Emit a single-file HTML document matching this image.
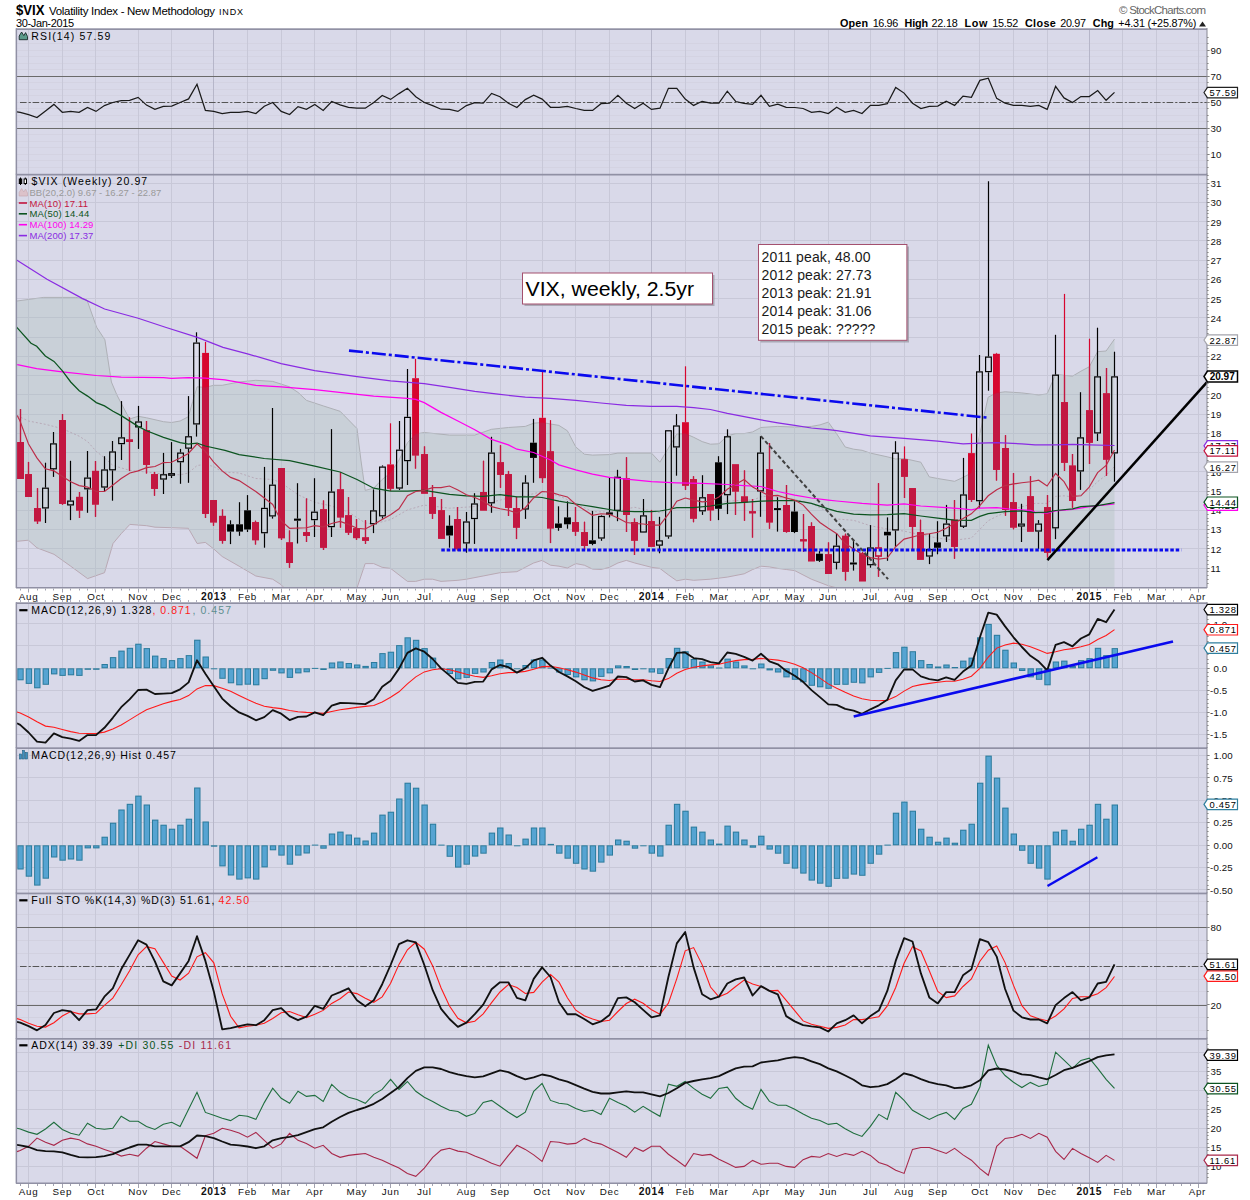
<!DOCTYPE html>
<html><head><meta charset="utf-8"><title>$VIX</title>
<style>html,body{margin:0;padding:0;background:#fff}svg{display:block;will-change:opacity;opacity:.9999}text{font-family:"Liberation Sans",sans-serif}</style>
</head><body>
<svg width="1250" height="1200" viewBox="0 0 1250 1200">
<rect x="0" y="0" width="1250" height="1200" fill="#fff"/>
<rect x="16" y="29" width="1191" height="145.5" fill="#d9d9e9"/>
<rect x="16" y="174.5" width="1191" height="413.5" fill="#d9d9e9"/>
<rect x="16" y="603" width="1191" height="580.5" fill="#d9d9e9"/>
<line x1="16" x2="1207" y1="167.5" y2="167.5" stroke="#d4d3e2" stroke-width="1"/>
<line x1="16" x2="1207" y1="160.5" y2="160.5" stroke="#d4d3e2" stroke-width="1"/>
<line x1="16" x2="1207" y1="154.5" y2="154.5" stroke="#d4d3e2" stroke-width="1"/>
<line x1="16" x2="1207" y1="147.5" y2="147.5" stroke="#d4d3e2" stroke-width="1"/>
<line x1="16" x2="1207" y1="141.5" y2="141.5" stroke="#d4d3e2" stroke-width="1"/>
<line x1="16" x2="1207" y1="134.5" y2="134.5" stroke="#d4d3e2" stroke-width="1"/>
<line x1="16" x2="1207" y1="128.5" y2="128.5" stroke="#d4d3e2" stroke-width="1"/>
<line x1="16" x2="1207" y1="121.5" y2="121.5" stroke="#d4d3e2" stroke-width="1"/>
<line x1="16" x2="1207" y1="115.5" y2="115.5" stroke="#d4d3e2" stroke-width="1"/>
<line x1="16" x2="1207" y1="108.5" y2="108.5" stroke="#d4d3e2" stroke-width="1"/>
<line x1="16" x2="1207" y1="102.5" y2="102.5" stroke="#d4d3e2" stroke-width="1"/>
<line x1="16" x2="1207" y1="95.5" y2="95.5" stroke="#d4d3e2" stroke-width="1"/>
<line x1="16" x2="1207" y1="89.5" y2="89.5" stroke="#d4d3e2" stroke-width="1"/>
<line x1="16" x2="1207" y1="82.5" y2="82.5" stroke="#d4d3e2" stroke-width="1"/>
<line x1="16" x2="1207" y1="76.5" y2="76.5" stroke="#d4d3e2" stroke-width="1"/>
<line x1="16" x2="1207" y1="69.5" y2="69.5" stroke="#d4d3e2" stroke-width="1"/>
<line x1="16" x2="1207" y1="63.5" y2="63.5" stroke="#d4d3e2" stroke-width="1"/>
<line x1="16" x2="1207" y1="56.5" y2="56.5" stroke="#d4d3e2" stroke-width="1"/>
<line x1="16" x2="1207" y1="50.5" y2="50.5" stroke="#d4d3e2" stroke-width="1"/>
<line x1="16" x2="1207" y1="43.5" y2="43.5" stroke="#d4d3e2" stroke-width="1"/>
<line x1="16" x2="1207" y1="568.5" y2="568.5" stroke="#c8c8d8" stroke-width="1"/>
<line x1="16" x2="1207" y1="548.5" y2="548.5" stroke="#c8c8d8" stroke-width="1"/>
<line x1="16" x2="1207" y1="529.5" y2="529.5" stroke="#c8c8d8" stroke-width="1"/>
<line x1="16" x2="1207" y1="510.5" y2="510.5" stroke="#c8c8d8" stroke-width="1"/>
<line x1="16" x2="1207" y1="491.5" y2="491.5" stroke="#c8c8d8" stroke-width="1"/>
<line x1="16" x2="1207" y1="471.5" y2="471.5" stroke="#c8c8d8" stroke-width="1"/>
<line x1="16" x2="1207" y1="452.5" y2="452.5" stroke="#c8c8d8" stroke-width="1"/>
<line x1="16" x2="1207" y1="433.5" y2="433.5" stroke="#c8c8d8" stroke-width="1"/>
<line x1="16" x2="1207" y1="414.5" y2="414.5" stroke="#c8c8d8" stroke-width="1"/>
<line x1="16" x2="1207" y1="394.5" y2="394.5" stroke="#c8c8d8" stroke-width="1"/>
<line x1="16" x2="1207" y1="375.5" y2="375.5" stroke="#c8c8d8" stroke-width="1"/>
<line x1="16" x2="1207" y1="356.5" y2="356.5" stroke="#c8c8d8" stroke-width="1"/>
<line x1="16" x2="1207" y1="337.5" y2="337.5" stroke="#c8c8d8" stroke-width="1"/>
<line x1="16" x2="1207" y1="317.5" y2="317.5" stroke="#c8c8d8" stroke-width="1"/>
<line x1="16" x2="1207" y1="298.5" y2="298.5" stroke="#c8c8d8" stroke-width="1"/>
<line x1="16" x2="1207" y1="279.5" y2="279.5" stroke="#c8c8d8" stroke-width="1"/>
<line x1="16" x2="1207" y1="260.5" y2="260.5" stroke="#c8c8d8" stroke-width="1"/>
<line x1="16" x2="1207" y1="240.5" y2="240.5" stroke="#c8c8d8" stroke-width="1"/>
<line x1="16" x2="1207" y1="221.5" y2="221.5" stroke="#c8c8d8" stroke-width="1"/>
<line x1="16" x2="1207" y1="202.5" y2="202.5" stroke="#c8c8d8" stroke-width="1"/>
<line x1="16" x2="1207" y1="183.5" y2="183.5" stroke="#c8c8d8" stroke-width="1"/>
<line x1="16" x2="1207" y1="734.5" y2="734.5" stroke="#c8c8d8" stroke-width="1"/>
<line x1="16" x2="1207" y1="712.5" y2="712.5" stroke="#c8c8d8" stroke-width="1"/>
<line x1="16" x2="1207" y1="690.5" y2="690.5" stroke="#c8c8d8" stroke-width="1"/>
<line x1="16" x2="1207" y1="668.5" y2="668.5" stroke="#c8c8d8" stroke-width="1"/>
<line x1="16" x2="1207" y1="645.5" y2="645.5" stroke="#c8c8d8" stroke-width="1"/>
<line x1="16" x2="1207" y1="623.5" y2="623.5" stroke="#c8c8d8" stroke-width="1"/>
<line x1="16" x2="1207" y1="889.5" y2="889.5" stroke="#c8c8d8" stroke-width="1"/>
<line x1="16" x2="1207" y1="867.5" y2="867.5" stroke="#c8c8d8" stroke-width="1"/>
<line x1="16" x2="1207" y1="845.5" y2="845.5" stroke="#c8c8d8" stroke-width="1"/>
<line x1="16" x2="1207" y1="822.5" y2="822.5" stroke="#c8c8d8" stroke-width="1"/>
<line x1="16" x2="1207" y1="800.5" y2="800.5" stroke="#c8c8d8" stroke-width="1"/>
<line x1="16" x2="1207" y1="777.5" y2="777.5" stroke="#c8c8d8" stroke-width="1"/>
<line x1="16" x2="1207" y1="755.5" y2="755.5" stroke="#c8c8d8" stroke-width="1"/>
<line x1="16" x2="1207" y1="1030.5" y2="1030.5" stroke="#d2d1e0" stroke-width="1"/>
<line x1="16" x2="1207" y1="1017.5" y2="1017.5" stroke="#d2d1e0" stroke-width="1"/>
<line x1="16" x2="1207" y1="1004.5" y2="1004.5" stroke="#d2d1e0" stroke-width="1"/>
<line x1="16" x2="1207" y1="991.5" y2="991.5" stroke="#d2d1e0" stroke-width="1"/>
<line x1="16" x2="1207" y1="979.5" y2="979.5" stroke="#d2d1e0" stroke-width="1"/>
<line x1="16" x2="1207" y1="966.5" y2="966.5" stroke="#d2d1e0" stroke-width="1"/>
<line x1="16" x2="1207" y1="953.5" y2="953.5" stroke="#d2d1e0" stroke-width="1"/>
<line x1="16" x2="1207" y1="940.5" y2="940.5" stroke="#d2d1e0" stroke-width="1"/>
<line x1="16" x2="1207" y1="927.5" y2="927.5" stroke="#d2d1e0" stroke-width="1"/>
<line x1="16" x2="1207" y1="914.5" y2="914.5" stroke="#d2d1e0" stroke-width="1"/>
<line x1="16" x2="1207" y1="901.5" y2="901.5" stroke="#d2d1e0" stroke-width="1"/>
<line x1="16" x2="1207" y1="1166.5" y2="1166.5" stroke="#c8c8d8" stroke-width="1"/>
<line x1="16" x2="1207" y1="1147.5" y2="1147.5" stroke="#c8c8d8" stroke-width="1"/>
<line x1="16" x2="1207" y1="1128.5" y2="1128.5" stroke="#c8c8d8" stroke-width="1"/>
<line x1="16" x2="1207" y1="1109.5" y2="1109.5" stroke="#c8c8d8" stroke-width="1"/>
<line x1="16" x2="1207" y1="1090.5" y2="1090.5" stroke="#c8c8d8" stroke-width="1"/>
<line x1="16" x2="1207" y1="1071.5" y2="1071.5" stroke="#c8c8d8" stroke-width="1"/>
<line x1="16" x2="1207" y1="1052.5" y2="1052.5" stroke="#c8c8d8" stroke-width="1"/>
<line x1="28.5" x2="28.5" y1="29" y2="174.5" stroke="#c8c8d8" stroke-width="1"/>
<line x1="62.5" x2="62.5" y1="29" y2="174.5" stroke="#c8c8d8" stroke-width="1"/>
<line x1="95.5" x2="95.5" y1="29" y2="174.5" stroke="#c8c8d8" stroke-width="1"/>
<line x1="138.5" x2="138.5" y1="29" y2="174.5" stroke="#c8c8d8" stroke-width="1"/>
<line x1="171.5" x2="171.5" y1="29" y2="174.5" stroke="#c8c8d8" stroke-width="1"/>
<line x1="213.5" x2="213.5" y1="29" y2="174.5" stroke="#b6b6c9" stroke-width="1"/>
<line x1="247.5" x2="247.5" y1="29" y2="174.5" stroke="#c8c8d8" stroke-width="1"/>
<line x1="281.5" x2="281.5" y1="29" y2="174.5" stroke="#c8c8d8" stroke-width="1"/>
<line x1="314.5" x2="314.5" y1="29" y2="174.5" stroke="#c8c8d8" stroke-width="1"/>
<line x1="356.5" x2="356.5" y1="29" y2="174.5" stroke="#c8c8d8" stroke-width="1"/>
<line x1="390.5" x2="390.5" y1="29" y2="174.5" stroke="#c8c8d8" stroke-width="1"/>
<line x1="424.5" x2="424.5" y1="29" y2="174.5" stroke="#c8c8d8" stroke-width="1"/>
<line x1="466.5" x2="466.5" y1="29" y2="174.5" stroke="#c8c8d8" stroke-width="1"/>
<line x1="500.5" x2="500.5" y1="29" y2="174.5" stroke="#c8c8d8" stroke-width="1"/>
<line x1="542.5" x2="542.5" y1="29" y2="174.5" stroke="#c8c8d8" stroke-width="1"/>
<line x1="575.5" x2="575.5" y1="29" y2="174.5" stroke="#c8c8d8" stroke-width="1"/>
<line x1="609.5" x2="609.5" y1="29" y2="174.5" stroke="#c8c8d8" stroke-width="1"/>
<line x1="651.5" x2="651.5" y1="29" y2="174.5" stroke="#b6b6c9" stroke-width="1"/>
<line x1="685.5" x2="685.5" y1="29" y2="174.5" stroke="#c8c8d8" stroke-width="1"/>
<line x1="718.5" x2="718.5" y1="29" y2="174.5" stroke="#c8c8d8" stroke-width="1"/>
<line x1="760.5" x2="760.5" y1="29" y2="174.5" stroke="#c8c8d8" stroke-width="1"/>
<line x1="794.5" x2="794.5" y1="29" y2="174.5" stroke="#c8c8d8" stroke-width="1"/>
<line x1="828.5" x2="828.5" y1="29" y2="174.5" stroke="#c8c8d8" stroke-width="1"/>
<line x1="870.5" x2="870.5" y1="29" y2="174.5" stroke="#c8c8d8" stroke-width="1"/>
<line x1="904.5" x2="904.5" y1="29" y2="174.5" stroke="#c8c8d8" stroke-width="1"/>
<line x1="937.5" x2="937.5" y1="29" y2="174.5" stroke="#c8c8d8" stroke-width="1"/>
<line x1="979.5" x2="979.5" y1="29" y2="174.5" stroke="#c8c8d8" stroke-width="1"/>
<line x1="1013.5" x2="1013.5" y1="29" y2="174.5" stroke="#c8c8d8" stroke-width="1"/>
<line x1="1047.5" x2="1047.5" y1="29" y2="174.5" stroke="#c8c8d8" stroke-width="1"/>
<line x1="1089.5" x2="1089.5" y1="29" y2="174.5" stroke="#b6b6c9" stroke-width="1"/>
<line x1="1122.5" x2="1122.5" y1="29" y2="174.5" stroke="#c8c8d8" stroke-width="1"/>
<line x1="1156.5" x2="1156.5" y1="29" y2="174.5" stroke="#c8c8d8" stroke-width="1"/>
<line x1="1198.5" x2="1198.5" y1="29" y2="174.5" stroke="#c8c8d8" stroke-width="1"/>
<line x1="28.5" x2="28.5" y1="174.5" y2="588" stroke="#c8c8d8" stroke-width="1"/>
<line x1="62.5" x2="62.5" y1="174.5" y2="588" stroke="#c8c8d8" stroke-width="1"/>
<line x1="95.5" x2="95.5" y1="174.5" y2="588" stroke="#c8c8d8" stroke-width="1"/>
<line x1="138.5" x2="138.5" y1="174.5" y2="588" stroke="#c8c8d8" stroke-width="1"/>
<line x1="171.5" x2="171.5" y1="174.5" y2="588" stroke="#c8c8d8" stroke-width="1"/>
<line x1="213.5" x2="213.5" y1="174.5" y2="588" stroke="#b6b6c9" stroke-width="1"/>
<line x1="247.5" x2="247.5" y1="174.5" y2="588" stroke="#c8c8d8" stroke-width="1"/>
<line x1="281.5" x2="281.5" y1="174.5" y2="588" stroke="#c8c8d8" stroke-width="1"/>
<line x1="314.5" x2="314.5" y1="174.5" y2="588" stroke="#c8c8d8" stroke-width="1"/>
<line x1="356.5" x2="356.5" y1="174.5" y2="588" stroke="#c8c8d8" stroke-width="1"/>
<line x1="390.5" x2="390.5" y1="174.5" y2="588" stroke="#c8c8d8" stroke-width="1"/>
<line x1="424.5" x2="424.5" y1="174.5" y2="588" stroke="#c8c8d8" stroke-width="1"/>
<line x1="466.5" x2="466.5" y1="174.5" y2="588" stroke="#c8c8d8" stroke-width="1"/>
<line x1="500.5" x2="500.5" y1="174.5" y2="588" stroke="#c8c8d8" stroke-width="1"/>
<line x1="542.5" x2="542.5" y1="174.5" y2="588" stroke="#c8c8d8" stroke-width="1"/>
<line x1="575.5" x2="575.5" y1="174.5" y2="588" stroke="#c8c8d8" stroke-width="1"/>
<line x1="609.5" x2="609.5" y1="174.5" y2="588" stroke="#c8c8d8" stroke-width="1"/>
<line x1="651.5" x2="651.5" y1="174.5" y2="588" stroke="#b6b6c9" stroke-width="1"/>
<line x1="685.5" x2="685.5" y1="174.5" y2="588" stroke="#c8c8d8" stroke-width="1"/>
<line x1="718.5" x2="718.5" y1="174.5" y2="588" stroke="#c8c8d8" stroke-width="1"/>
<line x1="760.5" x2="760.5" y1="174.5" y2="588" stroke="#c8c8d8" stroke-width="1"/>
<line x1="794.5" x2="794.5" y1="174.5" y2="588" stroke="#c8c8d8" stroke-width="1"/>
<line x1="828.5" x2="828.5" y1="174.5" y2="588" stroke="#c8c8d8" stroke-width="1"/>
<line x1="870.5" x2="870.5" y1="174.5" y2="588" stroke="#c8c8d8" stroke-width="1"/>
<line x1="904.5" x2="904.5" y1="174.5" y2="588" stroke="#c8c8d8" stroke-width="1"/>
<line x1="937.5" x2="937.5" y1="174.5" y2="588" stroke="#c8c8d8" stroke-width="1"/>
<line x1="979.5" x2="979.5" y1="174.5" y2="588" stroke="#c8c8d8" stroke-width="1"/>
<line x1="1013.5" x2="1013.5" y1="174.5" y2="588" stroke="#c8c8d8" stroke-width="1"/>
<line x1="1047.5" x2="1047.5" y1="174.5" y2="588" stroke="#c8c8d8" stroke-width="1"/>
<line x1="1089.5" x2="1089.5" y1="174.5" y2="588" stroke="#b6b6c9" stroke-width="1"/>
<line x1="1122.5" x2="1122.5" y1="174.5" y2="588" stroke="#c8c8d8" stroke-width="1"/>
<line x1="1156.5" x2="1156.5" y1="174.5" y2="588" stroke="#c8c8d8" stroke-width="1"/>
<line x1="1198.5" x2="1198.5" y1="174.5" y2="588" stroke="#c8c8d8" stroke-width="1"/>
<line x1="28.5" x2="28.5" y1="603" y2="748" stroke="#c8c8d8" stroke-width="1"/>
<line x1="62.5" x2="62.5" y1="603" y2="748" stroke="#c8c8d8" stroke-width="1"/>
<line x1="95.5" x2="95.5" y1="603" y2="748" stroke="#c8c8d8" stroke-width="1"/>
<line x1="138.5" x2="138.5" y1="603" y2="748" stroke="#c8c8d8" stroke-width="1"/>
<line x1="171.5" x2="171.5" y1="603" y2="748" stroke="#c8c8d8" stroke-width="1"/>
<line x1="213.5" x2="213.5" y1="603" y2="748" stroke="#b6b6c9" stroke-width="1"/>
<line x1="247.5" x2="247.5" y1="603" y2="748" stroke="#c8c8d8" stroke-width="1"/>
<line x1="281.5" x2="281.5" y1="603" y2="748" stroke="#c8c8d8" stroke-width="1"/>
<line x1="314.5" x2="314.5" y1="603" y2="748" stroke="#c8c8d8" stroke-width="1"/>
<line x1="356.5" x2="356.5" y1="603" y2="748" stroke="#c8c8d8" stroke-width="1"/>
<line x1="390.5" x2="390.5" y1="603" y2="748" stroke="#c8c8d8" stroke-width="1"/>
<line x1="424.5" x2="424.5" y1="603" y2="748" stroke="#c8c8d8" stroke-width="1"/>
<line x1="466.5" x2="466.5" y1="603" y2="748" stroke="#c8c8d8" stroke-width="1"/>
<line x1="500.5" x2="500.5" y1="603" y2="748" stroke="#c8c8d8" stroke-width="1"/>
<line x1="542.5" x2="542.5" y1="603" y2="748" stroke="#c8c8d8" stroke-width="1"/>
<line x1="575.5" x2="575.5" y1="603" y2="748" stroke="#c8c8d8" stroke-width="1"/>
<line x1="609.5" x2="609.5" y1="603" y2="748" stroke="#c8c8d8" stroke-width="1"/>
<line x1="651.5" x2="651.5" y1="603" y2="748" stroke="#b6b6c9" stroke-width="1"/>
<line x1="685.5" x2="685.5" y1="603" y2="748" stroke="#c8c8d8" stroke-width="1"/>
<line x1="718.5" x2="718.5" y1="603" y2="748" stroke="#c8c8d8" stroke-width="1"/>
<line x1="760.5" x2="760.5" y1="603" y2="748" stroke="#c8c8d8" stroke-width="1"/>
<line x1="794.5" x2="794.5" y1="603" y2="748" stroke="#c8c8d8" stroke-width="1"/>
<line x1="828.5" x2="828.5" y1="603" y2="748" stroke="#c8c8d8" stroke-width="1"/>
<line x1="870.5" x2="870.5" y1="603" y2="748" stroke="#c8c8d8" stroke-width="1"/>
<line x1="904.5" x2="904.5" y1="603" y2="748" stroke="#c8c8d8" stroke-width="1"/>
<line x1="937.5" x2="937.5" y1="603" y2="748" stroke="#c8c8d8" stroke-width="1"/>
<line x1="979.5" x2="979.5" y1="603" y2="748" stroke="#c8c8d8" stroke-width="1"/>
<line x1="1013.5" x2="1013.5" y1="603" y2="748" stroke="#c8c8d8" stroke-width="1"/>
<line x1="1047.5" x2="1047.5" y1="603" y2="748" stroke="#c8c8d8" stroke-width="1"/>
<line x1="1089.5" x2="1089.5" y1="603" y2="748" stroke="#b6b6c9" stroke-width="1"/>
<line x1="1122.5" x2="1122.5" y1="603" y2="748" stroke="#c8c8d8" stroke-width="1"/>
<line x1="1156.5" x2="1156.5" y1="603" y2="748" stroke="#c8c8d8" stroke-width="1"/>
<line x1="1198.5" x2="1198.5" y1="603" y2="748" stroke="#c8c8d8" stroke-width="1"/>
<line x1="28.5" x2="28.5" y1="748" y2="893.3" stroke="#c8c8d8" stroke-width="1"/>
<line x1="62.5" x2="62.5" y1="748" y2="893.3" stroke="#c8c8d8" stroke-width="1"/>
<line x1="95.5" x2="95.5" y1="748" y2="893.3" stroke="#c8c8d8" stroke-width="1"/>
<line x1="138.5" x2="138.5" y1="748" y2="893.3" stroke="#c8c8d8" stroke-width="1"/>
<line x1="171.5" x2="171.5" y1="748" y2="893.3" stroke="#c8c8d8" stroke-width="1"/>
<line x1="213.5" x2="213.5" y1="748" y2="893.3" stroke="#b6b6c9" stroke-width="1"/>
<line x1="247.5" x2="247.5" y1="748" y2="893.3" stroke="#c8c8d8" stroke-width="1"/>
<line x1="281.5" x2="281.5" y1="748" y2="893.3" stroke="#c8c8d8" stroke-width="1"/>
<line x1="314.5" x2="314.5" y1="748" y2="893.3" stroke="#c8c8d8" stroke-width="1"/>
<line x1="356.5" x2="356.5" y1="748" y2="893.3" stroke="#c8c8d8" stroke-width="1"/>
<line x1="390.5" x2="390.5" y1="748" y2="893.3" stroke="#c8c8d8" stroke-width="1"/>
<line x1="424.5" x2="424.5" y1="748" y2="893.3" stroke="#c8c8d8" stroke-width="1"/>
<line x1="466.5" x2="466.5" y1="748" y2="893.3" stroke="#c8c8d8" stroke-width="1"/>
<line x1="500.5" x2="500.5" y1="748" y2="893.3" stroke="#c8c8d8" stroke-width="1"/>
<line x1="542.5" x2="542.5" y1="748" y2="893.3" stroke="#c8c8d8" stroke-width="1"/>
<line x1="575.5" x2="575.5" y1="748" y2="893.3" stroke="#c8c8d8" stroke-width="1"/>
<line x1="609.5" x2="609.5" y1="748" y2="893.3" stroke="#c8c8d8" stroke-width="1"/>
<line x1="651.5" x2="651.5" y1="748" y2="893.3" stroke="#b6b6c9" stroke-width="1"/>
<line x1="685.5" x2="685.5" y1="748" y2="893.3" stroke="#c8c8d8" stroke-width="1"/>
<line x1="718.5" x2="718.5" y1="748" y2="893.3" stroke="#c8c8d8" stroke-width="1"/>
<line x1="760.5" x2="760.5" y1="748" y2="893.3" stroke="#c8c8d8" stroke-width="1"/>
<line x1="794.5" x2="794.5" y1="748" y2="893.3" stroke="#c8c8d8" stroke-width="1"/>
<line x1="828.5" x2="828.5" y1="748" y2="893.3" stroke="#c8c8d8" stroke-width="1"/>
<line x1="870.5" x2="870.5" y1="748" y2="893.3" stroke="#c8c8d8" stroke-width="1"/>
<line x1="904.5" x2="904.5" y1="748" y2="893.3" stroke="#c8c8d8" stroke-width="1"/>
<line x1="937.5" x2="937.5" y1="748" y2="893.3" stroke="#c8c8d8" stroke-width="1"/>
<line x1="979.5" x2="979.5" y1="748" y2="893.3" stroke="#c8c8d8" stroke-width="1"/>
<line x1="1013.5" x2="1013.5" y1="748" y2="893.3" stroke="#c8c8d8" stroke-width="1"/>
<line x1="1047.5" x2="1047.5" y1="748" y2="893.3" stroke="#c8c8d8" stroke-width="1"/>
<line x1="1089.5" x2="1089.5" y1="748" y2="893.3" stroke="#b6b6c9" stroke-width="1"/>
<line x1="1122.5" x2="1122.5" y1="748" y2="893.3" stroke="#c8c8d8" stroke-width="1"/>
<line x1="1156.5" x2="1156.5" y1="748" y2="893.3" stroke="#c8c8d8" stroke-width="1"/>
<line x1="1198.5" x2="1198.5" y1="748" y2="893.3" stroke="#c8c8d8" stroke-width="1"/>
<line x1="28.5" x2="28.5" y1="893.3" y2="1038.7" stroke="#c8c8d8" stroke-width="1"/>
<line x1="62.5" x2="62.5" y1="893.3" y2="1038.7" stroke="#c8c8d8" stroke-width="1"/>
<line x1="95.5" x2="95.5" y1="893.3" y2="1038.7" stroke="#c8c8d8" stroke-width="1"/>
<line x1="138.5" x2="138.5" y1="893.3" y2="1038.7" stroke="#c8c8d8" stroke-width="1"/>
<line x1="171.5" x2="171.5" y1="893.3" y2="1038.7" stroke="#c8c8d8" stroke-width="1"/>
<line x1="213.5" x2="213.5" y1="893.3" y2="1038.7" stroke="#b6b6c9" stroke-width="1"/>
<line x1="247.5" x2="247.5" y1="893.3" y2="1038.7" stroke="#c8c8d8" stroke-width="1"/>
<line x1="281.5" x2="281.5" y1="893.3" y2="1038.7" stroke="#c8c8d8" stroke-width="1"/>
<line x1="314.5" x2="314.5" y1="893.3" y2="1038.7" stroke="#c8c8d8" stroke-width="1"/>
<line x1="356.5" x2="356.5" y1="893.3" y2="1038.7" stroke="#c8c8d8" stroke-width="1"/>
<line x1="390.5" x2="390.5" y1="893.3" y2="1038.7" stroke="#c8c8d8" stroke-width="1"/>
<line x1="424.5" x2="424.5" y1="893.3" y2="1038.7" stroke="#c8c8d8" stroke-width="1"/>
<line x1="466.5" x2="466.5" y1="893.3" y2="1038.7" stroke="#c8c8d8" stroke-width="1"/>
<line x1="500.5" x2="500.5" y1="893.3" y2="1038.7" stroke="#c8c8d8" stroke-width="1"/>
<line x1="542.5" x2="542.5" y1="893.3" y2="1038.7" stroke="#c8c8d8" stroke-width="1"/>
<line x1="575.5" x2="575.5" y1="893.3" y2="1038.7" stroke="#c8c8d8" stroke-width="1"/>
<line x1="609.5" x2="609.5" y1="893.3" y2="1038.7" stroke="#c8c8d8" stroke-width="1"/>
<line x1="651.5" x2="651.5" y1="893.3" y2="1038.7" stroke="#b6b6c9" stroke-width="1"/>
<line x1="685.5" x2="685.5" y1="893.3" y2="1038.7" stroke="#c8c8d8" stroke-width="1"/>
<line x1="718.5" x2="718.5" y1="893.3" y2="1038.7" stroke="#c8c8d8" stroke-width="1"/>
<line x1="760.5" x2="760.5" y1="893.3" y2="1038.7" stroke="#c8c8d8" stroke-width="1"/>
<line x1="794.5" x2="794.5" y1="893.3" y2="1038.7" stroke="#c8c8d8" stroke-width="1"/>
<line x1="828.5" x2="828.5" y1="893.3" y2="1038.7" stroke="#c8c8d8" stroke-width="1"/>
<line x1="870.5" x2="870.5" y1="893.3" y2="1038.7" stroke="#c8c8d8" stroke-width="1"/>
<line x1="904.5" x2="904.5" y1="893.3" y2="1038.7" stroke="#c8c8d8" stroke-width="1"/>
<line x1="937.5" x2="937.5" y1="893.3" y2="1038.7" stroke="#c8c8d8" stroke-width="1"/>
<line x1="979.5" x2="979.5" y1="893.3" y2="1038.7" stroke="#c8c8d8" stroke-width="1"/>
<line x1="1013.5" x2="1013.5" y1="893.3" y2="1038.7" stroke="#c8c8d8" stroke-width="1"/>
<line x1="1047.5" x2="1047.5" y1="893.3" y2="1038.7" stroke="#c8c8d8" stroke-width="1"/>
<line x1="1089.5" x2="1089.5" y1="893.3" y2="1038.7" stroke="#b6b6c9" stroke-width="1"/>
<line x1="1122.5" x2="1122.5" y1="893.3" y2="1038.7" stroke="#c8c8d8" stroke-width="1"/>
<line x1="1156.5" x2="1156.5" y1="893.3" y2="1038.7" stroke="#c8c8d8" stroke-width="1"/>
<line x1="1198.5" x2="1198.5" y1="893.3" y2="1038.7" stroke="#c8c8d8" stroke-width="1"/>
<line x1="28.5" x2="28.5" y1="1038.7" y2="1183.5" stroke="#c8c8d8" stroke-width="1"/>
<line x1="62.5" x2="62.5" y1="1038.7" y2="1183.5" stroke="#c8c8d8" stroke-width="1"/>
<line x1="95.5" x2="95.5" y1="1038.7" y2="1183.5" stroke="#c8c8d8" stroke-width="1"/>
<line x1="138.5" x2="138.5" y1="1038.7" y2="1183.5" stroke="#c8c8d8" stroke-width="1"/>
<line x1="171.5" x2="171.5" y1="1038.7" y2="1183.5" stroke="#c8c8d8" stroke-width="1"/>
<line x1="213.5" x2="213.5" y1="1038.7" y2="1183.5" stroke="#b6b6c9" stroke-width="1"/>
<line x1="247.5" x2="247.5" y1="1038.7" y2="1183.5" stroke="#c8c8d8" stroke-width="1"/>
<line x1="281.5" x2="281.5" y1="1038.7" y2="1183.5" stroke="#c8c8d8" stroke-width="1"/>
<line x1="314.5" x2="314.5" y1="1038.7" y2="1183.5" stroke="#c8c8d8" stroke-width="1"/>
<line x1="356.5" x2="356.5" y1="1038.7" y2="1183.5" stroke="#c8c8d8" stroke-width="1"/>
<line x1="390.5" x2="390.5" y1="1038.7" y2="1183.5" stroke="#c8c8d8" stroke-width="1"/>
<line x1="424.5" x2="424.5" y1="1038.7" y2="1183.5" stroke="#c8c8d8" stroke-width="1"/>
<line x1="466.5" x2="466.5" y1="1038.7" y2="1183.5" stroke="#c8c8d8" stroke-width="1"/>
<line x1="500.5" x2="500.5" y1="1038.7" y2="1183.5" stroke="#c8c8d8" stroke-width="1"/>
<line x1="542.5" x2="542.5" y1="1038.7" y2="1183.5" stroke="#c8c8d8" stroke-width="1"/>
<line x1="575.5" x2="575.5" y1="1038.7" y2="1183.5" stroke="#c8c8d8" stroke-width="1"/>
<line x1="609.5" x2="609.5" y1="1038.7" y2="1183.5" stroke="#c8c8d8" stroke-width="1"/>
<line x1="651.5" x2="651.5" y1="1038.7" y2="1183.5" stroke="#b6b6c9" stroke-width="1"/>
<line x1="685.5" x2="685.5" y1="1038.7" y2="1183.5" stroke="#c8c8d8" stroke-width="1"/>
<line x1="718.5" x2="718.5" y1="1038.7" y2="1183.5" stroke="#c8c8d8" stroke-width="1"/>
<line x1="760.5" x2="760.5" y1="1038.7" y2="1183.5" stroke="#c8c8d8" stroke-width="1"/>
<line x1="794.5" x2="794.5" y1="1038.7" y2="1183.5" stroke="#c8c8d8" stroke-width="1"/>
<line x1="828.5" x2="828.5" y1="1038.7" y2="1183.5" stroke="#c8c8d8" stroke-width="1"/>
<line x1="870.5" x2="870.5" y1="1038.7" y2="1183.5" stroke="#c8c8d8" stroke-width="1"/>
<line x1="904.5" x2="904.5" y1="1038.7" y2="1183.5" stroke="#c8c8d8" stroke-width="1"/>
<line x1="937.5" x2="937.5" y1="1038.7" y2="1183.5" stroke="#c8c8d8" stroke-width="1"/>
<line x1="979.5" x2="979.5" y1="1038.7" y2="1183.5" stroke="#c8c8d8" stroke-width="1"/>
<line x1="1013.5" x2="1013.5" y1="1038.7" y2="1183.5" stroke="#c8c8d8" stroke-width="1"/>
<line x1="1047.5" x2="1047.5" y1="1038.7" y2="1183.5" stroke="#c8c8d8" stroke-width="1"/>
<line x1="1089.5" x2="1089.5" y1="1038.7" y2="1183.5" stroke="#b6b6c9" stroke-width="1"/>
<line x1="1122.5" x2="1122.5" y1="1038.7" y2="1183.5" stroke="#c8c8d8" stroke-width="1"/>
<line x1="1156.5" x2="1156.5" y1="1038.7" y2="1183.5" stroke="#c8c8d8" stroke-width="1"/>
<line x1="1198.5" x2="1198.5" y1="1038.7" y2="1183.5" stroke="#c8c8d8" stroke-width="1"/>
<line x1="16" x2="1207" y1="76.5" y2="76.5" stroke="#6a6a6a" stroke-width="1.2"/>
<line x1="16" x2="1207" y1="128.5" y2="128.5" stroke="#6a6a6a" stroke-width="1.2"/>
<line x1="20" x2="1207" y1="102.5" y2="102.5" stroke="#555" stroke-width="1" stroke-dasharray="6.6,2,2.2,1.8"/>
<polyline fill="none" stroke="#1a1a1a" stroke-width="1.25" points="17,111.8 20.2,112.3 28.6,114.7 37,117.6 45.5,110.9 53.9,104.4 62.3,112.3 70.7,111.4 79.1,112.3 87.5,107.5 96,111.4 104.4,105.6 112.8,102.5 121.2,100.6 129.6,100.3 138.1,97.4 146.5,105.1 154.9,109.4 163.3,106.3 171.7,106.1 180.1,102.5 188.6,98.9 197,84.2 205.4,110.4 213.8,111.4 222.2,113.5 230.6,112.3 239.1,112.3 247.5,111.4 255.9,113.5 264.3,106.3 272.7,102.5 281.2,111.4 289.6,114.5 298,106.6 306.4,109.4 314.8,104.4 323.2,110.4 331.7,101.5 340.1,104.9 348.5,107.3 356.9,108.2 365.3,108.2 373.8,102.5 382.2,95.5 390.6,99.4 399,93.6 407.4,88.3 415.8,96.7 424.3,102.5 432.7,105.6 441.1,109.2 449.5,109.4 457.9,111.4 466.4,105.6 474.8,102.7 483.2,103.2 491.6,93.4 500,96.7 508.4,103.2 516.9,107.5 525.3,99.6 533.7,95.3 542.1,99.1 550.5,107.3 559,107.3 567.4,106.3 575.8,108.5 584.2,110.4 592.6,110.4 601,103.7 609.5,103.2 617.9,95.3 626.3,103.2 634.7,108.5 643.1,103.2 651.5,109.4 660,108.2 668.4,88.3 676.8,88.3 685.2,99.1 693.6,105.4 702.1,101.3 710.5,103.2 718.9,103.2 727.3,91.2 735.7,101.5 744.1,103.4 752.6,104.4 761,95.3 769.4,106.3 777.8,104.2 786.2,107.3 794.7,107.5 803.1,108.5 811.5,112.3 819.9,111.4 828.3,113.5 836.7,107.3 845.2,112.3 853.6,110.4 862,113.5 870.4,105.4 878.8,105.4 887.3,103.7 895.7,87.4 904.1,93.1 912.5,103.2 920.9,108.5 929.3,106.3 937.8,106.1 946.2,101.3 954.6,105.4 963,96.2 971.4,97.4 979.9,80.4 988.3,78.2 996.7,98.4 1005.1,103.2 1013.5,105.4 1021.9,105.4 1030.4,106.3 1038.8,105.4 1047.2,109.4 1055.6,86.4 1064,97.9 1072.5,102.5 1080.9,96.5 1089.3,96.5 1097.7,90.5 1106.1,100.3 1114.5,92.4"/>
<clipPath id="cm"><rect x="16" y="174.5" width="1191" height="413.5"/></clipPath><g clip-path="url(#cm)">
<polygon fill="#c9d0d8" stroke="none" points="17,301 43.8,297.4 75.8,297.4 87,300 96.6,327.2 104.9,339.8 111.4,382 116.9,395 127.7,415.6 129.9,418.9 138.1,416.3 146.6,417.8 163.5,421.7 171.5,422.5 180.1,421 188.4,416.7 192.7,401.5 197.1,386.8 205.3,387.4 213.7,385.3 222.2,385.3 239.1,382 255.8,380.3 272.7,381.4 289.6,386.8 298,392.4 306.5,400.4 323.2,405.9 340.1,411.3 357,428.6 360.9,460 365.2,490.4 373.7,488.2 382.1,479.5 390.6,473 399,460 407.5,442.7 415.7,434 424.2,432.5 449.5,435.1 474.8,435.1 491.5,429.3 508.4,427.5 525.3,426.4 533.6,423.2 542,422.5 558.9,425.4 567.4,430.8 575.8,447 584.3,454.2 592.5,455.1 609.4,454.6 617.9,453.1 634.8,453.1 651.5,453.1 659.9,462.2 668.4,448.1 676.8,434 685.3,433.6 693.7,437.3 702.2,441.6 710.4,444.2 718.9,443.8 727.3,435.8 735.8,433.6 744.2,433.6 752.7,431.9 760.9,427.5 777.8,426.4 794.7,427.1 811.4,426.4 819.9,424.9 828.3,422.1 836.8,434 845.2,447 853.6,449.2 862.1,450.3 870.3,453.1 887.2,456.8 895.7,459 904.1,458.5 920.8,462.2 929.3,476.9 937.7,478.5 954.6,481.3 963.1,477.4 971.3,473 979.8,434 988.2,397.2 996.7,392.9 1005.1,391.8 1021.8,392.9 1038.7,395 1047.1,393.9 1055.6,374.4 1072.5,376.2 1080.9,371.2 1089.2,366.8 1097.6,351.7 1106.1,351 1114.5,339.1 1114.5,339.1 1114.5,595 845.2,593.3 836.7,587.9 828.3,585.7 811.4,579.2 794.7,570.6 786.3,569.5 777.8,568.4 769.4,566.9 760.9,566.2 752.7,569.5 744.2,573.8 727.3,577.1 710.4,579.2 693.7,580.3 685.3,579.2 676.8,580.8 668.4,574.9 659.9,568.4 651.5,567.3 634.8,563 626.3,560.4 617.9,563 609.4,567.3 601,569.5 592.5,569.1 584.3,565.2 575.8,563.6 567.4,568 558.9,566.2 550.5,565.2 542,560.4 533.6,563 525.3,567.3 516.9,571.7 500,572.7 483.1,576 466.4,579.2 457.9,580.3 441,581.4 432.6,579.2 424.2,579.2 415.7,581.4 407.5,581.4 399,574.9 390.6,568.4 382.1,567.3 373.7,563.6 365.2,563.6 357,587.9 348.5,593.3 289.6,593.3 281.1,584.7 272.7,579.2 255.8,576 239.1,566.2 222.2,556.5 213.7,548.9 205.3,542.4 197.1,543.5 188.4,528.3 171.5,527.7 155,527.2 146.6,525.7 129.9,524.4 121.2,533.7 113,543.5 104.5,572.7 87.6,578.6 70.7,566.2 54,554.3 36.9,547.8 28.4,540.2 17.2,541.3"/>
<polyline fill="none" stroke="#aeb0b6" stroke-width="1" points="17,301 43.8,297.4 75.8,297.4 87,300 96.6,327.2 104.9,339.8 111.4,382 116.9,395 127.7,415.6 129.9,418.9 138.1,416.3 146.6,417.8 163.5,421.7 171.5,422.5 180.1,421 188.4,416.7 192.7,401.5 197.1,386.8 205.3,387.4 213.7,385.3 222.2,385.3 239.1,382 255.8,380.3 272.7,381.4 289.6,386.8 298,392.4 306.5,400.4 323.2,405.9 340.1,411.3 357,428.6 360.9,460 365.2,490.4 373.7,488.2 382.1,479.5 390.6,473 399,460 407.5,442.7 415.7,434 424.2,432.5 449.5,435.1 474.8,435.1 491.5,429.3 508.4,427.5 525.3,426.4 533.6,423.2 542,422.5 558.9,425.4 567.4,430.8 575.8,447 584.3,454.2 592.5,455.1 609.4,454.6 617.9,453.1 634.8,453.1 651.5,453.1 659.9,462.2 668.4,448.1 676.8,434 685.3,433.6 693.7,437.3 702.2,441.6 710.4,444.2 718.9,443.8 727.3,435.8 735.8,433.6 744.2,433.6 752.7,431.9 760.9,427.5 777.8,426.4 794.7,427.1 811.4,426.4 819.9,424.9 828.3,422.1 836.8,434 845.2,447 853.6,449.2 862.1,450.3 870.3,453.1 887.2,456.8 895.7,459 904.1,458.5 920.8,462.2 929.3,476.9 937.7,478.5 954.6,481.3 963.1,477.4 971.3,473 979.8,434 988.2,397.2 996.7,392.9 1005.1,391.8 1021.8,392.9 1038.7,395 1047.1,393.9 1055.6,374.4 1072.5,376.2 1080.9,371.2 1089.2,366.8 1097.6,351.7 1106.1,351 1114.5,339.1"/>
<polyline fill="none" stroke="#b9a9b4" stroke-width="1" points="17.2,541.3 28.4,540.2 36.9,547.8 54,554.3 70.7,566.2 87.6,578.6 104.5,572.7 113,543.5 121.2,533.7 129.9,524.4 146.6,525.7 155,527.2 171.5,527.7 188.4,528.3 197.1,543.5 205.3,542.4 213.7,548.9 222.2,556.5 239.1,566.2 255.8,576 272.7,579.2 281.1,584.7 289.6,593.3 348.5,593.3 357,587.9 365.2,563.6 373.7,563.6 382.1,567.3 390.6,568.4 399,574.9 407.5,581.4 415.7,581.4 424.2,579.2 432.6,579.2 441,581.4 457.9,580.3 466.4,579.2 483.1,576 500,572.7 516.9,571.7 525.3,567.3 533.6,563 542,560.4 550.5,565.2 558.9,566.2 567.4,568 575.8,563.6 584.3,565.2 592.5,569.1 601,569.5 609.4,567.3 617.9,563 626.3,560.4 634.8,563 651.5,567.3 659.9,568.4 668.4,574.9 676.8,580.8 685.3,579.2 693.7,580.3 710.4,579.2 727.3,577.1 744.2,573.8 752.7,569.5 760.9,566.2 769.4,566.9 777.8,568.4 786.3,569.5 794.7,570.6 811.4,579.2 828.3,585.7 836.7,587.9 845.2,593.3"/>
<clipPath id="bbc"><polygon points="17,301 43.8,297.4 75.8,297.4 87,300 96.6,327.2 104.9,339.8 111.4,382 116.9,395 127.7,415.6 129.9,418.9 138.1,416.3 146.6,417.8 163.5,421.7 171.5,422.5 180.1,421 188.4,416.7 192.7,401.5 197.1,386.8 205.3,387.4 213.7,385.3 222.2,385.3 239.1,382 255.8,380.3 272.7,381.4 289.6,386.8 298,392.4 306.5,400.4 323.2,405.9 340.1,411.3 357,428.6 360.9,460 365.2,490.4 373.7,488.2 382.1,479.5 390.6,473 399,460 407.5,442.7 415.7,434 424.2,432.5 449.5,435.1 474.8,435.1 491.5,429.3 508.4,427.5 525.3,426.4 533.6,423.2 542,422.5 558.9,425.4 567.4,430.8 575.8,447 584.3,454.2 592.5,455.1 609.4,454.6 617.9,453.1 634.8,453.1 651.5,453.1 659.9,462.2 668.4,448.1 676.8,434 685.3,433.6 693.7,437.3 702.2,441.6 710.4,444.2 718.9,443.8 727.3,435.8 735.8,433.6 744.2,433.6 752.7,431.9 760.9,427.5 777.8,426.4 794.7,427.1 811.4,426.4 819.9,424.9 828.3,422.1 836.8,434 845.2,447 853.6,449.2 862.1,450.3 870.3,453.1 887.2,456.8 895.7,459 904.1,458.5 920.8,462.2 929.3,476.9 937.7,478.5 954.6,481.3 963.1,477.4 971.3,473 979.8,434 988.2,397.2 996.7,392.9 1005.1,391.8 1021.8,392.9 1038.7,395 1047.1,393.9 1055.6,374.4 1072.5,376.2 1080.9,371.2 1089.2,366.8 1097.6,351.7 1106.1,351 1114.5,339.1 1114.5,339.1 1114.5,595 845.2,593.3 836.7,587.9 828.3,585.7 811.4,579.2 794.7,570.6 786.3,569.5 777.8,568.4 769.4,566.9 760.9,566.2 752.7,569.5 744.2,573.8 727.3,577.1 710.4,579.2 693.7,580.3 685.3,579.2 676.8,580.8 668.4,574.9 659.9,568.4 651.5,567.3 634.8,563 626.3,560.4 617.9,563 609.4,567.3 601,569.5 592.5,569.1 584.3,565.2 575.8,563.6 567.4,568 558.9,566.2 550.5,565.2 542,560.4 533.6,563 525.3,567.3 516.9,571.7 500,572.7 483.1,576 466.4,579.2 457.9,580.3 441,581.4 432.6,579.2 424.2,579.2 415.7,581.4 407.5,581.4 399,574.9 390.6,568.4 382.1,567.3 373.7,563.6 365.2,563.6 357,587.9 348.5,593.3 289.6,593.3 281.1,584.7 272.7,579.2 255.8,576 239.1,566.2 222.2,556.5 213.7,548.9 205.3,542.4 197.1,543.5 188.4,528.3 171.5,527.7 155,527.2 146.6,525.7 129.9,524.4 121.2,533.7 113,543.5 104.5,572.7 87.6,578.6 70.7,566.2 54,554.3 36.9,547.8 28.4,540.2 17.2,541.3"/></clipPath>
<g clip-path="url(#bbc)">
<line x1="16" x2="1207" y1="568.5" y2="568.5" stroke="#bdc4ce" stroke-width="1"/>
<line x1="16" x2="1207" y1="548.5" y2="548.5" stroke="#bdc4ce" stroke-width="1"/>
<line x1="16" x2="1207" y1="529.5" y2="529.5" stroke="#bdc4ce" stroke-width="1"/>
<line x1="16" x2="1207" y1="510.5" y2="510.5" stroke="#bdc4ce" stroke-width="1"/>
<line x1="16" x2="1207" y1="491.5" y2="491.5" stroke="#bdc4ce" stroke-width="1"/>
<line x1="16" x2="1207" y1="471.5" y2="471.5" stroke="#bdc4ce" stroke-width="1"/>
<line x1="16" x2="1207" y1="452.5" y2="452.5" stroke="#bdc4ce" stroke-width="1"/>
<line x1="16" x2="1207" y1="433.5" y2="433.5" stroke="#bdc4ce" stroke-width="1"/>
<line x1="16" x2="1207" y1="414.5" y2="414.5" stroke="#bdc4ce" stroke-width="1"/>
<line x1="16" x2="1207" y1="394.5" y2="394.5" stroke="#bdc4ce" stroke-width="1"/>
<line x1="16" x2="1207" y1="375.5" y2="375.5" stroke="#bdc4ce" stroke-width="1"/>
<line x1="16" x2="1207" y1="356.5" y2="356.5" stroke="#bdc4ce" stroke-width="1"/>
<line x1="16" x2="1207" y1="337.5" y2="337.5" stroke="#bdc4ce" stroke-width="1"/>
<line x1="16" x2="1207" y1="317.5" y2="317.5" stroke="#bdc4ce" stroke-width="1"/>
<line x1="16" x2="1207" y1="298.5" y2="298.5" stroke="#bdc4ce" stroke-width="1"/>
<line x1="16" x2="1207" y1="279.5" y2="279.5" stroke="#bdc4ce" stroke-width="1"/>
<line x1="16" x2="1207" y1="260.5" y2="260.5" stroke="#bdc4ce" stroke-width="1"/>
<line x1="16" x2="1207" y1="240.5" y2="240.5" stroke="#bdc4ce" stroke-width="1"/>
<line x1="16" x2="1207" y1="221.5" y2="221.5" stroke="#bdc4ce" stroke-width="1"/>
<line x1="16" x2="1207" y1="202.5" y2="202.5" stroke="#bdc4ce" stroke-width="1"/>
<line x1="16" x2="1207" y1="183.5" y2="183.5" stroke="#bdc4ce" stroke-width="1"/>
<line x1="28.5" x2="28.5" y1="174.5" y2="588" stroke="#bdc4ce" stroke-width="1"/>
<line x1="62.5" x2="62.5" y1="174.5" y2="588" stroke="#bdc4ce" stroke-width="1"/>
<line x1="95.5" x2="95.5" y1="174.5" y2="588" stroke="#bdc4ce" stroke-width="1"/>
<line x1="138.5" x2="138.5" y1="174.5" y2="588" stroke="#bdc4ce" stroke-width="1"/>
<line x1="171.5" x2="171.5" y1="174.5" y2="588" stroke="#bdc4ce" stroke-width="1"/>
<line x1="213.5" x2="213.5" y1="174.5" y2="588" stroke="#b4bbc6" stroke-width="1"/>
<line x1="247.5" x2="247.5" y1="174.5" y2="588" stroke="#bdc4ce" stroke-width="1"/>
<line x1="281.5" x2="281.5" y1="174.5" y2="588" stroke="#bdc4ce" stroke-width="1"/>
<line x1="314.5" x2="314.5" y1="174.5" y2="588" stroke="#bdc4ce" stroke-width="1"/>
<line x1="356.5" x2="356.5" y1="174.5" y2="588" stroke="#bdc4ce" stroke-width="1"/>
<line x1="390.5" x2="390.5" y1="174.5" y2="588" stroke="#bdc4ce" stroke-width="1"/>
<line x1="424.5" x2="424.5" y1="174.5" y2="588" stroke="#bdc4ce" stroke-width="1"/>
<line x1="466.5" x2="466.5" y1="174.5" y2="588" stroke="#bdc4ce" stroke-width="1"/>
<line x1="500.5" x2="500.5" y1="174.5" y2="588" stroke="#bdc4ce" stroke-width="1"/>
<line x1="542.5" x2="542.5" y1="174.5" y2="588" stroke="#bdc4ce" stroke-width="1"/>
<line x1="575.5" x2="575.5" y1="174.5" y2="588" stroke="#bdc4ce" stroke-width="1"/>
<line x1="609.5" x2="609.5" y1="174.5" y2="588" stroke="#bdc4ce" stroke-width="1"/>
<line x1="651.5" x2="651.5" y1="174.5" y2="588" stroke="#b4bbc6" stroke-width="1"/>
<line x1="685.5" x2="685.5" y1="174.5" y2="588" stroke="#bdc4ce" stroke-width="1"/>
<line x1="718.5" x2="718.5" y1="174.5" y2="588" stroke="#bdc4ce" stroke-width="1"/>
<line x1="760.5" x2="760.5" y1="174.5" y2="588" stroke="#bdc4ce" stroke-width="1"/>
<line x1="794.5" x2="794.5" y1="174.5" y2="588" stroke="#bdc4ce" stroke-width="1"/>
<line x1="828.5" x2="828.5" y1="174.5" y2="588" stroke="#bdc4ce" stroke-width="1"/>
<line x1="870.5" x2="870.5" y1="174.5" y2="588" stroke="#bdc4ce" stroke-width="1"/>
<line x1="904.5" x2="904.5" y1="174.5" y2="588" stroke="#bdc4ce" stroke-width="1"/>
<line x1="937.5" x2="937.5" y1="174.5" y2="588" stroke="#bdc4ce" stroke-width="1"/>
<line x1="979.5" x2="979.5" y1="174.5" y2="588" stroke="#bdc4ce" stroke-width="1"/>
<line x1="1013.5" x2="1013.5" y1="174.5" y2="588" stroke="#bdc4ce" stroke-width="1"/>
<line x1="1047.5" x2="1047.5" y1="174.5" y2="588" stroke="#bdc4ce" stroke-width="1"/>
<line x1="1089.5" x2="1089.5" y1="174.5" y2="588" stroke="#b4bbc6" stroke-width="1"/>
<line x1="1122.5" x2="1122.5" y1="174.5" y2="588" stroke="#bdc4ce" stroke-width="1"/>
<line x1="1156.5" x2="1156.5" y1="174.5" y2="588" stroke="#bdc4ce" stroke-width="1"/>
<line x1="1198.5" x2="1198.5" y1="174.5" y2="588" stroke="#bdc4ce" stroke-width="1"/>
</g>
<polyline fill="none" stroke="#b8aab8" stroke-width="1" stroke-dasharray="2,2" points="17.2,415.6 28.4,421 45.3,424.3 62.2,428.6 79.2,436.2 87.6,441.6 96.3,451.4 104.5,457.9 113,465.5 129.9,470.4 146.6,472 163.5,474.1 180.1,474.8 188.4,473 197.1,465.5 205.3,464.4 213.7,466.5 222.2,472 239.1,473 255.8,478.5 272.7,479.5 281.1,482.8 298,494.7 314.7,502.3 331.6,506 348.5,512.1 365.2,522.9 373.7,524 390.6,519.6 407.5,509.9 424.2,505.1 449.5,508.2 474.8,506.6 491.5,502.3 508.4,498 525.3,495.8 542,491.5 558.9,495.8 575.8,503.4 592.5,511.6 609.4,512.1 626.3,508.8 634.8,507.3 651.5,511 659.9,512.7 668.4,509.9 676.8,507.7 693.7,507.3 710.4,505.6 727.3,501.2 744.2,500.1 752.7,500.1 760.9,496.9 769.4,495.8 777.8,496.9 786.3,498 803.2,501.2 811.4,503.4 828.3,512.1 836.7,519 853.6,520.3 870.3,525.7 887.2,529 904.1,531.1 920.8,534.8 937.7,538.1 954.6,540.2 971.3,538.1 979.8,529.4 988.2,520.7 996.7,516.4 1013.6,508.8 1030.5,504.5 1035,503.4 1047.1,503.4 1055.6,496.4 1064,495.8 1072.5,496.9 1080.9,494.7 1089.2,489.9 1097.6,481.7 1106.1,475.2 1114.5,466.5"/>
<line x1="20.5" x2="20.5" y1="409.1" y2="442.1" stroke="#d7062f" stroke-width="1.2"/>
<rect x="17.1" y="442.1" width="6.9" height="36.9" fill="#d7062f"/>
<line x1="28.5" x2="28.5" y1="461.9" y2="474.2" stroke="#d7062f" stroke-width="1.2"/>
<rect x="25.1" y="474.2" width="6.9" height="22.7" fill="#d7062f"/>
<line x1="37.5" x2="37.5" y1="488.2" y2="508.2" stroke="#d7062f" stroke-width="1.2"/>
<line x1="37.5" x2="37.5" y1="521.2" y2="523.9" stroke="#d7062f" stroke-width="1.2"/>
<rect x="34" y="508.2" width="6.9" height="13.1" fill="#d7062f"/>
<line x1="45.5" x2="45.5" y1="462.7" y2="487.6" stroke="#000" stroke-width="1.2"/>
<line x1="45.5" x2="45.5" y1="508.6" y2="523" stroke="#000" stroke-width="1.2"/>
<rect x="42.6" y="488.2" width="5.7" height="19.7" fill="#fff" fill-opacity="0.1" stroke="#000" stroke-width="1.2"/>
<line x1="53.5" x2="53.5" y1="432" y2="443.3" stroke="#000" stroke-width="1.2"/>
<line x1="53.5" x2="53.5" y1="469.4" y2="476.9" stroke="#000" stroke-width="1.2"/>
<rect x="50.6" y="443.9" width="5.7" height="24.9" fill="#fff" fill-opacity="0.1" stroke="#000" stroke-width="1.2"/>
<line x1="62.5" x2="62.5" y1="414.1" y2="420.1" stroke="#d7062f" stroke-width="1.2"/>
<line x1="62.5" x2="62.5" y1="503.8" y2="504.7" stroke="#d7062f" stroke-width="1.2"/>
<rect x="59" y="420.1" width="6.9" height="83.7" fill="#d7062f"/>
<line x1="70.5" x2="70.5" y1="460.8" y2="500.5" stroke="#000" stroke-width="1.2"/>
<line x1="70.5" x2="70.5" y1="505.5" y2="520.1" stroke="#000" stroke-width="1.2"/>
<rect x="67.7" y="501.1" width="5.7" height="3.8" fill="#fff" fill-opacity="0.1" stroke="#000" stroke-width="1.2"/>
<line x1="79.5" x2="79.5" y1="492.1" y2="496.9" stroke="#d7062f" stroke-width="1.2"/>
<line x1="79.5" x2="79.5" y1="510.5" y2="518" stroke="#d7062f" stroke-width="1.2"/>
<rect x="76" y="496.9" width="6.9" height="13.6" fill="#d7062f"/>
<line x1="87.5" x2="87.5" y1="451" y2="477.5" stroke="#000" stroke-width="1.2"/>
<line x1="87.5" x2="87.5" y1="489.4" y2="512.8" stroke="#000" stroke-width="1.2"/>
<rect x="84.7" y="478.1" width="5.7" height="10.7" fill="#fff" fill-opacity="0.1" stroke="#000" stroke-width="1.2"/>
<line x1="95.5" x2="95.5" y1="461.1" y2="470.9" stroke="#d7062f" stroke-width="1.2"/>
<line x1="95.5" x2="95.5" y1="504.5" y2="516.8" stroke="#d7062f" stroke-width="1.2"/>
<rect x="92" y="470.9" width="6.9" height="33.6" fill="#d7062f"/>
<line x1="104.5" x2="104.5" y1="456.2" y2="469.4" stroke="#000" stroke-width="1.2"/>
<line x1="104.5" x2="104.5" y1="487.6" y2="491.5" stroke="#000" stroke-width="1.2"/>
<rect x="101.7" y="470" width="5.7" height="17" fill="#fff" fill-opacity="0.1" stroke="#000" stroke-width="1.2"/>
<line x1="112.5" x2="112.5" y1="441" y2="451.4" stroke="#000" stroke-width="1.2"/>
<line x1="112.5" x2="112.5" y1="470.4" y2="500.7" stroke="#000" stroke-width="1.2"/>
<rect x="109.7" y="452" width="5.7" height="17.8" fill="#fff" fill-opacity="0.1" stroke="#000" stroke-width="1.2"/>
<line x1="121.5" x2="121.5" y1="401.1" y2="437.3" stroke="#000" stroke-width="1.2"/>
<line x1="121.5" x2="121.5" y1="444.3" y2="460" stroke="#000" stroke-width="1.2"/>
<rect x="118.7" y="437.9" width="5.7" height="5.7" fill="#fff" fill-opacity="0.1" stroke="#000" stroke-width="1.2"/>
<line x1="129.5" x2="129.5" y1="417.2" y2="439.5" stroke="#d7062f" stroke-width="1.2"/>
<line x1="129.5" x2="129.5" y1="441.9" y2="470.9" stroke="#d7062f" stroke-width="1.2"/>
<rect x="126" y="439.5" width="6.9" height="2.5" fill="#d7062f"/>
<line x1="138.5" x2="138.5" y1="405.9" y2="421.4" stroke="#000" stroke-width="1.2"/>
<line x1="138.5" x2="138.5" y1="427.5" y2="448.9" stroke="#000" stroke-width="1.2"/>
<rect x="135.7" y="422" width="5.7" height="4.9" fill="#fff" fill-opacity="0.1" stroke="#000" stroke-width="1.2"/>
<line x1="146.5" x2="146.5" y1="421" y2="430.2" stroke="#d7062f" stroke-width="1.2"/>
<line x1="146.5" x2="146.5" y1="464.8" y2="473.4" stroke="#d7062f" stroke-width="1.2"/>
<rect x="143.1" y="430.2" width="6.9" height="34.6" fill="#d7062f"/>
<line x1="154.5" x2="154.5" y1="471.9" y2="474.2" stroke="#d7062f" stroke-width="1.2"/>
<line x1="154.5" x2="154.5" y1="488.8" y2="495.7" stroke="#d7062f" stroke-width="1.2"/>
<rect x="151.1" y="474.2" width="6.9" height="14.6" fill="#d7062f"/>
<line x1="163.5" x2="163.5" y1="452.9" y2="474.2" stroke="#000" stroke-width="1.2"/>
<line x1="163.5" x2="163.5" y1="479.6" y2="494" stroke="#000" stroke-width="1.2"/>
<rect x="160.7" y="474.8" width="5.7" height="4.2" fill="#fff" fill-opacity="0.1" stroke="#000" stroke-width="1.2"/>
<line x1="171.5" x2="171.5" y1="442.1" y2="473.1" stroke="#000" stroke-width="1.2"/>
<line x1="171.5" x2="171.5" y1="475.7" y2="478" stroke="#000" stroke-width="1.2"/>
<rect x="168.7" y="473.7" width="5.7" height="1.5" fill="#fff" fill-opacity="0.1" stroke="#000" stroke-width="1.2"/>
<line x1="180.5" x2="180.5" y1="448.9" y2="452.5" stroke="#000" stroke-width="1.2"/>
<line x1="180.5" x2="180.5" y1="462.3" y2="483.8" stroke="#000" stroke-width="1.2"/>
<rect x="177.7" y="453.1" width="5.7" height="8.6" fill="#fff" fill-opacity="0.1" stroke="#000" stroke-width="1.2"/>
<line x1="188.5" x2="188.5" y1="396.1" y2="436.2" stroke="#000" stroke-width="1.2"/>
<line x1="188.5" x2="188.5" y1="448.7" y2="482.8" stroke="#000" stroke-width="1.2"/>
<rect x="185.7" y="436.8" width="5.7" height="11.3" fill="#fff" fill-opacity="0.1" stroke="#000" stroke-width="1.2"/>
<line x1="196.5" x2="196.5" y1="332.3" y2="342.5" stroke="#000" stroke-width="1.2"/>
<line x1="196.5" x2="196.5" y1="424.5" y2="436.6" stroke="#000" stroke-width="1.2"/>
<rect x="193.7" y="343.1" width="5.7" height="80.8" fill="#fff" fill-opacity="0.1" stroke="#000" stroke-width="1.2"/>
<line x1="205.5" x2="205.5" y1="341.9" y2="352.9" stroke="#d7062f" stroke-width="1.2"/>
<line x1="205.5" x2="205.5" y1="513.8" y2="518" stroke="#d7062f" stroke-width="1.2"/>
<rect x="202.1" y="352.9" width="6.9" height="160.9" fill="#d7062f"/>
<line x1="213.5" x2="213.5" y1="522.4" y2="525.7" stroke="#d7062f" stroke-width="1.2"/>
<rect x="210.1" y="500.1" width="6.9" height="22.3" fill="#d7062f"/>
<line x1="222.5" x2="222.5" y1="509.5" y2="515.9" stroke="#d7062f" stroke-width="1.2"/>
<line x1="222.5" x2="222.5" y1="540.6" y2="543.5" stroke="#d7062f" stroke-width="1.2"/>
<rect x="219.1" y="515.9" width="6.9" height="24.8" fill="#d7062f"/>
<line x1="230.5" x2="230.5" y1="520.3" y2="524.3" stroke="#000" stroke-width="1.2"/>
<line x1="230.5" x2="230.5" y1="531.6" y2="544.1" stroke="#000" stroke-width="1.2"/>
<rect x="227.1" y="524.3" width="6.9" height="7.3" fill="#000"/>
<line x1="239.5" x2="239.5" y1="502.2" y2="524.3" stroke="#000" stroke-width="1.2"/>
<line x1="239.5" x2="239.5" y1="531.6" y2="535.8" stroke="#000" stroke-width="1.2"/>
<rect x="236.1" y="524.3" width="6.9" height="7.3" fill="#000"/>
<line x1="247.5" x2="247.5" y1="495.1" y2="510.3" stroke="#000" stroke-width="1.2"/>
<line x1="247.5" x2="247.5" y1="529.5" y2="532" stroke="#000" stroke-width="1.2"/>
<rect x="244.1" y="510.3" width="6.9" height="19.2" fill="#000"/>
<line x1="255.5" x2="255.5" y1="520.7" y2="522.2" stroke="#d7062f" stroke-width="1.2"/>
<line x1="255.5" x2="255.5" y1="540.3" y2="544.5" stroke="#d7062f" stroke-width="1.2"/>
<rect x="252.1" y="522.2" width="6.9" height="18" fill="#d7062f"/>
<line x1="264.5" x2="264.5" y1="466.9" y2="507.8" stroke="#000" stroke-width="1.2"/>
<line x1="264.5" x2="264.5" y1="533.3" y2="547.7" stroke="#000" stroke-width="1.2"/>
<rect x="261.6" y="508.4" width="5.7" height="24.3" fill="#fff" fill-opacity="0.1" stroke="#000" stroke-width="1.2"/>
<line x1="272.5" x2="272.5" y1="408" y2="484.6" stroke="#000" stroke-width="1.2"/>
<line x1="272.5" x2="272.5" y1="516.4" y2="518.6" stroke="#000" stroke-width="1.2"/>
<rect x="269.6" y="485.2" width="5.7" height="30.7" fill="#fff" fill-opacity="0.1" stroke="#000" stroke-width="1.2"/>
<line x1="281.5" x2="281.5" y1="538.1" y2="539.9" stroke="#d7062f" stroke-width="1.2"/>
<rect x="278.1" y="468.1" width="6.9" height="70.1" fill="#d7062f"/>
<line x1="289.5" x2="289.5" y1="530.5" y2="542.4" stroke="#d7062f" stroke-width="1.2"/>
<line x1="289.5" x2="289.5" y1="562.9" y2="567.7" stroke="#d7062f" stroke-width="1.2"/>
<rect x="286.1" y="542.4" width="6.9" height="20.5" fill="#d7062f"/>
<line x1="297.5" x2="297.5" y1="483.2" y2="518.6" stroke="#000" stroke-width="1.2"/>
<line x1="297.5" x2="297.5" y1="520.7" y2="543.5" stroke="#000" stroke-width="1.2"/>
<rect x="294.6" y="519.2" width="5.7" height="0.9" fill="#fff" fill-opacity="0.1" stroke="#000" stroke-width="1.2"/>
<line x1="306.5" x2="306.5" y1="498.6" y2="532.2" stroke="#d7062f" stroke-width="1.2"/>
<line x1="306.5" x2="306.5" y1="535.8" y2="542" stroke="#d7062f" stroke-width="1.2"/>
<rect x="303.1" y="532.2" width="6.9" height="3.6" fill="#d7062f"/>
<line x1="314.5" x2="314.5" y1="478.2" y2="511.6" stroke="#000" stroke-width="1.2"/>
<line x1="314.5" x2="314.5" y1="520.3" y2="537" stroke="#000" stroke-width="1.2"/>
<rect x="311.6" y="512.2" width="5.7" height="7.4" fill="#fff" fill-opacity="0.1" stroke="#000" stroke-width="1.2"/>
<line x1="323.5" x2="323.5" y1="500.5" y2="509.3" stroke="#d7062f" stroke-width="1.2"/>
<line x1="323.5" x2="323.5" y1="547.7" y2="550" stroke="#d7062f" stroke-width="1.2"/>
<rect x="320.1" y="509.3" width="6.9" height="38.4" fill="#d7062f"/>
<line x1="331.5" x2="331.5" y1="429.1" y2="491.5" stroke="#000" stroke-width="1.2"/>
<line x1="331.5" x2="331.5" y1="527.2" y2="537" stroke="#000" stroke-width="1.2"/>
<rect x="328.6" y="492.1" width="5.7" height="34.5" fill="#fff" fill-opacity="0.1" stroke="#000" stroke-width="1.2"/>
<line x1="340.5" x2="340.5" y1="472.5" y2="489.4" stroke="#d7062f" stroke-width="1.2"/>
<line x1="340.5" x2="340.5" y1="517.4" y2="527.6" stroke="#d7062f" stroke-width="1.2"/>
<rect x="337.1" y="489.4" width="6.9" height="28" fill="#d7062f"/>
<line x1="348.5" x2="348.5" y1="497.2" y2="515.3" stroke="#d7062f" stroke-width="1.2"/>
<line x1="348.5" x2="348.5" y1="532.6" y2="534.9" stroke="#d7062f" stroke-width="1.2"/>
<rect x="345.1" y="515.3" width="6.9" height="17.3" fill="#d7062f"/>
<line x1="356.5" x2="356.5" y1="519.1" y2="528.3" stroke="#d7062f" stroke-width="1.2"/>
<line x1="356.5" x2="356.5" y1="538.1" y2="539.9" stroke="#d7062f" stroke-width="1.2"/>
<rect x="353.1" y="528.3" width="6.9" height="9.8" fill="#d7062f"/>
<line x1="365.5" x2="365.5" y1="520.3" y2="537.4" stroke="#d7062f" stroke-width="1.2"/>
<line x1="365.5" x2="365.5" y1="540.6" y2="543.9" stroke="#d7062f" stroke-width="1.2"/>
<rect x="362.1" y="537.4" width="6.9" height="3.3" fill="#d7062f"/>
<line x1="373.5" x2="373.5" y1="489.4" y2="510.3" stroke="#000" stroke-width="1.2"/>
<line x1="373.5" x2="373.5" y1="524.3" y2="533.1" stroke="#000" stroke-width="1.2"/>
<rect x="370.6" y="510.9" width="5.7" height="12.8" fill="#fff" fill-opacity="0.1" stroke="#000" stroke-width="1.2"/>
<line x1="382.5" x2="382.5" y1="465.4" y2="466.5" stroke="#000" stroke-width="1.2"/>
<line x1="382.5" x2="382.5" y1="516.4" y2="518.6" stroke="#000" stroke-width="1.2"/>
<rect x="379.6" y="467.1" width="5.7" height="48.7" fill="#fff" fill-opacity="0.1" stroke="#000" stroke-width="1.2"/>
<line x1="390.5" x2="390.5" y1="423.3" y2="464.4" stroke="#d7062f" stroke-width="1.2"/>
<line x1="390.5" x2="390.5" y1="488.6" y2="490.7" stroke="#d7062f" stroke-width="1.2"/>
<rect x="387.1" y="464.4" width="6.9" height="24.2" fill="#d7062f"/>
<line x1="399.5" x2="399.5" y1="421" y2="449.6" stroke="#000" stroke-width="1.2"/>
<line x1="399.5" x2="399.5" y1="488.6" y2="489.9" stroke="#000" stroke-width="1.2"/>
<rect x="396.6" y="450.2" width="5.7" height="37.8" fill="#fff" fill-opacity="0.1" stroke="#000" stroke-width="1.2"/>
<line x1="407.5" x2="407.5" y1="369" y2="416.8" stroke="#000" stroke-width="1.2"/>
<line x1="407.5" x2="407.5" y1="461.1" y2="485" stroke="#000" stroke-width="1.2"/>
<rect x="404.6" y="417.4" width="5.7" height="43.2" fill="#fff" fill-opacity="0.1" stroke="#000" stroke-width="1.2"/>
<line x1="415.5" x2="415.5" y1="358.8" y2="378.2" stroke="#d7062f" stroke-width="1.2"/>
<line x1="415.5" x2="415.5" y1="455.4" y2="468.6" stroke="#d7062f" stroke-width="1.2"/>
<rect x="412.1" y="378.2" width="6.9" height="77.2" fill="#d7062f"/>
<line x1="424.5" x2="424.5" y1="446.4" y2="454.2" stroke="#d7062f" stroke-width="1.2"/>
<rect x="421.1" y="454.2" width="6.9" height="39.4" fill="#d7062f"/>
<line x1="432.5" x2="432.5" y1="485" y2="497.2" stroke="#d7062f" stroke-width="1.2"/>
<line x1="432.5" x2="432.5" y1="513.8" y2="518.9" stroke="#d7062f" stroke-width="1.2"/>
<rect x="429.1" y="497.2" width="6.9" height="16.5" fill="#d7062f"/>
<line x1="441.5" x2="441.5" y1="499" y2="510.3" stroke="#d7062f" stroke-width="1.2"/>
<rect x="438.1" y="510.3" width="6.9" height="28.4" fill="#d7062f"/>
<line x1="449.5" x2="449.5" y1="515.3" y2="525.7" stroke="#000" stroke-width="1.2"/>
<line x1="449.5" x2="449.5" y1="535.5" y2="547.7" stroke="#000" stroke-width="1.2"/>
<rect x="446.1" y="525.7" width="6.9" height="9.8" fill="#000"/>
<line x1="457.5" x2="457.5" y1="507.2" y2="519.1" stroke="#d7062f" stroke-width="1.2"/>
<line x1="457.5" x2="457.5" y1="549.3" y2="550.6" stroke="#d7062f" stroke-width="1.2"/>
<rect x="454.1" y="519.1" width="6.9" height="30.1" fill="#d7062f"/>
<line x1="466.5" x2="466.5" y1="512" y2="521.4" stroke="#000" stroke-width="1.2"/>
<line x1="466.5" x2="466.5" y1="543.5" y2="552.7" stroke="#000" stroke-width="1.2"/>
<rect x="463.6" y="522" width="5.7" height="20.9" fill="#fff" fill-opacity="0.1" stroke="#000" stroke-width="1.2"/>
<line x1="474.5" x2="474.5" y1="493.2" y2="503.4" stroke="#000" stroke-width="1.2"/>
<line x1="474.5" x2="474.5" y1="519.1" y2="543.9" stroke="#000" stroke-width="1.2"/>
<rect x="471.6" y="504" width="5.7" height="14.5" fill="#fff" fill-opacity="0.1" stroke="#000" stroke-width="1.2"/>
<line x1="483.5" x2="483.5" y1="460.8" y2="492.1" stroke="#d7062f" stroke-width="1.2"/>
<rect x="480.1" y="492.1" width="6.9" height="18.4" fill="#d7062f"/>
<line x1="491.5" x2="491.5" y1="436.8" y2="452.5" stroke="#000" stroke-width="1.2"/>
<line x1="491.5" x2="491.5" y1="503.4" y2="512.8" stroke="#000" stroke-width="1.2"/>
<rect x="488.6" y="453.1" width="5.7" height="49.7" fill="#fff" fill-opacity="0.1" stroke="#000" stroke-width="1.2"/>
<line x1="500.5" x2="500.5" y1="445.2" y2="462.3" stroke="#d7062f" stroke-width="1.2"/>
<line x1="500.5" x2="500.5" y1="474.8" y2="487.8" stroke="#d7062f" stroke-width="1.2"/>
<rect x="497.1" y="462.3" width="6.9" height="12.5" fill="#d7062f"/>
<line x1="508.5" x2="508.5" y1="470.9" y2="474.2" stroke="#d7062f" stroke-width="1.2"/>
<line x1="508.5" x2="508.5" y1="507.8" y2="515.9" stroke="#d7062f" stroke-width="1.2"/>
<rect x="505.1" y="474.2" width="6.9" height="33.6" fill="#d7062f"/>
<line x1="516.5" x2="516.5" y1="496.9" y2="508.2" stroke="#d7062f" stroke-width="1.2"/>
<line x1="516.5" x2="516.5" y1="527.6" y2="539.1" stroke="#d7062f" stroke-width="1.2"/>
<rect x="513" y="508.2" width="6.9" height="19.4" fill="#d7062f"/>
<line x1="525.5" x2="525.5" y1="475.2" y2="482.5" stroke="#000" stroke-width="1.2"/>
<line x1="525.5" x2="525.5" y1="509.5" y2="518.9" stroke="#000" stroke-width="1.2"/>
<rect x="522.6" y="483.1" width="5.7" height="25.9" fill="#fff" fill-opacity="0.1" stroke="#000" stroke-width="1.2"/>
<line x1="533.5" x2="533.5" y1="418.9" y2="442.7" stroke="#000" stroke-width="1.2"/>
<line x1="533.5" x2="533.5" y1="457.9" y2="482.8" stroke="#000" stroke-width="1.2"/>
<rect x="530" y="442.7" width="6.9" height="15.2" fill="#000"/>
<line x1="542.5" x2="542.5" y1="370.1" y2="417.8" stroke="#d7062f" stroke-width="1.2"/>
<line x1="542.5" x2="542.5" y1="478" y2="482.8" stroke="#d7062f" stroke-width="1.2"/>
<rect x="539" y="417.8" width="6.9" height="60.3" fill="#d7062f"/>
<line x1="550.5" x2="550.5" y1="420.1" y2="451.4" stroke="#d7062f" stroke-width="1.2"/>
<line x1="550.5" x2="550.5" y1="528.3" y2="543.1" stroke="#d7062f" stroke-width="1.2"/>
<rect x="547" y="451.4" width="6.9" height="77" fill="#d7062f"/>
<line x1="558.5" x2="558.5" y1="506.3" y2="523.5" stroke="#000" stroke-width="1.2"/>
<line x1="558.5" x2="558.5" y1="528" y2="530.8" stroke="#000" stroke-width="1.2"/>
<rect x="555" y="523.5" width="6.9" height="4.4" fill="#000"/>
<line x1="567.5" x2="567.5" y1="501.3" y2="517.4" stroke="#000" stroke-width="1.2"/>
<line x1="567.5" x2="567.5" y1="524.3" y2="528.7" stroke="#000" stroke-width="1.2"/>
<rect x="564" y="517.4" width="6.9" height="6.9" fill="#000"/>
<line x1="575.5" x2="575.5" y1="507" y2="522.2" stroke="#d7062f" stroke-width="1.2"/>
<line x1="575.5" x2="575.5" y1="531.6" y2="535.8" stroke="#d7062f" stroke-width="1.2"/>
<rect x="572" y="522.2" width="6.9" height="9.4" fill="#d7062f"/>
<line x1="584.5" x2="584.5" y1="521.8" y2="532.2" stroke="#d7062f" stroke-width="1.2"/>
<line x1="584.5" x2="584.5" y1="546" y2="550" stroke="#d7062f" stroke-width="1.2"/>
<rect x="581" y="532.2" width="6.9" height="13.8" fill="#d7062f"/>
<line x1="592.5" x2="592.5" y1="510.9" y2="540.3" stroke="#000" stroke-width="1.2"/>
<line x1="592.5" x2="592.5" y1="543.9" y2="545.2" stroke="#000" stroke-width="1.2"/>
<rect x="589" y="540.3" width="6.9" height="3.6" fill="#000"/>
<line x1="601.5" x2="601.5" y1="515.3" y2="515.9" stroke="#000" stroke-width="1.2"/>
<line x1="601.5" x2="601.5" y1="538.5" y2="540.8" stroke="#000" stroke-width="1.2"/>
<rect x="598.6" y="516.5" width="5.7" height="21.5" fill="#fff" fill-opacity="0.1" stroke="#000" stroke-width="1.2"/>
<line x1="609.5" x2="609.5" y1="477.5" y2="512.4" stroke="#000" stroke-width="1.2"/>
<line x1="609.5" x2="609.5" y1="514.7" y2="517.4" stroke="#000" stroke-width="1.2"/>
<rect x="606" y="512.4" width="6.9" height="2.3" fill="#000"/>
<line x1="617.5" x2="617.5" y1="469.8" y2="476.7" stroke="#000" stroke-width="1.2"/>
<line x1="617.5" x2="617.5" y1="510.9" y2="521.2" stroke="#000" stroke-width="1.2"/>
<rect x="614.6" y="477.3" width="5.7" height="33" fill="#fff" fill-opacity="0.1" stroke="#000" stroke-width="1.2"/>
<line x1="626.5" x2="626.5" y1="457.3" y2="478.4" stroke="#d7062f" stroke-width="1.2"/>
<line x1="626.5" x2="626.5" y1="514.9" y2="532" stroke="#d7062f" stroke-width="1.2"/>
<rect x="623" y="478.4" width="6.9" height="36.5" fill="#d7062f"/>
<line x1="634.5" x2="634.5" y1="518.6" y2="522.2" stroke="#d7062f" stroke-width="1.2"/>
<line x1="634.5" x2="634.5" y1="540.6" y2="555" stroke="#d7062f" stroke-width="1.2"/>
<rect x="631" y="522.2" width="6.9" height="18.4" fill="#d7062f"/>
<line x1="643.5" x2="643.5" y1="499" y2="515.3" stroke="#000" stroke-width="1.2"/>
<rect x="640.6" y="515.9" width="5.7" height="16.1" fill="#fff" fill-opacity="0.1" stroke="#000" stroke-width="1.2"/>
<line x1="651.5" x2="651.5" y1="509.9" y2="521.2" stroke="#d7062f" stroke-width="1.2"/>
<rect x="648" y="521.2" width="6.9" height="25.5" fill="#d7062f"/>
<line x1="659.5" x2="659.5" y1="516.8" y2="540.3" stroke="#000" stroke-width="1.2"/>
<line x1="659.5" x2="659.5" y1="545.6" y2="553.3" stroke="#000" stroke-width="1.2"/>
<rect x="656.6" y="540.9" width="5.7" height="4.2" fill="#fff" fill-opacity="0.1" stroke="#000" stroke-width="1.2"/>
<line x1="668.5" x2="668.5" y1="536.6" y2="538.7" stroke="#000" stroke-width="1.2"/>
<rect x="665.6" y="430.8" width="5.7" height="105.2" fill="#fff" fill-opacity="0.1" stroke="#000" stroke-width="1.2"/>
<line x1="676.5" x2="676.5" y1="414.1" y2="425.4" stroke="#000" stroke-width="1.2"/>
<line x1="676.5" x2="676.5" y1="447.5" y2="475.7" stroke="#000" stroke-width="1.2"/>
<rect x="673.6" y="426" width="5.7" height="20.9" fill="#fff" fill-opacity="0.1" stroke="#000" stroke-width="1.2"/>
<line x1="685.5" x2="685.5" y1="366.3" y2="422.2" stroke="#d7062f" stroke-width="1.2"/>
<line x1="685.5" x2="685.5" y1="485.5" y2="489.9" stroke="#d7062f" stroke-width="1.2"/>
<rect x="682" y="422.2" width="6.9" height="63.4" fill="#d7062f"/>
<line x1="693.5" x2="693.5" y1="476.3" y2="479.2" stroke="#d7062f" stroke-width="1.2"/>
<line x1="693.5" x2="693.5" y1="518.6" y2="522.2" stroke="#d7062f" stroke-width="1.2"/>
<rect x="690" y="479.2" width="6.9" height="39.4" fill="#d7062f"/>
<line x1="702.5" x2="702.5" y1="475.2" y2="497.2" stroke="#000" stroke-width="1.2"/>
<line x1="702.5" x2="702.5" y1="511.5" y2="514.9" stroke="#000" stroke-width="1.2"/>
<rect x="699.6" y="497.8" width="5.7" height="13" fill="#fff" fill-opacity="0.1" stroke="#000" stroke-width="1.2"/>
<line x1="710.5" x2="710.5" y1="510.3" y2="520.7" stroke="#d7062f" stroke-width="1.2"/>
<rect x="707" y="494" width="6.9" height="16.3" fill="#d7062f"/>
<line x1="718.5" x2="718.5" y1="456.2" y2="462.3" stroke="#000" stroke-width="1.2"/>
<line x1="718.5" x2="718.5" y1="508.8" y2="520.1" stroke="#000" stroke-width="1.2"/>
<rect x="715" y="462.3" width="6.9" height="46.5" fill="#000"/>
<line x1="727.5" x2="727.5" y1="429.3" y2="436.2" stroke="#000" stroke-width="1.2"/>
<line x1="727.5" x2="727.5" y1="495.3" y2="514.1" stroke="#000" stroke-width="1.2"/>
<rect x="724.6" y="436.8" width="5.7" height="57.9" fill="#fff" fill-opacity="0.1" stroke="#000" stroke-width="1.2"/>
<line x1="735.5" x2="735.5" y1="491.5" y2="514.9" stroke="#d7062f" stroke-width="1.2"/>
<rect x="732" y="464.4" width="6.9" height="27.1" fill="#d7062f"/>
<line x1="744.5" x2="744.5" y1="470.4" y2="496.5" stroke="#d7062f" stroke-width="1.2"/>
<line x1="744.5" x2="744.5" y1="502.2" y2="520.7" stroke="#d7062f" stroke-width="1.2"/>
<rect x="741" y="496.5" width="6.9" height="5.8" fill="#d7062f"/>
<line x1="752.5" x2="752.5" y1="499" y2="511.3" stroke="#d7062f" stroke-width="1.2"/>
<line x1="752.5" x2="752.5" y1="513.3" y2="537.6" stroke="#d7062f" stroke-width="1.2"/>
<rect x="749" y="511.3" width="6.9" height="2" fill="#d7062f"/>
<line x1="760.5" x2="760.5" y1="436.2" y2="452.5" stroke="#000" stroke-width="1.2"/>
<line x1="760.5" x2="760.5" y1="491.5" y2="516.8" stroke="#000" stroke-width="1.2"/>
<rect x="757.6" y="453.1" width="5.7" height="37.8" fill="#fff" fill-opacity="0.1" stroke="#000" stroke-width="1.2"/>
<line x1="769.5" x2="769.5" y1="443.1" y2="469.4" stroke="#d7062f" stroke-width="1.2"/>
<line x1="769.5" x2="769.5" y1="522.4" y2="528.7" stroke="#d7062f" stroke-width="1.2"/>
<rect x="766" y="469.4" width="6.9" height="53" fill="#d7062f"/>
<line x1="777.5" x2="777.5" y1="497.2" y2="508.1" stroke="#000" stroke-width="1.2"/>
<line x1="777.5" x2="777.5" y1="510.1" y2="531.6" stroke="#000" stroke-width="1.2"/>
<rect x="774" y="508.1" width="6.9" height="2" fill="#000"/>
<line x1="786.5" x2="786.5" y1="485" y2="505.1" stroke="#d7062f" stroke-width="1.2"/>
<line x1="786.5" x2="786.5" y1="532" y2="532.6" stroke="#d7062f" stroke-width="1.2"/>
<rect x="783" y="505.1" width="6.9" height="26.9" fill="#d7062f"/>
<line x1="794.5" x2="794.5" y1="501.3" y2="511.5" stroke="#000" stroke-width="1.2"/>
<line x1="794.5" x2="794.5" y1="532" y2="533.1" stroke="#000" stroke-width="1.2"/>
<rect x="791" y="511.5" width="6.9" height="20.5" fill="#000"/>
<line x1="803.5" x2="803.5" y1="514.1" y2="539.3" stroke="#d7062f" stroke-width="1.2"/>
<line x1="803.5" x2="803.5" y1="541.3" y2="551.8" stroke="#d7062f" stroke-width="1.2"/>
<rect x="800" y="539.3" width="6.9" height="2" fill="#d7062f"/>
<line x1="811.5" x2="811.5" y1="522.4" y2="526" stroke="#d7062f" stroke-width="1.2"/>
<rect x="808" y="526" width="6.9" height="35.3" fill="#d7062f"/>
<line x1="819.5" x2="819.5" y1="551" y2="553.7" stroke="#000" stroke-width="1.2"/>
<line x1="819.5" x2="819.5" y1="560.8" y2="561.9" stroke="#000" stroke-width="1.2"/>
<rect x="816" y="553.7" width="6.9" height="7.1" fill="#000"/>
<line x1="828.5" x2="828.5" y1="542.4" y2="554.3" stroke="#d7062f" stroke-width="1.2"/>
<rect x="825" y="554.3" width="6.9" height="19.6" fill="#d7062f"/>
<line x1="836.5" x2="836.5" y1="533.1" y2="545.6" stroke="#000" stroke-width="1.2"/>
<line x1="836.5" x2="836.5" y1="562.9" y2="569.4" stroke="#000" stroke-width="1.2"/>
<rect x="833.6" y="546.2" width="5.7" height="16.1" fill="#fff" fill-opacity="0.1" stroke="#000" stroke-width="1.2"/>
<line x1="845.5" x2="845.5" y1="533.7" y2="535.8" stroke="#d7062f" stroke-width="1.2"/>
<line x1="845.5" x2="845.5" y1="571.7" y2="580.4" stroke="#d7062f" stroke-width="1.2"/>
<rect x="842" y="535.8" width="6.9" height="35.9" fill="#d7062f"/>
<line x1="853.5" x2="853.5" y1="539.1" y2="562.5" stroke="#000" stroke-width="1.2"/>
<line x1="853.5" x2="853.5" y1="564.5" y2="570.6" stroke="#000" stroke-width="1.2"/>
<rect x="850" y="562.5" width="6.9" height="2" fill="#000"/>
<line x1="862.5" x2="862.5" y1="552.2" y2="553.3" stroke="#d7062f" stroke-width="1.2"/>
<rect x="859" y="553.3" width="6.9" height="28" fill="#d7062f"/>
<line x1="870.5" x2="870.5" y1="525.1" y2="547.4" stroke="#000" stroke-width="1.2"/>
<line x1="870.5" x2="870.5" y1="565.2" y2="567.7" stroke="#000" stroke-width="1.2"/>
<rect x="867.6" y="548" width="5.7" height="16.7" fill="#fff" fill-opacity="0.1" stroke="#000" stroke-width="1.2"/>
<line x1="878.5" x2="878.5" y1="483.2" y2="547.4" stroke="#d7062f" stroke-width="1.2"/>
<line x1="878.5" x2="878.5" y1="556.6" y2="576.7" stroke="#d7062f" stroke-width="1.2"/>
<rect x="875.6" y="548" width="5.7" height="8" fill="#fff" fill-opacity="0.1" stroke="#d7062f" stroke-width="1.2"/>
<line x1="887.5" x2="887.5" y1="517.4" y2="531.8" stroke="#000" stroke-width="1.2"/>
<line x1="887.5" x2="887.5" y1="535.5" y2="560.8" stroke="#000" stroke-width="1.2"/>
<rect x="884" y="531.8" width="6.9" height="3.6" fill="#000"/>
<line x1="895.5" x2="895.5" y1="441.2" y2="452.5" stroke="#000" stroke-width="1.2"/>
<line x1="895.5" x2="895.5" y1="530.5" y2="546.8" stroke="#000" stroke-width="1.2"/>
<rect x="892.6" y="453.1" width="5.7" height="76.8" fill="#fff" fill-opacity="0.1" stroke="#000" stroke-width="1.2"/>
<line x1="904.5" x2="904.5" y1="446.4" y2="459.4" stroke="#d7062f" stroke-width="1.2"/>
<line x1="904.5" x2="904.5" y1="476.7" y2="498" stroke="#d7062f" stroke-width="1.2"/>
<rect x="901" y="459.4" width="6.9" height="17.3" fill="#d7062f"/>
<line x1="912.5" x2="912.5" y1="526.8" y2="551" stroke="#d7062f" stroke-width="1.2"/>
<rect x="909" y="488.2" width="6.9" height="38.6" fill="#d7062f"/>
<line x1="920.5" x2="920.5" y1="519.7" y2="532.2" stroke="#d7062f" stroke-width="1.2"/>
<rect x="917" y="532.2" width="6.9" height="27.5" fill="#d7062f"/>
<line x1="929.5" x2="929.5" y1="533.7" y2="548.9" stroke="#000" stroke-width="1.2"/>
<line x1="929.5" x2="929.5" y1="556.6" y2="564.1" stroke="#000" stroke-width="1.2"/>
<rect x="926.6" y="549.5" width="5.7" height="6.5" fill="#fff" fill-opacity="0.1" stroke="#000" stroke-width="1.2"/>
<line x1="937.5" x2="937.5" y1="521.2" y2="542.4" stroke="#000" stroke-width="1.2"/>
<line x1="937.5" x2="937.5" y1="547.7" y2="554.3" stroke="#000" stroke-width="1.2"/>
<rect x="934" y="542.4" width="6.9" height="5.4" fill="#000"/>
<line x1="946.5" x2="946.5" y1="504.9" y2="523.5" stroke="#000" stroke-width="1.2"/>
<line x1="946.5" x2="946.5" y1="536.4" y2="542" stroke="#000" stroke-width="1.2"/>
<rect x="943.6" y="524.1" width="5.7" height="11.7" fill="#fff" fill-opacity="0.1" stroke="#000" stroke-width="1.2"/>
<line x1="954.5" x2="954.5" y1="500.1" y2="519.7" stroke="#d7062f" stroke-width="1.2"/>
<line x1="954.5" x2="954.5" y1="546.8" y2="558.7" stroke="#d7062f" stroke-width="1.2"/>
<rect x="951" y="519.7" width="6.9" height="27.1" fill="#d7062f"/>
<line x1="963.5" x2="963.5" y1="457.9" y2="494.4" stroke="#000" stroke-width="1.2"/>
<line x1="963.5" x2="963.5" y1="526.8" y2="528" stroke="#000" stroke-width="1.2"/>
<rect x="960.6" y="495" width="5.7" height="31.2" fill="#fff" fill-opacity="0.1" stroke="#000" stroke-width="1.2"/>
<line x1="971.5" x2="971.5" y1="433.5" y2="453.1" stroke="#d7062f" stroke-width="1.2"/>
<line x1="971.5" x2="971.5" y1="499.7" y2="501.9" stroke="#d7062f" stroke-width="1.2"/>
<rect x="968" y="453.1" width="6.9" height="46.7" fill="#d7062f"/>
<line x1="979.5" x2="979.5" y1="355" y2="371.3" stroke="#000" stroke-width="1.2"/>
<line x1="979.5" x2="979.5" y1="501.3" y2="507.8" stroke="#000" stroke-width="1.2"/>
<rect x="976.6" y="371.9" width="5.7" height="128.8" fill="#fff" fill-opacity="0.1" stroke="#000" stroke-width="1.2"/>
<line x1="988.5" x2="988.5" y1="181.2" y2="356.5" stroke="#000" stroke-width="1.2"/>
<line x1="988.5" x2="988.5" y1="372.3" y2="390.7" stroke="#000" stroke-width="1.2"/>
<rect x="985.6" y="357.1" width="5.7" height="14.5" fill="#fff" fill-opacity="0.1" stroke="#000" stroke-width="1.2"/>
<line x1="996.5" x2="996.5" y1="352.9" y2="353.8" stroke="#d7062f" stroke-width="1.2"/>
<line x1="996.5" x2="996.5" y1="469.8" y2="480.5" stroke="#d7062f" stroke-width="1.2"/>
<rect x="993" y="353.8" width="6.9" height="116" fill="#d7062f"/>
<line x1="1005.5" x2="1005.5" y1="435.2" y2="448.1" stroke="#d7062f" stroke-width="1.2"/>
<line x1="1005.5" x2="1005.5" y1="509.9" y2="515.7" stroke="#d7062f" stroke-width="1.2"/>
<rect x="1002" y="448.1" width="6.9" height="61.8" fill="#d7062f"/>
<line x1="1013.5" x2="1013.5" y1="473.1" y2="502.2" stroke="#d7062f" stroke-width="1.2"/>
<line x1="1013.5" x2="1013.5" y1="527.6" y2="529.3" stroke="#d7062f" stroke-width="1.2"/>
<rect x="1010" y="502.2" width="6.9" height="25.3" fill="#d7062f"/>
<line x1="1021.5" x2="1021.5" y1="503.8" y2="523.5" stroke="#000" stroke-width="1.2"/>
<line x1="1021.5" x2="1021.5" y1="526.6" y2="542" stroke="#000" stroke-width="1.2"/>
<rect x="1018.6" y="524.1" width="5.7" height="1.9" fill="#fff" fill-opacity="0.1" stroke="#000" stroke-width="1.2"/>
<line x1="1030.5" x2="1030.5" y1="476.3" y2="496.3" stroke="#d7062f" stroke-width="1.2"/>
<rect x="1027" y="496.3" width="6.9" height="35.3" fill="#d7062f"/>
<line x1="1038.5" x2="1038.5" y1="520.1" y2="523.5" stroke="#000" stroke-width="1.2"/>
<line x1="1038.5" x2="1038.5" y1="531.6" y2="548.9" stroke="#000" stroke-width="1.2"/>
<rect x="1035.7" y="524.1" width="5.7" height="6.9" fill="#fff" fill-opacity="0.1" stroke="#000" stroke-width="1.2"/>
<line x1="1047.5" x2="1047.5" y1="495.1" y2="507.2" stroke="#d7062f" stroke-width="1.2"/>
<line x1="1047.5" x2="1047.5" y1="552.7" y2="557.5" stroke="#d7062f" stroke-width="1.2"/>
<rect x="1044" y="507.2" width="6.9" height="45.5" fill="#d7062f"/>
<line x1="1055.5" x2="1055.5" y1="334.8" y2="374.6" stroke="#000" stroke-width="1.2"/>
<line x1="1055.5" x2="1055.5" y1="528.3" y2="539.1" stroke="#000" stroke-width="1.2"/>
<rect x="1052.7" y="375.2" width="5.7" height="152.6" fill="#fff" fill-opacity="0.1" stroke="#000" stroke-width="1.2"/>
<line x1="1064.5" x2="1064.5" y1="293.9" y2="402.2" stroke="#d7062f" stroke-width="1.2"/>
<line x1="1064.5" x2="1064.5" y1="462.7" y2="470.9" stroke="#d7062f" stroke-width="1.2"/>
<rect x="1061" y="402.2" width="6.9" height="60.5" fill="#d7062f"/>
<line x1="1072.5" x2="1072.5" y1="454" y2="465.6" stroke="#d7062f" stroke-width="1.2"/>
<line x1="1072.5" x2="1072.5" y1="500.9" y2="507.8" stroke="#d7062f" stroke-width="1.2"/>
<rect x="1069" y="465.6" width="6.9" height="35.3" fill="#d7062f"/>
<line x1="1080.5" x2="1080.5" y1="392.2" y2="437.3" stroke="#000" stroke-width="1.2"/>
<line x1="1080.5" x2="1080.5" y1="471.5" y2="489.9" stroke="#000" stroke-width="1.2"/>
<rect x="1077.7" y="437.9" width="5.7" height="33" fill="#fff" fill-opacity="0.1" stroke="#000" stroke-width="1.2"/>
<line x1="1089.5" x2="1089.5" y1="338.7" y2="410.3" stroke="#d7062f" stroke-width="1.2"/>
<line x1="1089.5" x2="1089.5" y1="442.7" y2="464" stroke="#d7062f" stroke-width="1.2"/>
<rect x="1086" y="410.3" width="6.9" height="32.4" fill="#d7062f"/>
<line x1="1097.5" x2="1097.5" y1="327.7" y2="376.3" stroke="#000" stroke-width="1.2"/>
<line x1="1097.5" x2="1097.5" y1="433.5" y2="441" stroke="#000" stroke-width="1.2"/>
<rect x="1094.7" y="376.9" width="5.7" height="56" fill="#fff" fill-opacity="0.1" stroke="#000" stroke-width="1.2"/>
<line x1="1106.5" x2="1106.5" y1="368" y2="393.4" stroke="#d7062f" stroke-width="1.2"/>
<line x1="1106.5" x2="1106.5" y1="459.6" y2="475.7" stroke="#d7062f" stroke-width="1.2"/>
<rect x="1103" y="393.4" width="6.9" height="66.2" fill="#d7062f"/>
<line x1="1114.5" x2="1114.5" y1="351.7" y2="376.3" stroke="#000" stroke-width="1.2"/>
<line x1="1114.5" x2="1114.5" y1="453.5" y2="481.7" stroke="#000" stroke-width="1.2"/>
<rect x="1111.7" y="376.9" width="5.7" height="76" fill="#fff" fill-opacity="0.1" stroke="#000" stroke-width="1.2"/>
<g clip-path="url(#bbc)"><line x1="20.5" x2="20.5" y1="409.1" y2="442.1" stroke="#c21741" stroke-width="1.2"/><rect x="17.1" y="442.1" width="6.9" height="36.9" fill="#c21741"/><line x1="28.5" x2="28.5" y1="461.9" y2="474.2" stroke="#c21741" stroke-width="1.2"/><rect x="25.1" y="474.2" width="6.9" height="22.7" fill="#c21741"/><line x1="37.5" x2="37.5" y1="488.2" y2="508.2" stroke="#c21741" stroke-width="1.2"/><line x1="37.5" x2="37.5" y1="521.2" y2="523.9" stroke="#c21741" stroke-width="1.2"/><rect x="34" y="508.2" width="6.9" height="13.1" fill="#c21741"/><line x1="62.5" x2="62.5" y1="414.1" y2="420.1" stroke="#c21741" stroke-width="1.2"/><line x1="62.5" x2="62.5" y1="503.8" y2="504.7" stroke="#c21741" stroke-width="1.2"/><rect x="59" y="420.1" width="6.9" height="83.7" fill="#c21741"/><line x1="79.5" x2="79.5" y1="492.1" y2="496.9" stroke="#c21741" stroke-width="1.2"/><line x1="79.5" x2="79.5" y1="510.5" y2="518" stroke="#c21741" stroke-width="1.2"/><rect x="76" y="496.9" width="6.9" height="13.6" fill="#c21741"/><line x1="95.5" x2="95.5" y1="461.1" y2="470.9" stroke="#c21741" stroke-width="1.2"/><line x1="95.5" x2="95.5" y1="504.5" y2="516.8" stroke="#c21741" stroke-width="1.2"/><rect x="92" y="470.9" width="6.9" height="33.6" fill="#c21741"/><line x1="129.5" x2="129.5" y1="417.2" y2="439.5" stroke="#c21741" stroke-width="1.2"/><line x1="129.5" x2="129.5" y1="441.9" y2="470.9" stroke="#c21741" stroke-width="1.2"/><rect x="126" y="439.5" width="6.9" height="2.5" fill="#c21741"/><line x1="146.5" x2="146.5" y1="421" y2="430.2" stroke="#c21741" stroke-width="1.2"/><line x1="146.5" x2="146.5" y1="464.8" y2="473.4" stroke="#c21741" stroke-width="1.2"/><rect x="143.1" y="430.2" width="6.9" height="34.6" fill="#c21741"/><line x1="154.5" x2="154.5" y1="471.9" y2="474.2" stroke="#c21741" stroke-width="1.2"/><line x1="154.5" x2="154.5" y1="488.8" y2="495.7" stroke="#c21741" stroke-width="1.2"/><rect x="151.1" y="474.2" width="6.9" height="14.6" fill="#c21741"/><line x1="205.5" x2="205.5" y1="341.9" y2="352.9" stroke="#c21741" stroke-width="1.2"/><line x1="205.5" x2="205.5" y1="513.8" y2="518" stroke="#c21741" stroke-width="1.2"/><rect x="202.1" y="352.9" width="6.9" height="160.9" fill="#c21741"/><line x1="213.5" x2="213.5" y1="522.4" y2="525.7" stroke="#c21741" stroke-width="1.2"/><rect x="210.1" y="500.1" width="6.9" height="22.3" fill="#c21741"/><line x1="222.5" x2="222.5" y1="509.5" y2="515.9" stroke="#c21741" stroke-width="1.2"/><line x1="222.5" x2="222.5" y1="540.6" y2="543.5" stroke="#c21741" stroke-width="1.2"/><rect x="219.1" y="515.9" width="6.9" height="24.8" fill="#c21741"/><line x1="255.5" x2="255.5" y1="520.7" y2="522.2" stroke="#c21741" stroke-width="1.2"/><line x1="255.5" x2="255.5" y1="540.3" y2="544.5" stroke="#c21741" stroke-width="1.2"/><rect x="252.1" y="522.2" width="6.9" height="18" fill="#c21741"/><line x1="281.5" x2="281.5" y1="538.1" y2="539.9" stroke="#c21741" stroke-width="1.2"/><rect x="278.1" y="468.1" width="6.9" height="70.1" fill="#c21741"/><line x1="289.5" x2="289.5" y1="530.5" y2="542.4" stroke="#c21741" stroke-width="1.2"/><line x1="289.5" x2="289.5" y1="562.9" y2="567.7" stroke="#c21741" stroke-width="1.2"/><rect x="286.1" y="542.4" width="6.9" height="20.5" fill="#c21741"/><line x1="306.5" x2="306.5" y1="498.6" y2="532.2" stroke="#c21741" stroke-width="1.2"/><line x1="306.5" x2="306.5" y1="535.8" y2="542" stroke="#c21741" stroke-width="1.2"/><rect x="303.1" y="532.2" width="6.9" height="3.6" fill="#c21741"/><line x1="323.5" x2="323.5" y1="500.5" y2="509.3" stroke="#c21741" stroke-width="1.2"/><line x1="323.5" x2="323.5" y1="547.7" y2="550" stroke="#c21741" stroke-width="1.2"/><rect x="320.1" y="509.3" width="6.9" height="38.4" fill="#c21741"/><line x1="340.5" x2="340.5" y1="472.5" y2="489.4" stroke="#c21741" stroke-width="1.2"/><line x1="340.5" x2="340.5" y1="517.4" y2="527.6" stroke="#c21741" stroke-width="1.2"/><rect x="337.1" y="489.4" width="6.9" height="28" fill="#c21741"/><line x1="348.5" x2="348.5" y1="497.2" y2="515.3" stroke="#c21741" stroke-width="1.2"/><line x1="348.5" x2="348.5" y1="532.6" y2="534.9" stroke="#c21741" stroke-width="1.2"/><rect x="345.1" y="515.3" width="6.9" height="17.3" fill="#c21741"/><line x1="356.5" x2="356.5" y1="519.1" y2="528.3" stroke="#c21741" stroke-width="1.2"/><line x1="356.5" x2="356.5" y1="538.1" y2="539.9" stroke="#c21741" stroke-width="1.2"/><rect x="353.1" y="528.3" width="6.9" height="9.8" fill="#c21741"/><line x1="365.5" x2="365.5" y1="520.3" y2="537.4" stroke="#c21741" stroke-width="1.2"/><line x1="365.5" x2="365.5" y1="540.6" y2="543.9" stroke="#c21741" stroke-width="1.2"/><rect x="362.1" y="537.4" width="6.9" height="3.3" fill="#c21741"/><line x1="390.5" x2="390.5" y1="423.3" y2="464.4" stroke="#c21741" stroke-width="1.2"/><line x1="390.5" x2="390.5" y1="488.6" y2="490.7" stroke="#c21741" stroke-width="1.2"/><rect x="387.1" y="464.4" width="6.9" height="24.2" fill="#c21741"/><line x1="415.5" x2="415.5" y1="358.8" y2="378.2" stroke="#c21741" stroke-width="1.2"/><line x1="415.5" x2="415.5" y1="455.4" y2="468.6" stroke="#c21741" stroke-width="1.2"/><rect x="412.1" y="378.2" width="6.9" height="77.2" fill="#c21741"/><line x1="424.5" x2="424.5" y1="446.4" y2="454.2" stroke="#c21741" stroke-width="1.2"/><rect x="421.1" y="454.2" width="6.9" height="39.4" fill="#c21741"/><line x1="432.5" x2="432.5" y1="485" y2="497.2" stroke="#c21741" stroke-width="1.2"/><line x1="432.5" x2="432.5" y1="513.8" y2="518.9" stroke="#c21741" stroke-width="1.2"/><rect x="429.1" y="497.2" width="6.9" height="16.5" fill="#c21741"/><line x1="441.5" x2="441.5" y1="499" y2="510.3" stroke="#c21741" stroke-width="1.2"/><rect x="438.1" y="510.3" width="6.9" height="28.4" fill="#c21741"/><line x1="457.5" x2="457.5" y1="507.2" y2="519.1" stroke="#c21741" stroke-width="1.2"/><line x1="457.5" x2="457.5" y1="549.3" y2="550.6" stroke="#c21741" stroke-width="1.2"/><rect x="454.1" y="519.1" width="6.9" height="30.1" fill="#c21741"/><line x1="483.5" x2="483.5" y1="460.8" y2="492.1" stroke="#c21741" stroke-width="1.2"/><rect x="480.1" y="492.1" width="6.9" height="18.4" fill="#c21741"/><line x1="500.5" x2="500.5" y1="445.2" y2="462.3" stroke="#c21741" stroke-width="1.2"/><line x1="500.5" x2="500.5" y1="474.8" y2="487.8" stroke="#c21741" stroke-width="1.2"/><rect x="497.1" y="462.3" width="6.9" height="12.5" fill="#c21741"/><line x1="508.5" x2="508.5" y1="470.9" y2="474.2" stroke="#c21741" stroke-width="1.2"/><line x1="508.5" x2="508.5" y1="507.8" y2="515.9" stroke="#c21741" stroke-width="1.2"/><rect x="505.1" y="474.2" width="6.9" height="33.6" fill="#c21741"/><line x1="516.5" x2="516.5" y1="496.9" y2="508.2" stroke="#c21741" stroke-width="1.2"/><line x1="516.5" x2="516.5" y1="527.6" y2="539.1" stroke="#c21741" stroke-width="1.2"/><rect x="513" y="508.2" width="6.9" height="19.4" fill="#c21741"/><line x1="542.5" x2="542.5" y1="370.1" y2="417.8" stroke="#c21741" stroke-width="1.2"/><line x1="542.5" x2="542.5" y1="478" y2="482.8" stroke="#c21741" stroke-width="1.2"/><rect x="539" y="417.8" width="6.9" height="60.3" fill="#c21741"/><line x1="550.5" x2="550.5" y1="420.1" y2="451.4" stroke="#c21741" stroke-width="1.2"/><line x1="550.5" x2="550.5" y1="528.3" y2="543.1" stroke="#c21741" stroke-width="1.2"/><rect x="547" y="451.4" width="6.9" height="77" fill="#c21741"/><line x1="575.5" x2="575.5" y1="507" y2="522.2" stroke="#c21741" stroke-width="1.2"/><line x1="575.5" x2="575.5" y1="531.6" y2="535.8" stroke="#c21741" stroke-width="1.2"/><rect x="572" y="522.2" width="6.9" height="9.4" fill="#c21741"/><line x1="584.5" x2="584.5" y1="521.8" y2="532.2" stroke="#c21741" stroke-width="1.2"/><line x1="584.5" x2="584.5" y1="546" y2="550" stroke="#c21741" stroke-width="1.2"/><rect x="581" y="532.2" width="6.9" height="13.8" fill="#c21741"/><line x1="626.5" x2="626.5" y1="457.3" y2="478.4" stroke="#c21741" stroke-width="1.2"/><line x1="626.5" x2="626.5" y1="514.9" y2="532" stroke="#c21741" stroke-width="1.2"/><rect x="623" y="478.4" width="6.9" height="36.5" fill="#c21741"/><line x1="634.5" x2="634.5" y1="518.6" y2="522.2" stroke="#c21741" stroke-width="1.2"/><line x1="634.5" x2="634.5" y1="540.6" y2="555" stroke="#c21741" stroke-width="1.2"/><rect x="631" y="522.2" width="6.9" height="18.4" fill="#c21741"/><line x1="651.5" x2="651.5" y1="509.9" y2="521.2" stroke="#c21741" stroke-width="1.2"/><rect x="648" y="521.2" width="6.9" height="25.5" fill="#c21741"/><line x1="685.5" x2="685.5" y1="366.3" y2="422.2" stroke="#c21741" stroke-width="1.2"/><line x1="685.5" x2="685.5" y1="485.5" y2="489.9" stroke="#c21741" stroke-width="1.2"/><rect x="682" y="422.2" width="6.9" height="63.4" fill="#c21741"/><line x1="693.5" x2="693.5" y1="476.3" y2="479.2" stroke="#c21741" stroke-width="1.2"/><line x1="693.5" x2="693.5" y1="518.6" y2="522.2" stroke="#c21741" stroke-width="1.2"/><rect x="690" y="479.2" width="6.9" height="39.4" fill="#c21741"/><line x1="710.5" x2="710.5" y1="510.3" y2="520.7" stroke="#c21741" stroke-width="1.2"/><rect x="707" y="494" width="6.9" height="16.3" fill="#c21741"/><line x1="735.5" x2="735.5" y1="491.5" y2="514.9" stroke="#c21741" stroke-width="1.2"/><rect x="732" y="464.4" width="6.9" height="27.1" fill="#c21741"/><line x1="744.5" x2="744.5" y1="470.4" y2="496.5" stroke="#c21741" stroke-width="1.2"/><line x1="744.5" x2="744.5" y1="502.2" y2="520.7" stroke="#c21741" stroke-width="1.2"/><rect x="741" y="496.5" width="6.9" height="5.8" fill="#c21741"/><line x1="752.5" x2="752.5" y1="499" y2="511.3" stroke="#c21741" stroke-width="1.2"/><line x1="752.5" x2="752.5" y1="513.3" y2="537.6" stroke="#c21741" stroke-width="1.2"/><rect x="749" y="511.3" width="6.9" height="2" fill="#c21741"/><line x1="769.5" x2="769.5" y1="443.1" y2="469.4" stroke="#c21741" stroke-width="1.2"/><line x1="769.5" x2="769.5" y1="522.4" y2="528.7" stroke="#c21741" stroke-width="1.2"/><rect x="766" y="469.4" width="6.9" height="53" fill="#c21741"/><line x1="786.5" x2="786.5" y1="485" y2="505.1" stroke="#c21741" stroke-width="1.2"/><line x1="786.5" x2="786.5" y1="532" y2="532.6" stroke="#c21741" stroke-width="1.2"/><rect x="783" y="505.1" width="6.9" height="26.9" fill="#c21741"/><line x1="803.5" x2="803.5" y1="514.1" y2="539.3" stroke="#c21741" stroke-width="1.2"/><line x1="803.5" x2="803.5" y1="541.3" y2="551.8" stroke="#c21741" stroke-width="1.2"/><rect x="800" y="539.3" width="6.9" height="2" fill="#c21741"/><line x1="811.5" x2="811.5" y1="522.4" y2="526" stroke="#c21741" stroke-width="1.2"/><rect x="808" y="526" width="6.9" height="35.3" fill="#c21741"/><line x1="828.5" x2="828.5" y1="542.4" y2="554.3" stroke="#c21741" stroke-width="1.2"/><rect x="825" y="554.3" width="6.9" height="19.6" fill="#c21741"/><line x1="845.5" x2="845.5" y1="533.7" y2="535.8" stroke="#c21741" stroke-width="1.2"/><line x1="845.5" x2="845.5" y1="571.7" y2="580.4" stroke="#c21741" stroke-width="1.2"/><rect x="842" y="535.8" width="6.9" height="35.9" fill="#c21741"/><line x1="862.5" x2="862.5" y1="552.2" y2="553.3" stroke="#c21741" stroke-width="1.2"/><rect x="859" y="553.3" width="6.9" height="28" fill="#c21741"/><line x1="878.5" x2="878.5" y1="483.2" y2="547.4" stroke="#c21741" stroke-width="1.2"/><line x1="878.5" x2="878.5" y1="556.6" y2="576.7" stroke="#c21741" stroke-width="1.2"/><rect x="875.6" y="548" width="5.7" height="8" fill="#fff" fill-opacity="0.1" stroke="#c21741" stroke-width="1.2"/><line x1="904.5" x2="904.5" y1="446.4" y2="459.4" stroke="#c21741" stroke-width="1.2"/><line x1="904.5" x2="904.5" y1="476.7" y2="498" stroke="#c21741" stroke-width="1.2"/><rect x="901" y="459.4" width="6.9" height="17.3" fill="#c21741"/><line x1="912.5" x2="912.5" y1="526.8" y2="551" stroke="#c21741" stroke-width="1.2"/><rect x="909" y="488.2" width="6.9" height="38.6" fill="#c21741"/><line x1="920.5" x2="920.5" y1="519.7" y2="532.2" stroke="#c21741" stroke-width="1.2"/><rect x="917" y="532.2" width="6.9" height="27.5" fill="#c21741"/><line x1="954.5" x2="954.5" y1="500.1" y2="519.7" stroke="#c21741" stroke-width="1.2"/><line x1="954.5" x2="954.5" y1="546.8" y2="558.7" stroke="#c21741" stroke-width="1.2"/><rect x="951" y="519.7" width="6.9" height="27.1" fill="#c21741"/><line x1="971.5" x2="971.5" y1="433.5" y2="453.1" stroke="#c21741" stroke-width="1.2"/><line x1="971.5" x2="971.5" y1="499.7" y2="501.9" stroke="#c21741" stroke-width="1.2"/><rect x="968" y="453.1" width="6.9" height="46.7" fill="#c21741"/><line x1="996.5" x2="996.5" y1="352.9" y2="353.8" stroke="#c21741" stroke-width="1.2"/><line x1="996.5" x2="996.5" y1="469.8" y2="480.5" stroke="#c21741" stroke-width="1.2"/><rect x="993" y="353.8" width="6.9" height="116" fill="#c21741"/><line x1="1005.5" x2="1005.5" y1="435.2" y2="448.1" stroke="#c21741" stroke-width="1.2"/><line x1="1005.5" x2="1005.5" y1="509.9" y2="515.7" stroke="#c21741" stroke-width="1.2"/><rect x="1002" y="448.1" width="6.9" height="61.8" fill="#c21741"/><line x1="1013.5" x2="1013.5" y1="473.1" y2="502.2" stroke="#c21741" stroke-width="1.2"/><line x1="1013.5" x2="1013.5" y1="527.6" y2="529.3" stroke="#c21741" stroke-width="1.2"/><rect x="1010" y="502.2" width="6.9" height="25.3" fill="#c21741"/><line x1="1030.5" x2="1030.5" y1="476.3" y2="496.3" stroke="#c21741" stroke-width="1.2"/><rect x="1027" y="496.3" width="6.9" height="35.3" fill="#c21741"/><line x1="1047.5" x2="1047.5" y1="495.1" y2="507.2" stroke="#c21741" stroke-width="1.2"/><line x1="1047.5" x2="1047.5" y1="552.7" y2="557.5" stroke="#c21741" stroke-width="1.2"/><rect x="1044" y="507.2" width="6.9" height="45.5" fill="#c21741"/><line x1="1064.5" x2="1064.5" y1="293.9" y2="402.2" stroke="#c21741" stroke-width="1.2"/><line x1="1064.5" x2="1064.5" y1="462.7" y2="470.9" stroke="#c21741" stroke-width="1.2"/><rect x="1061" y="402.2" width="6.9" height="60.5" fill="#c21741"/><line x1="1072.5" x2="1072.5" y1="454" y2="465.6" stroke="#c21741" stroke-width="1.2"/><line x1="1072.5" x2="1072.5" y1="500.9" y2="507.8" stroke="#c21741" stroke-width="1.2"/><rect x="1069" y="465.6" width="6.9" height="35.3" fill="#c21741"/><line x1="1089.5" x2="1089.5" y1="338.7" y2="410.3" stroke="#c21741" stroke-width="1.2"/><line x1="1089.5" x2="1089.5" y1="442.7" y2="464" stroke="#c21741" stroke-width="1.2"/><rect x="1086" y="410.3" width="6.9" height="32.4" fill="#c21741"/><line x1="1106.5" x2="1106.5" y1="368" y2="393.4" stroke="#c21741" stroke-width="1.2"/><line x1="1106.5" x2="1106.5" y1="459.6" y2="475.7" stroke="#c21741" stroke-width="1.2"/><rect x="1103" y="393.4" width="6.9" height="66.2" fill="#c21741"/></g>
<polyline fill="none" stroke="#8a2be2" stroke-width="1.2" points="16.6,260 47,279.2 82.2,298.4 104.6,309 138.2,318.2 165.4,327.2 197.4,337.4 223,347.4 247.5,353.8 281.1,363.6 314.7,370.7 357,376.6 390.6,380.9 424.2,383.7 449.5,387.4 474.8,391.3 500,394.4 525.3,397.2 550.5,398.3 575.8,400.4 601,403 626.3,405.4 651.5,406.3 676.8,406.3 693.7,407.6 710.4,409.5 727.3,413.4 744.2,416.7 760.9,419.9 777.8,422.8 794.7,425.4 811.4,428 828.3,429.7 836.7,430.6 870.3,435.8 904.1,438.4 937.7,441.2 963.1,443.8 979.8,443.1 996.7,442.7 1021.8,443.8 1035,444.9 1055.6,444.9 1072.5,444.4 1089.2,444.9 1114.5,445.5"/>
<polyline fill="none" stroke="#ff00ee" stroke-width="1.25" points="17.2,364.7 36.7,368.6 62.2,371.8 96.3,375.5 121.2,377.2 163.5,377.7 171.5,378.3 188.4,377.7 205.3,378.1 225,379.8 255.8,385.3 281.1,386.8 314.7,389.6 348.5,393.3 373.7,396.1 407.5,398.3 415.7,399.4 424.2,402.6 441,412.4 457.9,421 474.8,429.7 491.5,439.4 508.4,444.9 516.9,449.2 533.6,452.5 550.5,460 558.9,464.8 575.8,469.8 592.5,474.1 609.4,477.4 626.3,479.1 651.5,481.7 676.8,482.8 702.2,483.4 727.3,484.5 744.2,485.6 760.9,486.5 777.8,491.5 794.7,495.1 811.4,498 828.3,500.1 836.7,501 862.1,503.4 887.2,505.1 904.1,504 920.8,506 946.2,507.7 963.1,508.8 971.3,509.9 979.8,508.2 996.7,507.7 1013.6,509.5 1030.5,510.3 1035,512.1 1047.1,513.1 1055.6,511 1072.5,509.5 1089.2,506.6 1114.5,504"/>
<polyline fill="none" stroke="#0c5420" stroke-width="1.25" points="16.6,327.2 31,343.2 36.7,346.3 45.3,356 54,361.4 62.2,370.7 70.7,382 79.2,390.7 87.6,396.1 96.3,402.6 104.5,405.9 113,411.3 121.2,415.6 138.1,426.4 146.6,430.8 163.5,437.3 180.1,442.7 188.4,444.2 197.1,443.1 205.3,446 225,450.3 239.1,454.6 264.2,458.5 289.6,460.7 314.7,466.1 340.1,472 357,479.5 373.7,488.2 390.6,491 407.5,491 424.2,490.4 449.5,494.3 466.4,495.8 483.1,496.4 500,494.7 516.9,496.9 533.6,496.9 542,497.5 558.9,501.2 575.8,504 592.5,506.6 609.4,509.5 617.9,511 634.8,511.6 651.5,511.6 659.9,511 668.4,509.5 676.8,507.7 693.7,507.7 710.4,506 727.3,503.4 744.2,502.3 760.9,501.2 777.8,500.6 794.7,500.6 803.2,501.9 811.4,503.4 819.9,506.2 828.3,508.8 836.7,511.4 853.6,514.2 870.3,514.9 887.2,514.7 904.1,513.6 920.8,516 937.7,518.1 954.6,520.1 971.3,520.3 979.8,516.4 988.2,513.6 1005.1,511.6 1021.8,511 1035,512.5 1047.1,512.1 1055.6,510.5 1072.5,508.8 1080.9,506.6 1097.6,505.6 1114.5,502.7"/>
<polyline fill="none" stroke="#bc2c48" stroke-width="1.15" points="17.2,415.6 20,421 28.4,443.8 36.9,457.9 45.3,468.7 54,470.9 62.2,476.3 70.7,481.7 79.2,485.6 87.6,487.1 96.3,491.5 104.5,491.5 113,485 121.2,478.5 129.9,473 138.1,470.9 146.6,467.6 155,466.5 163.5,462.6 171.5,462.2 180.1,457.9 188.4,453.5 197.1,443.8 205.3,451.4 213.7,462.2 222.2,470.9 230.6,477.4 239.1,480.6 255.8,491.5 272.7,504.5 281.1,520.7 289.6,528.3 306.5,527.7 314.7,525.7 323.2,526.8 331.6,523.5 340.1,521.4 348.5,524.4 357,528.3 365.2,529 373.7,524.6 382.1,519.6 390.6,514.7 399,508.8 407.5,495.8 415.7,491.5 424.2,490.4 432.6,487.6 441,487.6 449.5,486 457.9,489.9 466.4,494.7 474.8,497.5 483.1,501.2 491.5,506.6 500,508.8 508.4,510.3 516.9,513.1 525.3,507.7 533.6,498 542,491.5 550.5,492.1 558.9,494.7 567.4,496.9 575.8,504.5 584.3,509.9 592.5,515.3 601,513.8 609.4,514.2 617.9,518.1 626.3,522.5 634.8,523.5 643.2,524 651.5,525.1 659.9,525.1 668.4,514.2 676.8,501.2 685.3,498 693.7,500.1 702.2,501.9 710.4,501.2 718.9,496.9 727.3,489.3 735.8,484.3 744.2,479.5 752.7,487.1 760.9,491.5 769.4,495.8 777.8,495.4 786.3,498 794.7,500.1 803.2,505.1 811.4,514.2 819.9,522.5 828.3,528.3 836.8,533.7 845.2,543.5 853.6,548.9 862.1,554.3 870.3,557.6 878.8,559.1 887.2,558 895.7,546.7 904.1,539.1 912.6,537 920.8,534.8 929.3,533.7 937.7,532.2 946.2,528.3 954.6,522.9 963.1,518.6 971.3,513.8 979.8,505.6 988.2,495.8 996.7,489.7 1005.1,485.6 1013.6,483.9 1021.8,482.8 1030.5,481.7 1038.7,480.2 1047.1,486 1055.6,473.5 1064,481.7 1072.5,496.4 1080.9,495.8 1089.2,487.1 1097.6,472.6 1106.1,465.5 1114.5,449.9"/>
</g>
<line x1="349" y1="350.6" x2="988.9" y2="417.8" stroke="#0a0aee" stroke-width="2.6" stroke-dasharray="14,3,3,3"/>
<line x1="441.3" y1="550" x2="1181.3" y2="550" stroke="#0a0aee" stroke-width="3" stroke-dasharray="3.5,1.9"/>
<line x1="760.9" y1="436.2" x2="888.1" y2="579.2" stroke="#404040" stroke-width="2" stroke-dasharray="4,2.5"/>
<line x1="1047.4" y1="560.2" x2="1207" y2="382.2" stroke="#000" stroke-width="2.5"/>
<rect x="524.5" y="275" width="190" height="31" fill="#9c9ca8" opacity="0.8"/>
<rect x="522.5" y="273" width="190" height="31" fill="#fff" stroke="#a4506e" stroke-width="1"/>
<text x="525.5" y="296" font-size="20" fill="#000" textLength="168.5" lengthAdjust="spacingAndGlyphs">VIX, weekly, 2.5yr</text>
<rect x="760.5" y="246.5" width="148.5" height="96" fill="#9c9ca8" opacity="0.8"/>
<rect x="758.5" y="244.5" width="148.4" height="95.8" fill="#fff" stroke="#a4506e" stroke-width="1"/>
<text x="761.5" y="261.9" font-size="14" letter-spacing="0.12" fill="#1a1a1a">2011 peak, 48.00</text>
<text x="761.5" y="279.8" font-size="14" letter-spacing="0.12" fill="#1a1a1a">2012 peak: 27.73</text>
<text x="761.5" y="297.7" font-size="14" letter-spacing="0.12" fill="#1a1a1a">2013 peak: 21.91</text>
<text x="761.5" y="315.6" font-size="14" letter-spacing="0.12" fill="#1a1a1a">2014 peak: 31.06</text>
<text x="761.5" y="333.5" font-size="14" letter-spacing="0.12" fill="#1a1a1a">2015 peak: ?????</text>
<rect x="17.3" y="668.3" width="6.4" height="12" fill="#2b7b9c"/>
<rect x="18.3" y="669.3" width="4.4" height="10" fill="#56a4d2"/>
<rect x="25.7" y="668.3" width="6.4" height="15.6" fill="#2b7b9c"/>
<rect x="26.7" y="669.3" width="4.4" height="13.6" fill="#56a4d2"/>
<rect x="34.1" y="668.3" width="6.4" height="20" fill="#2b7b9c"/>
<rect x="35.1" y="669.3" width="4.4" height="18" fill="#56a4d2"/>
<rect x="42.6" y="668.3" width="6.4" height="16.5" fill="#2b7b9c"/>
<rect x="43.6" y="669.3" width="4.4" height="14.5" fill="#56a4d2"/>
<rect x="51" y="668.3" width="6.4" height="6.1" fill="#2b7b9c"/>
<rect x="52" y="669.3" width="4.4" height="4.1" fill="#56a4d2"/>
<rect x="59.4" y="668.3" width="6.4" height="7.6" fill="#2b7b9c"/>
<rect x="60.4" y="669.3" width="4.4" height="5.6" fill="#56a4d2"/>
<rect x="67.8" y="668.3" width="6.4" height="7" fill="#2b7b9c"/>
<rect x="68.8" y="669.3" width="4.4" height="5" fill="#56a4d2"/>
<rect x="76.2" y="668.3" width="6.4" height="7.6" fill="#2b7b9c"/>
<rect x="77.2" y="669.3" width="4.4" height="5.6" fill="#56a4d2"/>
<rect x="84.6" y="668.3" width="6.4" height="1.5" fill="#2b7b9c"/>
<rect x="93.1" y="668.3" width="6.4" height="1.5" fill="#2b7b9c"/>
<rect x="101.5" y="664" width="6.4" height="4.3" fill="#2b7b9c"/>
<rect x="102.5" y="665" width="4.4" height="2.3" fill="#56a4d2"/>
<rect x="109.9" y="657.1" width="6.4" height="11.2" fill="#2b7b9c"/>
<rect x="110.9" y="658.1" width="4.4" height="9.2" fill="#56a4d2"/>
<rect x="118.3" y="650.6" width="6.4" height="17.7" fill="#2b7b9c"/>
<rect x="119.3" y="651.6" width="4.4" height="15.7" fill="#56a4d2"/>
<rect x="126.7" y="647.8" width="6.4" height="20.5" fill="#2b7b9c"/>
<rect x="127.7" y="648.8" width="4.4" height="18.5" fill="#56a4d2"/>
<rect x="135.2" y="643.7" width="6.4" height="24.6" fill="#2b7b9c"/>
<rect x="136.2" y="644.7" width="4.4" height="22.6" fill="#56a4d2"/>
<rect x="143.6" y="648.1" width="6.4" height="20.2" fill="#2b7b9c"/>
<rect x="144.6" y="649.1" width="4.4" height="18.2" fill="#56a4d2"/>
<rect x="152" y="655.6" width="6.4" height="12.7" fill="#2b7b9c"/>
<rect x="153" y="656.6" width="4.4" height="10.7" fill="#56a4d2"/>
<rect x="160.4" y="658.1" width="6.4" height="10.2" fill="#2b7b9c"/>
<rect x="161.4" y="659.1" width="4.4" height="8.2" fill="#56a4d2"/>
<rect x="168.8" y="660.1" width="6.4" height="8.2" fill="#2b7b9c"/>
<rect x="169.8" y="661.1" width="4.4" height="6.2" fill="#56a4d2"/>
<rect x="177.2" y="658.1" width="6.4" height="10.2" fill="#2b7b9c"/>
<rect x="178.2" y="659.1" width="4.4" height="8.2" fill="#56a4d2"/>
<rect x="185.7" y="655.1" width="6.4" height="13.2" fill="#2b7b9c"/>
<rect x="186.7" y="656.1" width="4.4" height="11.2" fill="#56a4d2"/>
<rect x="194.1" y="639.7" width="6.4" height="28.6" fill="#2b7b9c"/>
<rect x="195.1" y="640.7" width="4.4" height="26.6" fill="#56a4d2"/>
<rect x="202.5" y="656.5" width="6.4" height="11.8" fill="#2b7b9c"/>
<rect x="203.5" y="657.5" width="4.4" height="9.8" fill="#56a4d2"/>
<rect x="210.9" y="668.3" width="6.4" height="1" fill="#2f7f9e"/>
<rect x="219.3" y="668.3" width="6.4" height="10.5" fill="#2b7b9c"/>
<rect x="220.3" y="669.3" width="4.4" height="8.5" fill="#56a4d2"/>
<rect x="227.8" y="668.3" width="6.4" height="15" fill="#2b7b9c"/>
<rect x="228.8" y="669.3" width="4.4" height="13" fill="#56a4d2"/>
<rect x="236.2" y="668.3" width="6.4" height="17" fill="#2b7b9c"/>
<rect x="237.2" y="669.3" width="4.4" height="15" fill="#56a4d2"/>
<rect x="244.6" y="668.3" width="6.4" height="16.4" fill="#2b7b9c"/>
<rect x="245.6" y="669.3" width="4.4" height="14.4" fill="#56a4d2"/>
<rect x="253" y="668.3" width="6.4" height="17" fill="#2b7b9c"/>
<rect x="254" y="669.3" width="4.4" height="15" fill="#56a4d2"/>
<rect x="261.4" y="668.3" width="6.4" height="10.9" fill="#2b7b9c"/>
<rect x="262.4" y="669.3" width="4.4" height="8.9" fill="#56a4d2"/>
<rect x="269.8" y="668.3" width="6.4" height="2.5" fill="#2b7b9c"/>
<rect x="270.8" y="669.3" width="4.4" height="0.5" fill="#56a4d2"/>
<rect x="278.3" y="668.3" width="6.4" height="5.1" fill="#2b7b9c"/>
<rect x="279.3" y="669.3" width="4.4" height="3.1" fill="#56a4d2"/>
<rect x="286.7" y="668.3" width="6.4" height="9.6" fill="#2b7b9c"/>
<rect x="287.7" y="669.3" width="4.4" height="7.6" fill="#56a4d2"/>
<rect x="295.1" y="668.3" width="6.4" height="5.1" fill="#2b7b9c"/>
<rect x="296.1" y="669.3" width="4.4" height="3.1" fill="#56a4d2"/>
<rect x="303.5" y="668.3" width="6.4" height="4" fill="#2b7b9c"/>
<rect x="304.5" y="669.3" width="4.4" height="2" fill="#56a4d2"/>
<rect x="311.9" y="667.9" width="6.4" height="1" fill="#2f7f9e"/>
<rect x="320.3" y="668.3" width="6.4" height="1.7" fill="#2b7b9c"/>
<rect x="328.8" y="662.5" width="6.4" height="5.8" fill="#2b7b9c"/>
<rect x="329.8" y="663.5" width="4.4" height="3.8" fill="#56a4d2"/>
<rect x="337.2" y="661.5" width="6.4" height="6.8" fill="#2b7b9c"/>
<rect x="338.2" y="662.5" width="4.4" height="4.8" fill="#56a4d2"/>
<rect x="345.6" y="663" width="6.4" height="5.3" fill="#2b7b9c"/>
<rect x="346.6" y="664" width="4.4" height="3.3" fill="#56a4d2"/>
<rect x="354" y="664.5" width="6.4" height="3.8" fill="#2b7b9c"/>
<rect x="355" y="665.5" width="4.4" height="1.8" fill="#56a4d2"/>
<rect x="362.4" y="665.9" width="6.4" height="2.4" fill="#2b7b9c"/>
<rect x="363.4" y="666.9" width="4.4" height="0.4" fill="#56a4d2"/>
<rect x="370.9" y="662" width="6.4" height="6.3" fill="#2b7b9c"/>
<rect x="371.9" y="663" width="4.4" height="4.3" fill="#56a4d2"/>
<rect x="379.3" y="653.1" width="6.4" height="15.2" fill="#2b7b9c"/>
<rect x="380.3" y="654.1" width="4.4" height="13.2" fill="#56a4d2"/>
<rect x="387.7" y="651.7" width="6.4" height="16.6" fill="#2b7b9c"/>
<rect x="388.7" y="652.7" width="4.4" height="14.6" fill="#56a4d2"/>
<rect x="396.1" y="645.1" width="6.4" height="23.2" fill="#2b7b9c"/>
<rect x="397.1" y="646.1" width="4.4" height="21.2" fill="#56a4d2"/>
<rect x="404.5" y="637.3" width="6.4" height="31" fill="#2b7b9c"/>
<rect x="405.5" y="638.3" width="4.4" height="29" fill="#56a4d2"/>
<rect x="412.9" y="639.8" width="6.4" height="28.5" fill="#2b7b9c"/>
<rect x="413.9" y="640.8" width="4.4" height="26.5" fill="#56a4d2"/>
<rect x="421.4" y="648.1" width="6.4" height="20.2" fill="#2b7b9c"/>
<rect x="422.4" y="649.1" width="4.4" height="18.2" fill="#56a4d2"/>
<rect x="429.8" y="657.6" width="6.4" height="10.7" fill="#2b7b9c"/>
<rect x="430.8" y="658.6" width="4.4" height="8.7" fill="#56a4d2"/>
<rect x="438.2" y="667.9" width="6.4" height="1" fill="#2f7f9e"/>
<rect x="446.6" y="668.3" width="6.4" height="5.7" fill="#2b7b9c"/>
<rect x="447.6" y="669.3" width="4.4" height="3.7" fill="#56a4d2"/>
<rect x="455" y="668.3" width="6.4" height="11" fill="#2b7b9c"/>
<rect x="456" y="669.3" width="4.4" height="9" fill="#56a4d2"/>
<rect x="463.5" y="668.3" width="6.4" height="9.6" fill="#2b7b9c"/>
<rect x="464.5" y="669.3" width="4.4" height="7.6" fill="#56a4d2"/>
<rect x="471.9" y="668.3" width="6.4" height="5.6" fill="#2b7b9c"/>
<rect x="472.9" y="669.3" width="4.4" height="3.6" fill="#56a4d2"/>
<rect x="480.3" y="668.3" width="6.4" height="4.2" fill="#2b7b9c"/>
<rect x="481.3" y="669.3" width="4.4" height="2.2" fill="#56a4d2"/>
<rect x="488.7" y="662" width="6.4" height="6.3" fill="#2b7b9c"/>
<rect x="489.7" y="663" width="4.4" height="4.3" fill="#56a4d2"/>
<rect x="497.1" y="659.5" width="6.4" height="8.8" fill="#2b7b9c"/>
<rect x="498.1" y="660.5" width="4.4" height="6.8" fill="#56a4d2"/>
<rect x="505.5" y="663" width="6.4" height="5.3" fill="#2b7b9c"/>
<rect x="506.5" y="664" width="4.4" height="3.3" fill="#56a4d2"/>
<rect x="514" y="668.3" width="6.4" height="1" fill="#2f7f9e"/>
<rect x="522.4" y="665" width="6.4" height="3.3" fill="#2b7b9c"/>
<rect x="523.4" y="666" width="4.4" height="1.3" fill="#56a4d2"/>
<rect x="530.8" y="659.5" width="6.4" height="8.8" fill="#2b7b9c"/>
<rect x="531.8" y="660.5" width="4.4" height="6.8" fill="#56a4d2"/>
<rect x="539.2" y="659.5" width="6.4" height="8.8" fill="#2b7b9c"/>
<rect x="540.2" y="660.5" width="4.4" height="6.8" fill="#56a4d2"/>
<rect x="547.6" y="667.6" width="6.4" height="1" fill="#2f7f9e"/>
<rect x="556.1" y="668.3" width="6.4" height="4.2" fill="#2b7b9c"/>
<rect x="557.1" y="669.3" width="4.4" height="2.2" fill="#56a4d2"/>
<rect x="564.5" y="668.3" width="6.4" height="6.7" fill="#2b7b9c"/>
<rect x="565.5" y="669.3" width="4.4" height="4.7" fill="#56a4d2"/>
<rect x="572.9" y="668.3" width="6.4" height="9.1" fill="#2b7b9c"/>
<rect x="573.9" y="669.3" width="4.4" height="7.1" fill="#56a4d2"/>
<rect x="581.3" y="668.3" width="6.4" height="12" fill="#2b7b9c"/>
<rect x="582.3" y="669.3" width="4.4" height="10" fill="#56a4d2"/>
<rect x="589.7" y="668.3" width="6.4" height="13.1" fill="#2b7b9c"/>
<rect x="590.7" y="669.3" width="4.4" height="11.1" fill="#56a4d2"/>
<rect x="598.1" y="668.3" width="6.4" height="8.6" fill="#2b7b9c"/>
<rect x="599.1" y="669.3" width="4.4" height="6.6" fill="#56a4d2"/>
<rect x="606.6" y="668.3" width="6.4" height="5.1" fill="#2b7b9c"/>
<rect x="607.6" y="669.3" width="4.4" height="3.1" fill="#56a4d2"/>
<rect x="615" y="665.4" width="6.4" height="2.9" fill="#2b7b9c"/>
<rect x="616" y="666.4" width="4.4" height="0.9" fill="#56a4d2"/>
<rect x="623.4" y="666" width="6.4" height="2.3" fill="#2b7b9c"/>
<rect x="624.4" y="667" width="4.4" height="0.3" fill="#56a4d2"/>
<rect x="631.8" y="668.3" width="6.4" height="1.7" fill="#2b7b9c"/>
<rect x="640.2" y="668.3" width="6.4" height="1" fill="#2f7f9e"/>
<rect x="648.6" y="668.3" width="6.4" height="4.2" fill="#2b7b9c"/>
<rect x="649.6" y="669.3" width="4.4" height="2.2" fill="#56a4d2"/>
<rect x="657.1" y="668.3" width="6.4" height="5.6" fill="#2b7b9c"/>
<rect x="658.1" y="669.3" width="4.4" height="3.6" fill="#56a4d2"/>
<rect x="665.5" y="658.1" width="6.4" height="10.2" fill="#2b7b9c"/>
<rect x="666.5" y="659.1" width="4.4" height="8.2" fill="#56a4d2"/>
<rect x="673.9" y="647.8" width="6.4" height="20.5" fill="#2b7b9c"/>
<rect x="674.9" y="648.8" width="4.4" height="18.5" fill="#56a4d2"/>
<rect x="682.3" y="651.2" width="6.4" height="17.1" fill="#2b7b9c"/>
<rect x="683.3" y="652.2" width="4.4" height="15.1" fill="#56a4d2"/>
<rect x="690.7" y="659" width="6.4" height="9.3" fill="#2b7b9c"/>
<rect x="691.7" y="660" width="4.4" height="7.3" fill="#56a4d2"/>
<rect x="699.2" y="661.5" width="6.4" height="6.8" fill="#2b7b9c"/>
<rect x="700.2" y="662.5" width="4.4" height="4.8" fill="#56a4d2"/>
<rect x="707.6" y="665.4" width="6.4" height="2.9" fill="#2b7b9c"/>
<rect x="708.6" y="666.4" width="4.4" height="0.9" fill="#56a4d2"/>
<rect x="716" y="667.5" width="6.4" height="1" fill="#2f7f9e"/>
<rect x="724.4" y="658.6" width="6.4" height="9.7" fill="#2b7b9c"/>
<rect x="725.4" y="659.6" width="4.4" height="7.7" fill="#56a4d2"/>
<rect x="732.8" y="661.5" width="6.4" height="6.8" fill="#2b7b9c"/>
<rect x="733.8" y="662.5" width="4.4" height="4.8" fill="#56a4d2"/>
<rect x="741.2" y="665.4" width="6.4" height="2.9" fill="#2b7b9c"/>
<rect x="742.2" y="666.4" width="4.4" height="0.9" fill="#56a4d2"/>
<rect x="749.7" y="668.3" width="6.4" height="1" fill="#2f7f9e"/>
<rect x="758.1" y="663.5" width="6.4" height="4.8" fill="#2b7b9c"/>
<rect x="759.1" y="664.5" width="4.4" height="2.8" fill="#56a4d2"/>
<rect x="766.5" y="668.3" width="6.4" height="2.1" fill="#2b7b9c"/>
<rect x="767.5" y="669.3" width="4.4" height="0.1" fill="#56a4d2"/>
<rect x="774.9" y="668.3" width="6.4" height="4.2" fill="#2b7b9c"/>
<rect x="775.9" y="669.3" width="4.4" height="2.2" fill="#56a4d2"/>
<rect x="783.3" y="668.3" width="6.4" height="9.1" fill="#2b7b9c"/>
<rect x="784.3" y="669.3" width="4.4" height="7.1" fill="#56a4d2"/>
<rect x="791.8" y="668.3" width="6.4" height="11.5" fill="#2b7b9c"/>
<rect x="792.8" y="669.3" width="4.4" height="9.5" fill="#56a4d2"/>
<rect x="800.2" y="668.3" width="6.4" height="14" fill="#2b7b9c"/>
<rect x="801.2" y="669.3" width="4.4" height="12" fill="#56a4d2"/>
<rect x="808.6" y="668.3" width="6.4" height="17.5" fill="#2b7b9c"/>
<rect x="809.6" y="669.3" width="4.4" height="15.5" fill="#56a4d2"/>
<rect x="817" y="668.3" width="6.4" height="19" fill="#2b7b9c"/>
<rect x="818" y="669.3" width="4.4" height="17" fill="#56a4d2"/>
<rect x="825.4" y="668.3" width="6.4" height="20.5" fill="#2b7b9c"/>
<rect x="826.4" y="669.3" width="4.4" height="18.5" fill="#56a4d2"/>
<rect x="833.8" y="668.3" width="6.4" height="16.6" fill="#2b7b9c"/>
<rect x="834.8" y="669.3" width="4.4" height="14.6" fill="#56a4d2"/>
<rect x="842.3" y="668.3" width="6.4" height="16.5" fill="#2b7b9c"/>
<rect x="843.3" y="669.3" width="4.4" height="14.5" fill="#56a4d2"/>
<rect x="850.7" y="668.3" width="6.4" height="14.5" fill="#2b7b9c"/>
<rect x="851.7" y="669.3" width="4.4" height="12.5" fill="#56a4d2"/>
<rect x="859.1" y="668.3" width="6.4" height="15.1" fill="#2b7b9c"/>
<rect x="860.1" y="669.3" width="4.4" height="13.1" fill="#56a4d2"/>
<rect x="867.5" y="668.3" width="6.4" height="9.1" fill="#2b7b9c"/>
<rect x="868.5" y="669.3" width="4.4" height="7.1" fill="#56a4d2"/>
<rect x="875.9" y="668.3" width="6.4" height="4.6" fill="#2b7b9c"/>
<rect x="876.9" y="669.3" width="4.4" height="2.6" fill="#56a4d2"/>
<rect x="884.4" y="667.9" width="6.4" height="1" fill="#2f7f9e"/>
<rect x="892.8" y="652.1" width="6.4" height="16.2" fill="#2b7b9c"/>
<rect x="893.8" y="653.1" width="4.4" height="14.2" fill="#56a4d2"/>
<rect x="901.2" y="646.7" width="6.4" height="21.6" fill="#2b7b9c"/>
<rect x="902.2" y="647.7" width="4.4" height="19.6" fill="#56a4d2"/>
<rect x="909.6" y="651.2" width="6.4" height="17.1" fill="#2b7b9c"/>
<rect x="910.6" y="652.2" width="4.4" height="15.1" fill="#56a4d2"/>
<rect x="918" y="660.1" width="6.4" height="8.2" fill="#2b7b9c"/>
<rect x="919" y="661.1" width="4.4" height="6.2" fill="#56a4d2"/>
<rect x="926.4" y="664" width="6.4" height="4.3" fill="#2b7b9c"/>
<rect x="927.4" y="665" width="4.4" height="2.3" fill="#56a4d2"/>
<rect x="934.9" y="666.5" width="6.4" height="1.8" fill="#2b7b9c"/>
<rect x="943.3" y="664.5" width="6.4" height="3.8" fill="#2b7b9c"/>
<rect x="944.3" y="665.5" width="4.4" height="1.8" fill="#56a4d2"/>
<rect x="951.7" y="667" width="6.4" height="1.3" fill="#2b7b9c"/>
<rect x="960.1" y="660.6" width="6.4" height="7.7" fill="#2b7b9c"/>
<rect x="961.1" y="661.6" width="4.4" height="5.7" fill="#56a4d2"/>
<rect x="968.5" y="657.6" width="6.4" height="10.7" fill="#2b7b9c"/>
<rect x="969.5" y="658.6" width="4.4" height="8.7" fill="#56a4d2"/>
<rect x="977" y="637.3" width="6.4" height="31" fill="#2b7b9c"/>
<rect x="978" y="638.3" width="4.4" height="29" fill="#56a4d2"/>
<rect x="985.4" y="623.9" width="6.4" height="44.4" fill="#2b7b9c"/>
<rect x="986.4" y="624.9" width="4.4" height="42.4" fill="#56a4d2"/>
<rect x="993.8" y="634.8" width="6.4" height="33.5" fill="#2b7b9c"/>
<rect x="994.8" y="635.8" width="4.4" height="31.5" fill="#56a4d2"/>
<rect x="1002.2" y="649.7" width="6.4" height="18.6" fill="#2b7b9c"/>
<rect x="1003.2" y="650.7" width="4.4" height="16.6" fill="#56a4d2"/>
<rect x="1010.6" y="662.5" width="6.4" height="5.8" fill="#2b7b9c"/>
<rect x="1011.6" y="663.5" width="4.4" height="3.8" fill="#56a4d2"/>
<rect x="1019" y="668.3" width="6.4" height="2.7" fill="#2b7b9c"/>
<rect x="1020" y="669.3" width="4.4" height="0.7" fill="#56a4d2"/>
<rect x="1027.5" y="668.3" width="6.4" height="9.1" fill="#2b7b9c"/>
<rect x="1028.5" y="669.3" width="4.4" height="7.1" fill="#56a4d2"/>
<rect x="1035.9" y="668.3" width="6.4" height="11.5" fill="#2b7b9c"/>
<rect x="1036.9" y="669.3" width="4.4" height="9.5" fill="#56a4d2"/>
<rect x="1044.3" y="668.3" width="6.4" height="17" fill="#2b7b9c"/>
<rect x="1045.3" y="669.3" width="4.4" height="15" fill="#56a4d2"/>
<rect x="1052.7" y="661.5" width="6.4" height="6.8" fill="#2b7b9c"/>
<rect x="1053.7" y="662.5" width="4.4" height="4.8" fill="#56a4d2"/>
<rect x="1061.1" y="660.6" width="6.4" height="7.7" fill="#2b7b9c"/>
<rect x="1062.1" y="661.6" width="4.4" height="5.7" fill="#56a4d2"/>
<rect x="1069.5" y="666" width="6.4" height="2.3" fill="#2b7b9c"/>
<rect x="1070.5" y="667" width="4.4" height="0.3" fill="#56a4d2"/>
<rect x="1078" y="660.1" width="6.4" height="8.2" fill="#2b7b9c"/>
<rect x="1079" y="661.1" width="4.4" height="6.2" fill="#56a4d2"/>
<rect x="1086.4" y="658.1" width="6.4" height="10.2" fill="#2b7b9c"/>
<rect x="1087.4" y="659.1" width="4.4" height="8.2" fill="#56a4d2"/>
<rect x="1094.8" y="647.8" width="6.4" height="20.5" fill="#2b7b9c"/>
<rect x="1095.8" y="648.8" width="4.4" height="18.5" fill="#56a4d2"/>
<rect x="1103.2" y="655.1" width="6.4" height="13.2" fill="#2b7b9c"/>
<rect x="1104.2" y="656.1" width="4.4" height="11.2" fill="#56a4d2"/>
<rect x="1111.6" y="648.1" width="6.4" height="20.2" fill="#2b7b9c"/>
<rect x="1112.6" y="649.1" width="4.4" height="18.2" fill="#56a4d2"/>
<polyline fill="none" stroke="#ff1a1a" stroke-width="1.1" points="17,712 20.2,712.9 28.6,717 37,721.8 45.5,726.1 53.9,727.3 62.3,729.5 70.7,731.6 79.1,733.3 87.5,733.5 96,733.5 104.4,732.1 112.8,729 121.2,724.9 129.6,719.9 138.1,714.6 146.5,709.8 154.9,706.7 163.3,703.8 171.7,701.4 180.1,699.5 188.6,695.6 197,688.9 205.4,685.6 213.8,685.6 222.2,688.2 230.6,691.3 239.1,695.4 247.5,699.5 255.9,703.3 264.3,706.2 272.7,707.6 281.2,708.6 289.6,710.5 298,711.7 306.4,712.4 314.8,712.7 323.2,713.4 331.7,711.5 340.1,709.8 348.5,708.6 356.9,707.4 365.3,706.4 373.8,705.5 382.2,701.9 390.6,697.3 399,691.8 407.4,683.9 415.8,676.9 424.3,671.9 432.7,669.7 441.1,668.8 449.5,669.7 457.9,671.9 466.4,674.3 474.8,676.2 483.2,677.4 491.6,675.7 500,673.8 508.4,672.6 516.9,672.4 525.3,671.4 533.7,669.2 542.1,666.6 550.5,666.4 559,667.8 567.4,669.7 575.8,672.1 584.2,675 592.6,677.9 601,679.8 609.5,680.5 617.9,679.3 626.3,679.3 634.7,679.8 643.1,679.8 651.5,680.8 660,681.5 668.4,678.6 676.8,673.3 685.2,669.5 693.6,667.3 702.1,665.9 710.5,664.9 718.9,664.2 727.3,662.3 735.7,660.6 744.1,659.6 752.6,659.4 761,658.4 769.4,659.2 777.8,660.1 786.2,661.8 794.7,664.2 803.1,667.8 811.5,672.6 819.9,678.1 828.3,683.9 836.7,688.2 845.2,692.3 853.6,696.1 862,698.8 870.4,700.2 878.8,700.7 887.3,700.2 895.7,696.6 904.1,691.1 912.5,686.5 920.9,684.6 929.3,683.4 937.8,682.2 946.2,681.2 954.6,681.2 963,679.3 971.4,676.2 979.9,668.3 988.3,657 996.7,648.1 1005.1,645 1013.5,643.1 1021.9,644.3 1030.4,646.7 1038.8,650 1047.2,653.4 1055.6,651.7 1064,649.8 1072.5,648.6 1080.9,646.7 1089.3,644.5 1097.7,639.5 1106.1,635.4 1114.5,629.6"/>
<polyline fill="none" stroke="#111" stroke-width="1.85" stroke-linejoin="round" points="17,723.2 20.2,724.9 28.6,732.5 37,741.7 45.5,742.6 53.9,733.4 62.3,737.1 70.7,738.6 79.1,740.9 87.5,735.1 96,735.1 104.4,727.8 112.8,717.8 121.2,707.2 129.6,699.3 138.1,690 146.5,689.6 154.9,694 163.3,693.6 171.7,693.2 180.1,689.3 188.6,682.4 197,660.3 205.4,673.8 213.8,686.3 222.2,698.6 230.6,706.3 239.1,712.4 247.5,715.9 255.9,720.3 264.3,717.1 272.7,710.1 281.2,713.7 289.6,720.1 298,716.8 306.4,716.5 314.8,712.3 323.2,715.1 331.7,705.7 340.1,703 348.5,703.2 356.9,703.6 365.3,704.1 373.8,699.2 382.2,686.7 390.6,680.7 399,668.6 407.4,652.9 415.8,648.4 424.3,651.7 432.7,659 441.1,668.4 449.5,675.4 457.9,682.9 466.4,683.9 474.8,681.8 483.2,681.6 491.6,669.4 500,665 508.4,667.2 516.9,672.6 525.3,668.1 533.7,660.4 542.1,657.8 550.5,665.6 559,672 567.4,676.4 575.8,681.3 584.2,687 592.6,690.9 601,688.3 609.5,685.6 617.9,676.5 626.3,677.1 634.7,681.5 643.1,680.4 651.5,684.9 660,687.1 668.4,668.4 676.8,652.8 685.2,652.4 693.6,658.1 702.1,659.1 710.5,662.1 718.9,663.4 727.3,652.5 735.7,653.8 744.1,656.8 752.6,660.6 761,653.7 769.4,661.3 777.8,664.3 786.2,670.9 794.7,675.7 803.1,681.8 811.5,690.1 819.9,697.1 828.3,704.4 836.7,704.8 845.2,708.8 853.6,710.6 862,713.8 870.4,709.3 878.8,705.3 887.3,699.8 895.7,680.4 904.1,669.5 912.5,669.4 920.9,676.4 929.3,679.1 937.8,680.4 946.2,677.4 954.6,679.9 963,671.6 971.4,665.5 979.9,637.3 988.3,612.6 996.7,614.6 1005.1,626.4 1013.5,637.3 1021.9,647 1030.4,655.8 1038.8,661.6 1047.2,670.4 1055.6,644.9 1064,642.1 1072.5,646.3 1080.9,638.5 1089.3,634.3 1097.7,618.9 1106.1,622.2 1114.5,609.4"/>
<line x1="853.7" y1="716.5" x2="1173" y2="641.4" stroke="#0a0aee" stroke-width="2.6"/>
<rect x="17.3" y="845.3" width="6.4" height="24.2" fill="#2b7b9c"/>
<rect x="18.3" y="846.3" width="4.4" height="22.2" fill="#56a4d2"/>
<rect x="25.7" y="845.3" width="6.4" height="31.4" fill="#2b7b9c"/>
<rect x="26.7" y="846.3" width="4.4" height="29.4" fill="#56a4d2"/>
<rect x="34.1" y="845.3" width="6.4" height="40.3" fill="#2b7b9c"/>
<rect x="35.1" y="846.3" width="4.4" height="38.3" fill="#56a4d2"/>
<rect x="42.6" y="845.3" width="6.4" height="33.4" fill="#2b7b9c"/>
<rect x="43.6" y="846.3" width="4.4" height="31.4" fill="#56a4d2"/>
<rect x="51" y="845.3" width="6.4" height="12.2" fill="#2b7b9c"/>
<rect x="52" y="846.3" width="4.4" height="10.2" fill="#56a4d2"/>
<rect x="59.4" y="845.3" width="6.4" height="15.4" fill="#2b7b9c"/>
<rect x="60.4" y="846.3" width="4.4" height="13.4" fill="#56a4d2"/>
<rect x="67.8" y="845.3" width="6.4" height="14.2" fill="#2b7b9c"/>
<rect x="68.8" y="846.3" width="4.4" height="12.2" fill="#56a4d2"/>
<rect x="76.2" y="845.3" width="6.4" height="15.4" fill="#2b7b9c"/>
<rect x="77.2" y="846.3" width="4.4" height="13.4" fill="#56a4d2"/>
<rect x="84.6" y="845.3" width="6.4" height="3.1" fill="#2b7b9c"/>
<rect x="85.6" y="846.3" width="4.4" height="1.1" fill="#56a4d2"/>
<rect x="93.1" y="845.3" width="6.4" height="3.1" fill="#2b7b9c"/>
<rect x="94.1" y="846.3" width="4.4" height="1.1" fill="#56a4d2"/>
<rect x="101.5" y="836.7" width="6.4" height="8.6" fill="#2b7b9c"/>
<rect x="102.5" y="837.7" width="4.4" height="6.6" fill="#56a4d2"/>
<rect x="109.9" y="822.7" width="6.4" height="22.6" fill="#2b7b9c"/>
<rect x="110.9" y="823.7" width="4.4" height="20.6" fill="#56a4d2"/>
<rect x="118.3" y="809.5" width="6.4" height="35.8" fill="#2b7b9c"/>
<rect x="119.3" y="810.5" width="4.4" height="33.8" fill="#56a4d2"/>
<rect x="126.7" y="803.8" width="6.4" height="41.5" fill="#2b7b9c"/>
<rect x="127.7" y="804.8" width="4.4" height="39.5" fill="#56a4d2"/>
<rect x="135.2" y="795.6" width="6.4" height="49.7" fill="#2b7b9c"/>
<rect x="136.2" y="796.6" width="4.4" height="47.7" fill="#56a4d2"/>
<rect x="143.6" y="804.5" width="6.4" height="40.8" fill="#2b7b9c"/>
<rect x="144.6" y="805.5" width="4.4" height="38.8" fill="#56a4d2"/>
<rect x="152" y="819.6" width="6.4" height="25.7" fill="#2b7b9c"/>
<rect x="153" y="820.6" width="4.4" height="23.7" fill="#56a4d2"/>
<rect x="160.4" y="824.7" width="6.4" height="20.6" fill="#2b7b9c"/>
<rect x="161.4" y="825.7" width="4.4" height="18.6" fill="#56a4d2"/>
<rect x="168.8" y="828.7" width="6.4" height="16.6" fill="#2b7b9c"/>
<rect x="169.8" y="829.7" width="4.4" height="14.6" fill="#56a4d2"/>
<rect x="177.2" y="824.7" width="6.4" height="20.6" fill="#2b7b9c"/>
<rect x="178.2" y="825.7" width="4.4" height="18.6" fill="#56a4d2"/>
<rect x="185.7" y="818.7" width="6.4" height="26.6" fill="#2b7b9c"/>
<rect x="186.7" y="819.7" width="4.4" height="24.6" fill="#56a4d2"/>
<rect x="194.1" y="787.5" width="6.4" height="57.8" fill="#2b7b9c"/>
<rect x="195.1" y="788.5" width="4.4" height="55.8" fill="#56a4d2"/>
<rect x="202.5" y="821.5" width="6.4" height="23.8" fill="#2b7b9c"/>
<rect x="203.5" y="822.5" width="4.4" height="21.8" fill="#56a4d2"/>
<rect x="210.9" y="845.3" width="6.4" height="1.4" fill="#2b7b9c"/>
<rect x="219.3" y="845.3" width="6.4" height="21.1" fill="#2b7b9c"/>
<rect x="220.3" y="846.3" width="4.4" height="19.1" fill="#56a4d2"/>
<rect x="227.8" y="845.3" width="6.4" height="30.2" fill="#2b7b9c"/>
<rect x="228.8" y="846.3" width="4.4" height="28.2" fill="#56a4d2"/>
<rect x="236.2" y="845.3" width="6.4" height="34.3" fill="#2b7b9c"/>
<rect x="237.2" y="846.3" width="4.4" height="32.3" fill="#56a4d2"/>
<rect x="244.6" y="845.3" width="6.4" height="33.1" fill="#2b7b9c"/>
<rect x="245.6" y="846.3" width="4.4" height="31.1" fill="#56a4d2"/>
<rect x="253" y="845.3" width="6.4" height="34.3" fill="#2b7b9c"/>
<rect x="254" y="846.3" width="4.4" height="32.3" fill="#56a4d2"/>
<rect x="261.4" y="845.3" width="6.4" height="22.1" fill="#2b7b9c"/>
<rect x="262.4" y="846.3" width="4.4" height="20.1" fill="#56a4d2"/>
<rect x="269.8" y="845.3" width="6.4" height="5" fill="#2b7b9c"/>
<rect x="270.8" y="846.3" width="4.4" height="3" fill="#56a4d2"/>
<rect x="278.3" y="845.3" width="6.4" height="10.3" fill="#2b7b9c"/>
<rect x="279.3" y="846.3" width="4.4" height="8.3" fill="#56a4d2"/>
<rect x="286.7" y="845.3" width="6.4" height="19.4" fill="#2b7b9c"/>
<rect x="287.7" y="846.3" width="4.4" height="17.4" fill="#56a4d2"/>
<rect x="295.1" y="845.3" width="6.4" height="10.3" fill="#2b7b9c"/>
<rect x="296.1" y="846.3" width="4.4" height="8.3" fill="#56a4d2"/>
<rect x="303.5" y="845.3" width="6.4" height="8.2" fill="#2b7b9c"/>
<rect x="304.5" y="846.3" width="4.4" height="6.2" fill="#56a4d2"/>
<rect x="311.9" y="844.6" width="6.4" height="1" fill="#2f7f9e"/>
<rect x="320.3" y="845.3" width="6.4" height="3.4" fill="#2b7b9c"/>
<rect x="321.3" y="846.3" width="4.4" height="1.4" fill="#56a4d2"/>
<rect x="328.8" y="833.5" width="6.4" height="11.8" fill="#2b7b9c"/>
<rect x="329.8" y="834.5" width="4.4" height="9.8" fill="#56a4d2"/>
<rect x="337.2" y="831.6" width="6.4" height="13.7" fill="#2b7b9c"/>
<rect x="338.2" y="832.6" width="4.4" height="11.7" fill="#56a4d2"/>
<rect x="345.6" y="834.5" width="6.4" height="10.8" fill="#2b7b9c"/>
<rect x="346.6" y="835.5" width="4.4" height="8.8" fill="#56a4d2"/>
<rect x="354" y="837.6" width="6.4" height="7.7" fill="#2b7b9c"/>
<rect x="355" y="838.6" width="4.4" height="5.7" fill="#56a4d2"/>
<rect x="362.4" y="840.5" width="6.4" height="4.8" fill="#2b7b9c"/>
<rect x="363.4" y="841.5" width="4.4" height="2.8" fill="#56a4d2"/>
<rect x="370.9" y="832.6" width="6.4" height="12.7" fill="#2b7b9c"/>
<rect x="371.9" y="833.6" width="4.4" height="10.7" fill="#56a4d2"/>
<rect x="379.3" y="814.6" width="6.4" height="30.7" fill="#2b7b9c"/>
<rect x="380.3" y="815.6" width="4.4" height="28.7" fill="#56a4d2"/>
<rect x="387.7" y="811.7" width="6.4" height="33.6" fill="#2b7b9c"/>
<rect x="388.7" y="812.7" width="4.4" height="31.6" fill="#56a4d2"/>
<rect x="396.1" y="798.5" width="6.4" height="46.8" fill="#2b7b9c"/>
<rect x="397.1" y="799.5" width="4.4" height="44.8" fill="#56a4d2"/>
<rect x="404.5" y="782.7" width="6.4" height="62.6" fill="#2b7b9c"/>
<rect x="405.5" y="783.7" width="4.4" height="60.6" fill="#56a4d2"/>
<rect x="412.9" y="787.7" width="6.4" height="57.6" fill="#2b7b9c"/>
<rect x="413.9" y="788.7" width="4.4" height="55.6" fill="#56a4d2"/>
<rect x="421.4" y="804.5" width="6.4" height="40.8" fill="#2b7b9c"/>
<rect x="422.4" y="805.5" width="4.4" height="38.8" fill="#56a4d2"/>
<rect x="429.8" y="823.7" width="6.4" height="21.6" fill="#2b7b9c"/>
<rect x="430.8" y="824.7" width="4.4" height="19.6" fill="#56a4d2"/>
<rect x="438.2" y="844.6" width="6.4" height="1" fill="#2f7f9e"/>
<rect x="446.6" y="845.3" width="6.4" height="11.5" fill="#2b7b9c"/>
<rect x="447.6" y="846.3" width="4.4" height="9.5" fill="#56a4d2"/>
<rect x="455" y="845.3" width="6.4" height="22.3" fill="#2b7b9c"/>
<rect x="456" y="846.3" width="4.4" height="20.3" fill="#56a4d2"/>
<rect x="463.5" y="845.3" width="6.4" height="19.4" fill="#2b7b9c"/>
<rect x="464.5" y="846.3" width="4.4" height="17.4" fill="#56a4d2"/>
<rect x="471.9" y="845.3" width="6.4" height="11.3" fill="#2b7b9c"/>
<rect x="472.9" y="846.3" width="4.4" height="9.3" fill="#56a4d2"/>
<rect x="480.3" y="845.3" width="6.4" height="8.4" fill="#2b7b9c"/>
<rect x="481.3" y="846.3" width="4.4" height="6.4" fill="#56a4d2"/>
<rect x="488.7" y="832.6" width="6.4" height="12.7" fill="#2b7b9c"/>
<rect x="489.7" y="833.6" width="4.4" height="10.7" fill="#56a4d2"/>
<rect x="497.1" y="827.5" width="6.4" height="17.8" fill="#2b7b9c"/>
<rect x="498.1" y="828.5" width="4.4" height="15.8" fill="#56a4d2"/>
<rect x="505.5" y="834.5" width="6.4" height="10.8" fill="#2b7b9c"/>
<rect x="506.5" y="835.5" width="4.4" height="8.8" fill="#56a4d2"/>
<rect x="514" y="845.3" width="6.4" height="1" fill="#2f7f9e"/>
<rect x="522.4" y="838.6" width="6.4" height="6.7" fill="#2b7b9c"/>
<rect x="523.4" y="839.6" width="4.4" height="4.7" fill="#56a4d2"/>
<rect x="530.8" y="827.5" width="6.4" height="17.8" fill="#2b7b9c"/>
<rect x="531.8" y="828.5" width="4.4" height="15.8" fill="#56a4d2"/>
<rect x="539.2" y="827.5" width="6.4" height="17.8" fill="#2b7b9c"/>
<rect x="540.2" y="828.5" width="4.4" height="15.8" fill="#56a4d2"/>
<rect x="547.6" y="843.9" width="6.4" height="1.4" fill="#2b7b9c"/>
<rect x="556.1" y="845.3" width="6.4" height="8.4" fill="#2b7b9c"/>
<rect x="557.1" y="846.3" width="4.4" height="6.4" fill="#56a4d2"/>
<rect x="564.5" y="845.3" width="6.4" height="13.4" fill="#2b7b9c"/>
<rect x="565.5" y="846.3" width="4.4" height="11.4" fill="#56a4d2"/>
<rect x="572.9" y="845.3" width="6.4" height="18.5" fill="#2b7b9c"/>
<rect x="573.9" y="846.3" width="4.4" height="16.5" fill="#56a4d2"/>
<rect x="581.3" y="845.3" width="6.4" height="24.2" fill="#2b7b9c"/>
<rect x="582.3" y="846.3" width="4.4" height="22.2" fill="#56a4d2"/>
<rect x="589.7" y="845.3" width="6.4" height="26.4" fill="#2b7b9c"/>
<rect x="590.7" y="846.3" width="4.4" height="24.4" fill="#56a4d2"/>
<rect x="598.1" y="845.3" width="6.4" height="17.3" fill="#2b7b9c"/>
<rect x="599.1" y="846.3" width="4.4" height="15.3" fill="#56a4d2"/>
<rect x="606.6" y="845.3" width="6.4" height="10.3" fill="#2b7b9c"/>
<rect x="607.6" y="846.3" width="4.4" height="8.3" fill="#56a4d2"/>
<rect x="615" y="839.5" width="6.4" height="5.8" fill="#2b7b9c"/>
<rect x="616" y="840.5" width="4.4" height="3.8" fill="#56a4d2"/>
<rect x="623.4" y="840.7" width="6.4" height="4.6" fill="#2b7b9c"/>
<rect x="624.4" y="841.7" width="4.4" height="2.6" fill="#56a4d2"/>
<rect x="631.8" y="845.3" width="6.4" height="3.4" fill="#2b7b9c"/>
<rect x="632.8" y="846.3" width="4.4" height="1.4" fill="#56a4d2"/>
<rect x="640.2" y="845.3" width="6.4" height="1" fill="#2f7f9e"/>
<rect x="648.6" y="845.3" width="6.4" height="8.4" fill="#2b7b9c"/>
<rect x="649.6" y="846.3" width="4.4" height="6.4" fill="#56a4d2"/>
<rect x="657.1" y="845.3" width="6.4" height="11.3" fill="#2b7b9c"/>
<rect x="658.1" y="846.3" width="4.4" height="9.3" fill="#56a4d2"/>
<rect x="665.5" y="824.7" width="6.4" height="20.6" fill="#2b7b9c"/>
<rect x="666.5" y="825.7" width="4.4" height="18.6" fill="#56a4d2"/>
<rect x="673.9" y="803.8" width="6.4" height="41.5" fill="#2b7b9c"/>
<rect x="674.9" y="804.8" width="4.4" height="39.5" fill="#56a4d2"/>
<rect x="682.3" y="810.7" width="6.4" height="34.6" fill="#2b7b9c"/>
<rect x="683.3" y="811.7" width="4.4" height="32.6" fill="#56a4d2"/>
<rect x="690.7" y="826.6" width="6.4" height="18.7" fill="#2b7b9c"/>
<rect x="691.7" y="827.6" width="4.4" height="16.7" fill="#56a4d2"/>
<rect x="699.2" y="831.6" width="6.4" height="13.7" fill="#2b7b9c"/>
<rect x="700.2" y="832.6" width="4.4" height="11.7" fill="#56a4d2"/>
<rect x="707.6" y="839.5" width="6.4" height="5.8" fill="#2b7b9c"/>
<rect x="708.6" y="840.5" width="4.4" height="3.8" fill="#56a4d2"/>
<rect x="716" y="843.6" width="6.4" height="1.7" fill="#2b7b9c"/>
<rect x="724.4" y="825.6" width="6.4" height="19.7" fill="#2b7b9c"/>
<rect x="725.4" y="826.6" width="4.4" height="17.7" fill="#56a4d2"/>
<rect x="732.8" y="831.6" width="6.4" height="13.7" fill="#2b7b9c"/>
<rect x="733.8" y="832.6" width="4.4" height="11.7" fill="#56a4d2"/>
<rect x="741.2" y="839.5" width="6.4" height="5.8" fill="#2b7b9c"/>
<rect x="742.2" y="840.5" width="4.4" height="3.8" fill="#56a4d2"/>
<rect x="749.7" y="845.3" width="6.4" height="2.4" fill="#2b7b9c"/>
<rect x="750.7" y="846.3" width="4.4" height="0.4" fill="#56a4d2"/>
<rect x="758.1" y="835.7" width="6.4" height="9.6" fill="#2b7b9c"/>
<rect x="759.1" y="836.7" width="4.4" height="7.6" fill="#56a4d2"/>
<rect x="766.5" y="845.3" width="6.4" height="4.3" fill="#2b7b9c"/>
<rect x="767.5" y="846.3" width="4.4" height="2.3" fill="#56a4d2"/>
<rect x="774.9" y="845.3" width="6.4" height="8.4" fill="#2b7b9c"/>
<rect x="775.9" y="846.3" width="4.4" height="6.4" fill="#56a4d2"/>
<rect x="783.3" y="845.3" width="6.4" height="18.5" fill="#2b7b9c"/>
<rect x="784.3" y="846.3" width="4.4" height="16.5" fill="#56a4d2"/>
<rect x="791.8" y="845.3" width="6.4" height="23.3" fill="#2b7b9c"/>
<rect x="792.8" y="846.3" width="4.4" height="21.3" fill="#56a4d2"/>
<rect x="800.2" y="845.3" width="6.4" height="28.3" fill="#2b7b9c"/>
<rect x="801.2" y="846.3" width="4.4" height="26.3" fill="#56a4d2"/>
<rect x="808.6" y="845.3" width="6.4" height="35.3" fill="#2b7b9c"/>
<rect x="809.6" y="846.3" width="4.4" height="33.3" fill="#56a4d2"/>
<rect x="817" y="845.3" width="6.4" height="38.4" fill="#2b7b9c"/>
<rect x="818" y="846.3" width="4.4" height="36.4" fill="#56a4d2"/>
<rect x="825.4" y="845.3" width="6.4" height="41.5" fill="#2b7b9c"/>
<rect x="826.4" y="846.3" width="4.4" height="39.5" fill="#56a4d2"/>
<rect x="833.8" y="845.3" width="6.4" height="33.6" fill="#2b7b9c"/>
<rect x="834.8" y="846.3" width="4.4" height="31.6" fill="#56a4d2"/>
<rect x="842.3" y="845.3" width="6.4" height="33.4" fill="#2b7b9c"/>
<rect x="843.3" y="846.3" width="4.4" height="31.4" fill="#56a4d2"/>
<rect x="850.7" y="845.3" width="6.4" height="29.3" fill="#2b7b9c"/>
<rect x="851.7" y="846.3" width="4.4" height="27.3" fill="#56a4d2"/>
<rect x="859.1" y="845.3" width="6.4" height="30.5" fill="#2b7b9c"/>
<rect x="860.1" y="846.3" width="4.4" height="28.5" fill="#56a4d2"/>
<rect x="867.5" y="845.3" width="6.4" height="18.5" fill="#2b7b9c"/>
<rect x="868.5" y="846.3" width="4.4" height="16.5" fill="#56a4d2"/>
<rect x="875.9" y="845.3" width="6.4" height="9.4" fill="#2b7b9c"/>
<rect x="876.9" y="846.3" width="4.4" height="7.4" fill="#56a4d2"/>
<rect x="884.4" y="844.6" width="6.4" height="1" fill="#2f7f9e"/>
<rect x="892.8" y="812.7" width="6.4" height="32.6" fill="#2b7b9c"/>
<rect x="893.8" y="813.7" width="4.4" height="30.6" fill="#56a4d2"/>
<rect x="901.2" y="801.6" width="6.4" height="43.7" fill="#2b7b9c"/>
<rect x="902.2" y="802.6" width="4.4" height="41.7" fill="#56a4d2"/>
<rect x="909.6" y="810.7" width="6.4" height="34.6" fill="#2b7b9c"/>
<rect x="910.6" y="811.7" width="4.4" height="32.6" fill="#56a4d2"/>
<rect x="918" y="828.7" width="6.4" height="16.6" fill="#2b7b9c"/>
<rect x="919" y="829.7" width="4.4" height="14.6" fill="#56a4d2"/>
<rect x="926.4" y="836.7" width="6.4" height="8.6" fill="#2b7b9c"/>
<rect x="927.4" y="837.7" width="4.4" height="6.6" fill="#56a4d2"/>
<rect x="934.9" y="841.7" width="6.4" height="3.6" fill="#2b7b9c"/>
<rect x="935.9" y="842.7" width="4.4" height="1.6" fill="#56a4d2"/>
<rect x="943.3" y="837.6" width="6.4" height="7.7" fill="#2b7b9c"/>
<rect x="944.3" y="838.6" width="4.4" height="5.7" fill="#56a4d2"/>
<rect x="951.7" y="842.7" width="6.4" height="2.6" fill="#2b7b9c"/>
<rect x="952.7" y="843.7" width="4.4" height="0.6" fill="#56a4d2"/>
<rect x="960.1" y="829.7" width="6.4" height="15.6" fill="#2b7b9c"/>
<rect x="961.1" y="830.7" width="4.4" height="13.6" fill="#56a4d2"/>
<rect x="968.5" y="823.7" width="6.4" height="21.6" fill="#2b7b9c"/>
<rect x="969.5" y="824.7" width="4.4" height="19.6" fill="#56a4d2"/>
<rect x="977" y="782.7" width="6.4" height="62.6" fill="#2b7b9c"/>
<rect x="978" y="783.7" width="4.4" height="60.6" fill="#56a4d2"/>
<rect x="985.4" y="755.6" width="6.4" height="89.7" fill="#2b7b9c"/>
<rect x="986.4" y="756.6" width="4.4" height="87.7" fill="#56a4d2"/>
<rect x="993.8" y="777.6" width="6.4" height="67.7" fill="#2b7b9c"/>
<rect x="994.8" y="778.6" width="4.4" height="65.7" fill="#56a4d2"/>
<rect x="1002.2" y="807.6" width="6.4" height="37.7" fill="#2b7b9c"/>
<rect x="1003.2" y="808.6" width="4.4" height="35.7" fill="#56a4d2"/>
<rect x="1010.6" y="833.5" width="6.4" height="11.8" fill="#2b7b9c"/>
<rect x="1011.6" y="834.5" width="4.4" height="9.8" fill="#56a4d2"/>
<rect x="1019" y="845.3" width="6.4" height="5.5" fill="#2b7b9c"/>
<rect x="1020" y="846.3" width="4.4" height="3.5" fill="#56a4d2"/>
<rect x="1027.5" y="845.3" width="6.4" height="18.5" fill="#2b7b9c"/>
<rect x="1028.5" y="846.3" width="4.4" height="16.5" fill="#56a4d2"/>
<rect x="1035.9" y="845.3" width="6.4" height="23.3" fill="#2b7b9c"/>
<rect x="1036.9" y="846.3" width="4.4" height="21.3" fill="#56a4d2"/>
<rect x="1044.3" y="845.3" width="6.4" height="34.3" fill="#2b7b9c"/>
<rect x="1045.3" y="846.3" width="4.4" height="32.3" fill="#56a4d2"/>
<rect x="1052.7" y="831.6" width="6.4" height="13.7" fill="#2b7b9c"/>
<rect x="1053.7" y="832.6" width="4.4" height="11.7" fill="#56a4d2"/>
<rect x="1061.1" y="829.7" width="6.4" height="15.6" fill="#2b7b9c"/>
<rect x="1062.1" y="830.7" width="4.4" height="13.6" fill="#56a4d2"/>
<rect x="1069.5" y="840.7" width="6.4" height="4.6" fill="#2b7b9c"/>
<rect x="1070.5" y="841.7" width="4.4" height="2.6" fill="#56a4d2"/>
<rect x="1078" y="828.7" width="6.4" height="16.6" fill="#2b7b9c"/>
<rect x="1079" y="829.7" width="4.4" height="14.6" fill="#56a4d2"/>
<rect x="1086.4" y="824.7" width="6.4" height="20.6" fill="#2b7b9c"/>
<rect x="1087.4" y="825.7" width="4.4" height="18.6" fill="#56a4d2"/>
<rect x="1094.8" y="803.8" width="6.4" height="41.5" fill="#2b7b9c"/>
<rect x="1095.8" y="804.8" width="4.4" height="39.5" fill="#56a4d2"/>
<rect x="1103.2" y="818.7" width="6.4" height="26.6" fill="#2b7b9c"/>
<rect x="1104.2" y="819.7" width="4.4" height="24.6" fill="#56a4d2"/>
<rect x="1111.6" y="804.5" width="6.4" height="40.8" fill="#2b7b9c"/>
<rect x="1112.6" y="805.5" width="4.4" height="38.8" fill="#56a4d2"/>
<line x1="1047.5" y1="886" x2="1097.4" y2="857.2" stroke="#0a0aee" stroke-width="2.4"/>
<line x1="16" x2="1207" y1="927.5" y2="927.5" stroke="#6a6a6a" stroke-width="1.2"/>
<line x1="16" x2="1207" y1="1005.5" y2="1005.5" stroke="#6a6a6a" stroke-width="1.2"/>
<line x1="20" x2="1207" y1="966.5" y2="966.5" stroke="#555" stroke-width="1" stroke-dasharray="6.6,2,2.2,1.8"/>
<polyline fill="none" stroke="#ff1a1a" stroke-width="1.1" points="17,1018.6 20.2,1019.5 28.6,1023.3 37,1026.3 45.5,1027.1 53.9,1022.7 62.3,1016 70.7,1011.5 79.1,1013.9 87.5,1013.9 96,1013.2 104.4,1005.4 112.8,998.1 121.2,984.8 129.6,970.8 138.1,954.8 146.5,946.6 154.9,948.8 163.3,962.4 171.7,976 180.1,980 188.6,973.2 197,956.8 205.4,952.7 213.8,962.8 222.2,993.9 230.6,1016.3 239.1,1027.9 247.5,1026.2 255.9,1025.2 264.3,1023.2 272.7,1018.5 281.2,1012.8 289.6,1011.5 298,1014.8 306.4,1017.6 314.8,1014.2 323.2,1010.4 331.7,1003.4 340.1,998.8 348.5,992 356.9,993.6 365.3,998.3 373.8,1002.3 382.2,996.9 390.6,983.2 399,964.4 407.4,949.8 415.8,942.3 424.3,949.2 432.7,965.9 441.1,988 449.5,1006 457.9,1018.3 466.4,1022.8 474.8,1021.2 483.2,1013.8 491.6,1002.7 500,992 508.4,984.6 516.9,987.5 525.3,993.5 533.7,992.4 542.1,982.2 550.5,974.4 559,982.2 567.4,997.8 575.8,1010.2 584.2,1015.8 592.6,1019.1 601,1021.5 609.5,1020.2 617.9,1011.5 626.3,1003.5 634.7,999.2 643.1,1003.2 651.5,1009.8 660,1014.2 668.4,1003.2 676.8,978.6 685.2,950.8 693.6,947.6 702.1,964.6 710.5,987 718.9,996.8 727.3,993.2 735.7,986.5 744.1,980.1 752.6,984.1 761,986.4 769.4,990.8 777.8,990.4 786.2,1000.4 794.7,1010.6 803.1,1020.9 811.5,1024.3 819.9,1026.3 828.3,1028.4 836.7,1027.4 845.2,1025 853.6,1019.6 862,1019.6 870.4,1018.3 878.8,1016.7 887.3,1005.9 895.7,987.5 904.1,963.3 912.5,946.8 920.9,951 929.3,970.8 937.8,991.4 946.2,997.6 954.6,995.9 963,986.5 971.4,978.9 979.9,961.2 988.3,950.2 996.7,946 1005.1,962.6 1013.5,985.4 1021.9,1005.6 1030.4,1015.8 1038.8,1018.7 1047.2,1020.7 1055.6,1016 1064,1008.8 1072.5,998.4 1080.9,996.8 1089.3,996.6 1097.7,993.7 1106.1,987.6 1114.5,976.5"/>
<polyline fill="none" stroke="#111" stroke-width="1.85" stroke-linejoin="round" points="17,1021.8 20.2,1022.6 28.6,1026.2 37,1030.3 45.5,1025 53.9,1013 62.3,1010.1 70.7,1011.3 79.1,1020.2 87.5,1010.1 96,1009.4 104.4,996.7 112.8,988.3 121.2,969.3 129.6,954.9 138.1,940.3 146.5,944.6 154.9,961.4 163.3,981.3 171.7,985.4 180.1,973.4 188.6,960.9 197,936.2 205.4,960.9 213.8,991.4 222.2,1029.3 230.6,1028.1 239.1,1026.2 247.5,1024.3 255.9,1025.2 264.3,1020.2 272.7,1010.1 281.2,1008.2 289.6,1016.1 298,1020.2 306.4,1016.6 314.8,1005.8 323.2,1008.9 331.7,995.5 340.1,992.1 348.5,988.3 356.9,1000.3 365.3,1006.3 373.8,1000.3 382.2,984.2 390.6,965 399,944.1 407.4,940.3 415.8,942.4 424.3,965 432.7,990.2 441.1,1008.9 449.5,1019 457.9,1026.9 466.4,1022.6 474.8,1014.2 483.2,1004.6 491.6,989.2 500,982.3 508.4,982.3 516.9,997.9 525.3,1000.3 533.7,978.9 542.1,967.4 550.5,977 559,1002.2 567.4,1014.2 575.8,1014.2 584.2,1019 592.6,1024.3 601,1021.4 609.5,1014.9 617.9,998.1 626.3,997.4 634.7,1002.2 643.1,1009.9 651.5,1017.3 660,1015.4 668.4,977 676.8,943.4 685.2,932.1 693.6,967.4 702.1,994.3 710.5,999.3 718.9,996.7 727.3,983.5 735.7,979.4 744.1,977.5 752.6,995.5 761,986.1 769.4,990.9 777.8,994.3 786.2,1016.1 794.7,1021.4 803.1,1025.2 811.5,1026.4 819.9,1027.4 828.3,1031.5 836.7,1023.3 845.2,1020.2 853.6,1015.4 862,1023.3 870.4,1016.1 878.8,1010.6 887.3,990.9 895.7,960.9 904.1,938.1 912.5,941.5 920.9,973.4 929.3,997.4 937.8,1003.4 946.2,992.1 954.6,992.1 963,975.3 971.4,969.3 979.9,939.1 988.3,942.2 996.7,956.6 1005.1,989 1013.5,1010.6 1021.9,1017.3 1030.4,1019.5 1038.8,1019.5 1047.2,1023.3 1055.6,1005.1 1064,998.1 1072.5,992.1 1080.9,1000.3 1089.3,997.4 1097.7,983.5 1106.1,981.8 1114.5,964.3"/>
<polyline fill="none" stroke="#1f6e3e" stroke-width="1.1" points="17,1128.3 20.2,1129 28.6,1132.1 37,1134.3 45.5,1129 53.9,1122.3 62.3,1129.5 70.7,1133.3 79.1,1135.2 87.5,1123.2 96,1128.3 104.4,1129.2 112.8,1128.3 121.2,1116.3 129.6,1121.3 138.1,1121.3 146.5,1126.4 154.9,1129.5 163.3,1124.2 171.7,1122.3 180.1,1126.4 188.6,1109.3 197,1092.3 205.4,1112.4 213.8,1115.3 222.2,1118.2 230.6,1120.6 239.1,1115.3 247.5,1116.3 255.9,1119.4 264.3,1102.6 272.7,1088.2 281.2,1098.3 289.6,1103.3 298,1091.3 306.4,1096.4 314.8,1095.4 323.2,1101.4 331.7,1084.4 340.1,1092.3 348.5,1097.3 356.9,1099.5 365.3,1103.3 373.8,1094.4 382.2,1089.4 390.6,1079.3 399,1089.4 407.4,1081.5 415.8,1091.3 424.3,1097.3 432.7,1101.4 441.1,1106.2 449.5,1110.3 457.9,1111.5 466.4,1116.3 474.8,1113.4 483.2,1102.4 491.6,1100.4 500,1106.2 508.4,1112.2 516.9,1117.5 525.3,1112.2 533.7,1091.3 542.1,1083.4 550.5,1100.4 559,1103.3 567.4,1104.3 575.8,1108.4 584.2,1111.5 592.6,1110.3 601,1114.4 609.5,1098.3 617.9,1102.4 626.3,1106.2 634.7,1112.2 643.1,1106.4 651.5,1111.5 660,1116.3 668.4,1084.1 676.8,1086.3 685.2,1081.5 693.6,1088.4 702.1,1094.2 710.5,1098.3 718.9,1088.4 727.3,1087.2 735.7,1098.3 744.1,1105 752.6,1109.3 761,1089.4 769.4,1101.4 777.8,1105.2 786.2,1105.2 794.7,1109.3 803.1,1113.9 811.5,1118.2 819.9,1120.4 828.3,1124.4 836.7,1123.2 845.2,1128.8 853.6,1133.3 862,1136.4 870.4,1126.4 878.8,1114.4 887.3,1119.4 895.7,1092.3 904.1,1100.4 912.5,1110.3 920.9,1115.1 929.3,1119.4 937.8,1115.3 946.2,1112.4 954.6,1119.4 963,1108.4 971.4,1104.3 979.9,1087 988.3,1045.2 996.7,1065.4 1005.1,1075.5 1013.5,1082.2 1021.9,1087.5 1030.4,1082.4 1038.8,1086.5 1047.2,1084.4 1055.6,1052.2 1064,1060.1 1072.5,1068.3 1080.9,1060.4 1089.3,1058.2 1097.7,1068.3 1106.1,1079.3 1114.5,1088.4"/>
<polyline fill="none" stroke="#a8284a" stroke-width="1.1" points="17,1151.6 20.2,1150.6 28.6,1146.3 37,1138.1 45.5,1142.2 53.9,1145.3 62.3,1140.3 70.7,1138.1 79.1,1139.8 87.5,1143.9 96,1146.3 104.4,1149.4 112.8,1152.3 121.2,1156.1 129.6,1154.2 138.1,1156.1 146.5,1148.2 154.9,1141.5 163.3,1143.9 171.7,1146.3 180.1,1146.3 188.6,1152.3 197,1158.3 205.4,1135.7 213.8,1133.3 222.2,1128.3 230.6,1130.2 239.1,1133.1 247.5,1137.2 255.9,1132.4 264.3,1140.3 272.7,1148.2 281.2,1143.9 289.6,1133.3 298,1140.3 306.4,1143.4 314.8,1148.2 323.2,1145.3 331.7,1153.5 340.1,1157.3 348.5,1155.4 356.9,1154.4 365.3,1153.5 373.8,1157.3 382.2,1160.2 390.6,1164.3 399,1168.1 407.4,1173.4 415.8,1176.3 424.3,1168.1 432.7,1157.3 441.1,1150.1 449.5,1148.2 457.9,1151.1 466.4,1152.3 474.8,1156.1 483.2,1159.2 491.6,1163.3 500,1166.2 508.4,1155.4 516.9,1145.3 525.3,1149.4 533.7,1154.9 542.1,1161.4 550.5,1141.5 559,1142.2 567.4,1144.1 575.8,1143.4 584.2,1138.4 592.6,1142.2 601,1144.1 609.5,1148.2 617.9,1152.5 626.3,1157.3 634.7,1147.5 643.1,1151.3 651.5,1146.3 660,1146.3 668.4,1154.2 676.8,1160.2 685.2,1166.4 693.6,1153.5 702.1,1155.4 710.5,1154.4 718.9,1159.2 727.3,1163.3 735.7,1167.4 744.1,1166.4 752.6,1160.4 761,1164.3 769.4,1163.3 777.8,1163.3 786.2,1166.4 794.7,1167.4 803.1,1159.7 811.5,1156.4 819.9,1157.3 828.3,1153.5 836.7,1156.4 845.2,1153.5 853.6,1155.4 862,1151.3 870.4,1155.4 878.8,1162.4 887.3,1165.2 895.7,1170.3 904.1,1173.4 912.5,1149.4 920.9,1147.5 929.3,1147.5 937.8,1150.6 946.2,1153.5 954.6,1148.4 963,1154.9 971.4,1160.2 979.9,1168.6 988.3,1175.3 996.7,1146.3 1005.1,1138.4 1013.5,1137.2 1021.9,1134.3 1030.4,1138.4 1038.8,1133.3 1047.2,1137.2 1055.6,1151.3 1064,1159.5 1072.5,1148.4 1080.9,1153.5 1089.3,1157.8 1097.7,1162.4 1106.1,1155.4 1114.5,1160.4"/>
<polyline fill="none" stroke="#111" stroke-width="1.85" stroke-linejoin="round" points="17,1144.9 20.2,1145.3 28.6,1147 37,1150.1 45.5,1151.1 53.9,1151.3 62.3,1152.3 70.7,1154.9 79.1,1157.1 87.5,1157.3 96,1157.1 104.4,1156.1 112.8,1154.2 121.2,1150.6 129.6,1147.5 138.1,1144.6 146.5,1144.6 154.9,1146.3 163.3,1146.3 171.7,1146.3 180.1,1146.3 188.6,1142.2 197,1135.5 205.4,1136.2 213.8,1138.1 222.2,1141.5 230.6,1144.6 239.1,1145.3 247.5,1146.5 255.9,1148.2 264.3,1146.3 272.7,1140.3 281.2,1138.1 289.6,1136.9 298,1135.2 306.4,1132.1 314.8,1129.2 323.2,1127.3 331.7,1121.8 340.1,1117 348.5,1112.9 356.9,1110 365.3,1107.4 373.8,1103.8 382.2,1099 390.6,1093 399,1087 407.4,1078.1 415.8,1070.9 424.3,1067.3 432.7,1067.3 441.1,1069 449.5,1072.1 457.9,1074.3 466.4,1076.2 474.8,1077.4 483.2,1076.4 491.6,1073.3 500,1070.4 508.4,1072.1 516.9,1076.2 525.3,1079.3 533.7,1077.4 542.1,1074.5 550.5,1076.2 559,1079.3 567.4,1081.7 575.8,1085.1 584.2,1088.7 592.6,1091.8 601,1093.5 609.5,1093.5 617.9,1092.3 626.3,1091.3 634.7,1092.3 643.1,1092.3 651.5,1094.4 660,1096.4 668.4,1093 676.8,1088.2 685.2,1082.9 693.6,1081 702.1,1079.3 710.5,1078.1 718.9,1076.2 727.3,1072.1 735.7,1068.3 744.1,1066.6 752.6,1066.4 761,1062.5 769.4,1061.3 777.8,1060.4 786.2,1058.4 794.7,1057.2 803.1,1058.2 811.5,1061.3 819.9,1064.2 828.3,1068.3 836.7,1071.4 845.2,1075.5 853.6,1079.8 862,1085.3 870.4,1087.2 878.8,1086.3 887.3,1084.1 895.7,1079.3 904.1,1073.3 912.5,1075.5 920.9,1079.1 929.3,1082.2 937.8,1084.1 946.2,1085.3 954.6,1088.2 963,1087.5 971.4,1085.3 979.9,1080.3 988.3,1070.4 996.7,1068.5 1005.1,1069.5 1013.5,1071.6 1021.9,1074.3 1030.4,1075.2 1038.8,1077.4 1047.2,1079.3 1055.6,1075 1064,1070.2 1072.5,1067.8 1080.9,1064.7 1089.3,1061.1 1097.7,1057.2 1106.1,1055.3 1114.5,1054.4"/>
<rect x="16" y="28.3" width="1191" height="1.7" fill="#9090a4"/>
<rect x="15.6" y="28.3" width="1.5" height="146.2" fill="#9090a4"/>
<rect x="1206.5" y="28" width="1" height="146.5" fill="#888894"/>
<rect x="16" y="173.8" width="1191" height="1.7" fill="#9090a4"/>
<rect x="15.6" y="173.8" width="1.5" height="414.2" fill="#9090a4"/>
<rect x="1206.5" y="173.5" width="1" height="414.5" fill="#888894"/>
<rect x="16" y="602.3" width="1191" height="1.7" fill="#9090a4"/>
<rect x="15.6" y="602.3" width="1.5" height="145.7" fill="#9090a4"/>
<rect x="1206.5" y="602" width="1" height="146" fill="#888894"/>
<rect x="16" y="747.3" width="1191" height="1.7" fill="#9090a4"/>
<rect x="15.6" y="747.3" width="1.5" height="145.99999999999994" fill="#9090a4"/>
<rect x="1206.5" y="747" width="1" height="146.29999999999995" fill="#888894"/>
<rect x="16" y="892.5999999999999" width="1191" height="1.7" fill="#9090a4"/>
<rect x="15.6" y="892.5999999999999" width="1.5" height="146.10000000000008" fill="#9090a4"/>
<rect x="1206.5" y="892.3" width="1" height="146.4000000000001" fill="#888894"/>
<rect x="16" y="1038.0" width="1191" height="1.7" fill="#9090a4"/>
<rect x="15.6" y="1038.0" width="1.5" height="145.49999999999994" fill="#9090a4"/>
<rect x="1206.5" y="1037.7" width="1" height="145.79999999999995" fill="#888894"/>
<rect x="16" y="587" width="1191" height="1.5" fill="#9090a4"/>
<rect x="16" y="1182.5" width="1191" height="1.5" fill="#9090a4"/>
<line x1="20.5" x2="20.5" y1="588.5" y2="590.5" stroke="#a2a2b0" stroke-width="1"/>
<line x1="28.5" x2="28.5" y1="588.5" y2="592.5" stroke="#a2a2b0" stroke-width="1"/>
<line x1="37.5" x2="37.5" y1="588.5" y2="590.5" stroke="#a2a2b0" stroke-width="1"/>
<line x1="45.5" x2="45.5" y1="588.5" y2="590.5" stroke="#a2a2b0" stroke-width="1"/>
<line x1="53.5" x2="53.5" y1="588.5" y2="590.5" stroke="#a2a2b0" stroke-width="1"/>
<line x1="62.5" x2="62.5" y1="588.5" y2="592.5" stroke="#a2a2b0" stroke-width="1"/>
<line x1="70.5" x2="70.5" y1="588.5" y2="590.5" stroke="#a2a2b0" stroke-width="1"/>
<line x1="79.5" x2="79.5" y1="588.5" y2="590.5" stroke="#a2a2b0" stroke-width="1"/>
<line x1="87.5" x2="87.5" y1="588.5" y2="590.5" stroke="#a2a2b0" stroke-width="1"/>
<line x1="95.5" x2="95.5" y1="588.5" y2="592.5" stroke="#a2a2b0" stroke-width="1"/>
<line x1="104.5" x2="104.5" y1="588.5" y2="590.5" stroke="#a2a2b0" stroke-width="1"/>
<line x1="112.5" x2="112.5" y1="588.5" y2="590.5" stroke="#a2a2b0" stroke-width="1"/>
<line x1="121.5" x2="121.5" y1="588.5" y2="590.5" stroke="#a2a2b0" stroke-width="1"/>
<line x1="129.5" x2="129.5" y1="588.5" y2="590.5" stroke="#a2a2b0" stroke-width="1"/>
<line x1="138.5" x2="138.5" y1="588.5" y2="592.5" stroke="#a2a2b0" stroke-width="1"/>
<line x1="146.5" x2="146.5" y1="588.5" y2="590.5" stroke="#a2a2b0" stroke-width="1"/>
<line x1="154.5" x2="154.5" y1="588.5" y2="590.5" stroke="#a2a2b0" stroke-width="1"/>
<line x1="163.5" x2="163.5" y1="588.5" y2="590.5" stroke="#a2a2b0" stroke-width="1"/>
<line x1="171.5" x2="171.5" y1="588.5" y2="592.5" stroke="#a2a2b0" stroke-width="1"/>
<line x1="180.5" x2="180.5" y1="588.5" y2="590.5" stroke="#a2a2b0" stroke-width="1"/>
<line x1="188.5" x2="188.5" y1="588.5" y2="590.5" stroke="#a2a2b0" stroke-width="1"/>
<line x1="196.5" x2="196.5" y1="588.5" y2="590.5" stroke="#a2a2b0" stroke-width="1"/>
<line x1="205.5" x2="205.5" y1="588.5" y2="590.5" stroke="#a2a2b0" stroke-width="1"/>
<line x1="213.5" x2="213.5" y1="588.5" y2="592.5" stroke="#a2a2b0" stroke-width="1"/>
<line x1="222.5" x2="222.5" y1="588.5" y2="590.5" stroke="#a2a2b0" stroke-width="1"/>
<line x1="230.5" x2="230.5" y1="588.5" y2="590.5" stroke="#a2a2b0" stroke-width="1"/>
<line x1="239.5" x2="239.5" y1="588.5" y2="590.5" stroke="#a2a2b0" stroke-width="1"/>
<line x1="247.5" x2="247.5" y1="588.5" y2="592.5" stroke="#a2a2b0" stroke-width="1"/>
<line x1="255.5" x2="255.5" y1="588.5" y2="590.5" stroke="#a2a2b0" stroke-width="1"/>
<line x1="264.5" x2="264.5" y1="588.5" y2="590.5" stroke="#a2a2b0" stroke-width="1"/>
<line x1="272.5" x2="272.5" y1="588.5" y2="590.5" stroke="#a2a2b0" stroke-width="1"/>
<line x1="281.5" x2="281.5" y1="588.5" y2="592.5" stroke="#a2a2b0" stroke-width="1"/>
<line x1="289.5" x2="289.5" y1="588.5" y2="590.5" stroke="#a2a2b0" stroke-width="1"/>
<line x1="297.5" x2="297.5" y1="588.5" y2="590.5" stroke="#a2a2b0" stroke-width="1"/>
<line x1="306.5" x2="306.5" y1="588.5" y2="590.5" stroke="#a2a2b0" stroke-width="1"/>
<line x1="314.5" x2="314.5" y1="588.5" y2="592.5" stroke="#a2a2b0" stroke-width="1"/>
<line x1="323.5" x2="323.5" y1="588.5" y2="590.5" stroke="#a2a2b0" stroke-width="1"/>
<line x1="331.5" x2="331.5" y1="588.5" y2="590.5" stroke="#a2a2b0" stroke-width="1"/>
<line x1="340.5" x2="340.5" y1="588.5" y2="590.5" stroke="#a2a2b0" stroke-width="1"/>
<line x1="348.5" x2="348.5" y1="588.5" y2="590.5" stroke="#a2a2b0" stroke-width="1"/>
<line x1="356.5" x2="356.5" y1="588.5" y2="592.5" stroke="#a2a2b0" stroke-width="1"/>
<line x1="365.5" x2="365.5" y1="588.5" y2="590.5" stroke="#a2a2b0" stroke-width="1"/>
<line x1="373.5" x2="373.5" y1="588.5" y2="590.5" stroke="#a2a2b0" stroke-width="1"/>
<line x1="382.5" x2="382.5" y1="588.5" y2="590.5" stroke="#a2a2b0" stroke-width="1"/>
<line x1="390.5" x2="390.5" y1="588.5" y2="592.5" stroke="#a2a2b0" stroke-width="1"/>
<line x1="399.5" x2="399.5" y1="588.5" y2="590.5" stroke="#a2a2b0" stroke-width="1"/>
<line x1="407.5" x2="407.5" y1="588.5" y2="590.5" stroke="#a2a2b0" stroke-width="1"/>
<line x1="415.5" x2="415.5" y1="588.5" y2="590.5" stroke="#a2a2b0" stroke-width="1"/>
<line x1="424.5" x2="424.5" y1="588.5" y2="592.5" stroke="#a2a2b0" stroke-width="1"/>
<line x1="432.5" x2="432.5" y1="588.5" y2="590.5" stroke="#a2a2b0" stroke-width="1"/>
<line x1="441.5" x2="441.5" y1="588.5" y2="590.5" stroke="#a2a2b0" stroke-width="1"/>
<line x1="449.5" x2="449.5" y1="588.5" y2="590.5" stroke="#a2a2b0" stroke-width="1"/>
<line x1="457.5" x2="457.5" y1="588.5" y2="590.5" stroke="#a2a2b0" stroke-width="1"/>
<line x1="466.5" x2="466.5" y1="588.5" y2="592.5" stroke="#a2a2b0" stroke-width="1"/>
<line x1="474.5" x2="474.5" y1="588.5" y2="590.5" stroke="#a2a2b0" stroke-width="1"/>
<line x1="483.5" x2="483.5" y1="588.5" y2="590.5" stroke="#a2a2b0" stroke-width="1"/>
<line x1="491.5" x2="491.5" y1="588.5" y2="590.5" stroke="#a2a2b0" stroke-width="1"/>
<line x1="500.5" x2="500.5" y1="588.5" y2="592.5" stroke="#a2a2b0" stroke-width="1"/>
<line x1="508.5" x2="508.5" y1="588.5" y2="590.5" stroke="#a2a2b0" stroke-width="1"/>
<line x1="516.5" x2="516.5" y1="588.5" y2="590.5" stroke="#a2a2b0" stroke-width="1"/>
<line x1="525.5" x2="525.5" y1="588.5" y2="590.5" stroke="#a2a2b0" stroke-width="1"/>
<line x1="533.5" x2="533.5" y1="588.5" y2="590.5" stroke="#a2a2b0" stroke-width="1"/>
<line x1="542.5" x2="542.5" y1="588.5" y2="592.5" stroke="#a2a2b0" stroke-width="1"/>
<line x1="550.5" x2="550.5" y1="588.5" y2="590.5" stroke="#a2a2b0" stroke-width="1"/>
<line x1="558.5" x2="558.5" y1="588.5" y2="590.5" stroke="#a2a2b0" stroke-width="1"/>
<line x1="567.5" x2="567.5" y1="588.5" y2="590.5" stroke="#a2a2b0" stroke-width="1"/>
<line x1="575.5" x2="575.5" y1="588.5" y2="592.5" stroke="#a2a2b0" stroke-width="1"/>
<line x1="584.5" x2="584.5" y1="588.5" y2="590.5" stroke="#a2a2b0" stroke-width="1"/>
<line x1="592.5" x2="592.5" y1="588.5" y2="590.5" stroke="#a2a2b0" stroke-width="1"/>
<line x1="601.5" x2="601.5" y1="588.5" y2="590.5" stroke="#a2a2b0" stroke-width="1"/>
<line x1="609.5" x2="609.5" y1="588.5" y2="592.5" stroke="#a2a2b0" stroke-width="1"/>
<line x1="617.5" x2="617.5" y1="588.5" y2="590.5" stroke="#a2a2b0" stroke-width="1"/>
<line x1="626.5" x2="626.5" y1="588.5" y2="590.5" stroke="#a2a2b0" stroke-width="1"/>
<line x1="634.5" x2="634.5" y1="588.5" y2="590.5" stroke="#a2a2b0" stroke-width="1"/>
<line x1="643.5" x2="643.5" y1="588.5" y2="590.5" stroke="#a2a2b0" stroke-width="1"/>
<line x1="651.5" x2="651.5" y1="588.5" y2="592.5" stroke="#a2a2b0" stroke-width="1"/>
<line x1="659.5" x2="659.5" y1="588.5" y2="590.5" stroke="#a2a2b0" stroke-width="1"/>
<line x1="668.5" x2="668.5" y1="588.5" y2="590.5" stroke="#a2a2b0" stroke-width="1"/>
<line x1="676.5" x2="676.5" y1="588.5" y2="590.5" stroke="#a2a2b0" stroke-width="1"/>
<line x1="685.5" x2="685.5" y1="588.5" y2="592.5" stroke="#a2a2b0" stroke-width="1"/>
<line x1="693.5" x2="693.5" y1="588.5" y2="590.5" stroke="#a2a2b0" stroke-width="1"/>
<line x1="702.5" x2="702.5" y1="588.5" y2="590.5" stroke="#a2a2b0" stroke-width="1"/>
<line x1="710.5" x2="710.5" y1="588.5" y2="590.5" stroke="#a2a2b0" stroke-width="1"/>
<line x1="718.5" x2="718.5" y1="588.5" y2="592.5" stroke="#a2a2b0" stroke-width="1"/>
<line x1="727.5" x2="727.5" y1="588.5" y2="590.5" stroke="#a2a2b0" stroke-width="1"/>
<line x1="735.5" x2="735.5" y1="588.5" y2="590.5" stroke="#a2a2b0" stroke-width="1"/>
<line x1="744.5" x2="744.5" y1="588.5" y2="590.5" stroke="#a2a2b0" stroke-width="1"/>
<line x1="752.5" x2="752.5" y1="588.5" y2="590.5" stroke="#a2a2b0" stroke-width="1"/>
<line x1="760.5" x2="760.5" y1="588.5" y2="592.5" stroke="#a2a2b0" stroke-width="1"/>
<line x1="769.5" x2="769.5" y1="588.5" y2="590.5" stroke="#a2a2b0" stroke-width="1"/>
<line x1="777.5" x2="777.5" y1="588.5" y2="590.5" stroke="#a2a2b0" stroke-width="1"/>
<line x1="786.5" x2="786.5" y1="588.5" y2="590.5" stroke="#a2a2b0" stroke-width="1"/>
<line x1="794.5" x2="794.5" y1="588.5" y2="592.5" stroke="#a2a2b0" stroke-width="1"/>
<line x1="803.5" x2="803.5" y1="588.5" y2="590.5" stroke="#a2a2b0" stroke-width="1"/>
<line x1="811.5" x2="811.5" y1="588.5" y2="590.5" stroke="#a2a2b0" stroke-width="1"/>
<line x1="819.5" x2="819.5" y1="588.5" y2="590.5" stroke="#a2a2b0" stroke-width="1"/>
<line x1="828.5" x2="828.5" y1="588.5" y2="592.5" stroke="#a2a2b0" stroke-width="1"/>
<line x1="836.5" x2="836.5" y1="588.5" y2="590.5" stroke="#a2a2b0" stroke-width="1"/>
<line x1="845.5" x2="845.5" y1="588.5" y2="590.5" stroke="#a2a2b0" stroke-width="1"/>
<line x1="853.5" x2="853.5" y1="588.5" y2="590.5" stroke="#a2a2b0" stroke-width="1"/>
<line x1="862.5" x2="862.5" y1="588.5" y2="590.5" stroke="#a2a2b0" stroke-width="1"/>
<line x1="870.5" x2="870.5" y1="588.5" y2="592.5" stroke="#a2a2b0" stroke-width="1"/>
<line x1="878.5" x2="878.5" y1="588.5" y2="590.5" stroke="#a2a2b0" stroke-width="1"/>
<line x1="887.5" x2="887.5" y1="588.5" y2="590.5" stroke="#a2a2b0" stroke-width="1"/>
<line x1="895.5" x2="895.5" y1="588.5" y2="590.5" stroke="#a2a2b0" stroke-width="1"/>
<line x1="904.5" x2="904.5" y1="588.5" y2="592.5" stroke="#a2a2b0" stroke-width="1"/>
<line x1="912.5" x2="912.5" y1="588.5" y2="590.5" stroke="#a2a2b0" stroke-width="1"/>
<line x1="920.5" x2="920.5" y1="588.5" y2="590.5" stroke="#a2a2b0" stroke-width="1"/>
<line x1="929.5" x2="929.5" y1="588.5" y2="590.5" stroke="#a2a2b0" stroke-width="1"/>
<line x1="937.5" x2="937.5" y1="588.5" y2="592.5" stroke="#a2a2b0" stroke-width="1"/>
<line x1="946.5" x2="946.5" y1="588.5" y2="590.5" stroke="#a2a2b0" stroke-width="1"/>
<line x1="954.5" x2="954.5" y1="588.5" y2="590.5" stroke="#a2a2b0" stroke-width="1"/>
<line x1="963.5" x2="963.5" y1="588.5" y2="590.5" stroke="#a2a2b0" stroke-width="1"/>
<line x1="971.5" x2="971.5" y1="588.5" y2="590.5" stroke="#a2a2b0" stroke-width="1"/>
<line x1="979.5" x2="979.5" y1="588.5" y2="592.5" stroke="#a2a2b0" stroke-width="1"/>
<line x1="988.5" x2="988.5" y1="588.5" y2="590.5" stroke="#a2a2b0" stroke-width="1"/>
<line x1="996.5" x2="996.5" y1="588.5" y2="590.5" stroke="#a2a2b0" stroke-width="1"/>
<line x1="1005.5" x2="1005.5" y1="588.5" y2="590.5" stroke="#a2a2b0" stroke-width="1"/>
<line x1="1013.5" x2="1013.5" y1="588.5" y2="592.5" stroke="#a2a2b0" stroke-width="1"/>
<line x1="1021.5" x2="1021.5" y1="588.5" y2="590.5" stroke="#a2a2b0" stroke-width="1"/>
<line x1="1030.5" x2="1030.5" y1="588.5" y2="590.5" stroke="#a2a2b0" stroke-width="1"/>
<line x1="1038.5" x2="1038.5" y1="588.5" y2="590.5" stroke="#a2a2b0" stroke-width="1"/>
<line x1="1047.5" x2="1047.5" y1="588.5" y2="592.5" stroke="#a2a2b0" stroke-width="1"/>
<line x1="1055.5" x2="1055.5" y1="588.5" y2="590.5" stroke="#a2a2b0" stroke-width="1"/>
<line x1="1064.5" x2="1064.5" y1="588.5" y2="590.5" stroke="#a2a2b0" stroke-width="1"/>
<line x1="1072.5" x2="1072.5" y1="588.5" y2="590.5" stroke="#a2a2b0" stroke-width="1"/>
<line x1="1080.5" x2="1080.5" y1="588.5" y2="590.5" stroke="#a2a2b0" stroke-width="1"/>
<line x1="1089.5" x2="1089.5" y1="588.5" y2="592.5" stroke="#a2a2b0" stroke-width="1"/>
<line x1="1097.5" x2="1097.5" y1="588.5" y2="590.5" stroke="#a2a2b0" stroke-width="1"/>
<line x1="1106.5" x2="1106.5" y1="588.5" y2="590.5" stroke="#a2a2b0" stroke-width="1"/>
<line x1="1114.5" x2="1114.5" y1="588.5" y2="590.5" stroke="#a2a2b0" stroke-width="1"/>
<line x1="1122.5" x2="1122.5" y1="588.5" y2="592.5" stroke="#a2a2b0" stroke-width="1"/>
<line x1="1131.5" x2="1131.5" y1="588.5" y2="590.5" stroke="#a2a2b0" stroke-width="1"/>
<line x1="1139.5" x2="1139.5" y1="588.5" y2="590.5" stroke="#a2a2b0" stroke-width="1"/>
<line x1="1148.5" x2="1148.5" y1="588.5" y2="590.5" stroke="#a2a2b0" stroke-width="1"/>
<line x1="1156.5" x2="1156.5" y1="588.5" y2="592.5" stroke="#a2a2b0" stroke-width="1"/>
<line x1="1165.5" x2="1165.5" y1="588.5" y2="590.5" stroke="#a2a2b0" stroke-width="1"/>
<line x1="1173.5" x2="1173.5" y1="588.5" y2="590.5" stroke="#a2a2b0" stroke-width="1"/>
<line x1="1181.5" x2="1181.5" y1="588.5" y2="590.5" stroke="#a2a2b0" stroke-width="1"/>
<line x1="1190.5" x2="1190.5" y1="588.5" y2="590.5" stroke="#a2a2b0" stroke-width="1"/>
<line x1="1198.5" x2="1198.5" y1="588.5" y2="592.5" stroke="#a2a2b0" stroke-width="1"/>
<text x="28.6" y="600.2" font-size="9.8" text-anchor="middle" letter-spacing="0.7" fill="#111">Aug</text>
<text x="62.3" y="600.2" font-size="9.8" text-anchor="middle" letter-spacing="0.7" fill="#111">Sep</text>
<text x="96" y="600.2" font-size="9.8" text-anchor="middle" letter-spacing="0.7" fill="#111">Oct</text>
<text x="138.1" y="600.2" font-size="9.8" text-anchor="middle" letter-spacing="0.7" fill="#111">Nov</text>
<text x="171.7" y="600.2" font-size="9.8" text-anchor="middle" letter-spacing="0.7" fill="#111">Dec</text>
<text x="213.8" y="600.2" font-size="10.3" text-anchor="middle" letter-spacing="0.7" fill="#111" font-weight="bold">2013</text>
<text x="247.5" y="600.2" font-size="9.8" text-anchor="middle" letter-spacing="0.7" fill="#111">Feb</text>
<text x="281.2" y="600.2" font-size="9.8" text-anchor="middle" letter-spacing="0.7" fill="#111">Mar</text>
<text x="314.8" y="600.2" font-size="9.8" text-anchor="middle" letter-spacing="0.7" fill="#111">Apr</text>
<text x="356.9" y="600.2" font-size="9.8" text-anchor="middle" letter-spacing="0.7" fill="#111">May</text>
<text x="390.6" y="600.2" font-size="9.8" text-anchor="middle" letter-spacing="0.7" fill="#111">Jun</text>
<text x="424.3" y="600.2" font-size="9.8" text-anchor="middle" letter-spacing="0.7" fill="#111">Jul</text>
<text x="466.4" y="600.2" font-size="9.8" text-anchor="middle" letter-spacing="0.7" fill="#111">Aug</text>
<text x="500" y="600.2" font-size="9.8" text-anchor="middle" letter-spacing="0.7" fill="#111">Sep</text>
<text x="542.1" y="600.2" font-size="9.8" text-anchor="middle" letter-spacing="0.7" fill="#111">Oct</text>
<text x="575.8" y="600.2" font-size="9.8" text-anchor="middle" letter-spacing="0.7" fill="#111">Nov</text>
<text x="609.5" y="600.2" font-size="9.8" text-anchor="middle" letter-spacing="0.7" fill="#111">Dec</text>
<text x="651.5" y="600.2" font-size="10.3" text-anchor="middle" letter-spacing="0.7" fill="#111" font-weight="bold">2014</text>
<text x="685.2" y="600.2" font-size="9.8" text-anchor="middle" letter-spacing="0.7" fill="#111">Feb</text>
<text x="718.9" y="600.2" font-size="9.8" text-anchor="middle" letter-spacing="0.7" fill="#111">Mar</text>
<text x="761" y="600.2" font-size="9.8" text-anchor="middle" letter-spacing="0.7" fill="#111">Apr</text>
<text x="794.7" y="600.2" font-size="9.8" text-anchor="middle" letter-spacing="0.7" fill="#111">May</text>
<text x="828.3" y="600.2" font-size="9.8" text-anchor="middle" letter-spacing="0.7" fill="#111">Jun</text>
<text x="870.4" y="600.2" font-size="9.8" text-anchor="middle" letter-spacing="0.7" fill="#111">Jul</text>
<text x="904.1" y="600.2" font-size="9.8" text-anchor="middle" letter-spacing="0.7" fill="#111">Aug</text>
<text x="937.8" y="600.2" font-size="9.8" text-anchor="middle" letter-spacing="0.7" fill="#111">Sep</text>
<text x="979.9" y="600.2" font-size="9.8" text-anchor="middle" letter-spacing="0.7" fill="#111">Oct</text>
<text x="1013.5" y="600.2" font-size="9.8" text-anchor="middle" letter-spacing="0.7" fill="#111">Nov</text>
<text x="1047.2" y="600.2" font-size="9.8" text-anchor="middle" letter-spacing="0.7" fill="#111">Dec</text>
<text x="1089.3" y="600.2" font-size="10.3" text-anchor="middle" letter-spacing="0.7" fill="#111" font-weight="bold">2015</text>
<text x="1123" y="600.2" font-size="9.8" text-anchor="middle" letter-spacing="0.7" fill="#111">Feb</text>
<text x="1156.6" y="600.2" font-size="9.8" text-anchor="middle" letter-spacing="0.7" fill="#111">Mar</text>
<text x="1206" y="600.2" font-size="9.8" text-anchor="end" letter-spacing="0.7" fill="#222">Apr</text>
<line x1="20.5" x2="20.5" y1="1184.0" y2="1186.0" stroke="#a2a2b0" stroke-width="1"/>
<line x1="28.5" x2="28.5" y1="1184.0" y2="1188.0" stroke="#a2a2b0" stroke-width="1"/>
<line x1="37.5" x2="37.5" y1="1184.0" y2="1186.0" stroke="#a2a2b0" stroke-width="1"/>
<line x1="45.5" x2="45.5" y1="1184.0" y2="1186.0" stroke="#a2a2b0" stroke-width="1"/>
<line x1="53.5" x2="53.5" y1="1184.0" y2="1186.0" stroke="#a2a2b0" stroke-width="1"/>
<line x1="62.5" x2="62.5" y1="1184.0" y2="1188.0" stroke="#a2a2b0" stroke-width="1"/>
<line x1="70.5" x2="70.5" y1="1184.0" y2="1186.0" stroke="#a2a2b0" stroke-width="1"/>
<line x1="79.5" x2="79.5" y1="1184.0" y2="1186.0" stroke="#a2a2b0" stroke-width="1"/>
<line x1="87.5" x2="87.5" y1="1184.0" y2="1186.0" stroke="#a2a2b0" stroke-width="1"/>
<line x1="95.5" x2="95.5" y1="1184.0" y2="1188.0" stroke="#a2a2b0" stroke-width="1"/>
<line x1="104.5" x2="104.5" y1="1184.0" y2="1186.0" stroke="#a2a2b0" stroke-width="1"/>
<line x1="112.5" x2="112.5" y1="1184.0" y2="1186.0" stroke="#a2a2b0" stroke-width="1"/>
<line x1="121.5" x2="121.5" y1="1184.0" y2="1186.0" stroke="#a2a2b0" stroke-width="1"/>
<line x1="129.5" x2="129.5" y1="1184.0" y2="1186.0" stroke="#a2a2b0" stroke-width="1"/>
<line x1="138.5" x2="138.5" y1="1184.0" y2="1188.0" stroke="#a2a2b0" stroke-width="1"/>
<line x1="146.5" x2="146.5" y1="1184.0" y2="1186.0" stroke="#a2a2b0" stroke-width="1"/>
<line x1="154.5" x2="154.5" y1="1184.0" y2="1186.0" stroke="#a2a2b0" stroke-width="1"/>
<line x1="163.5" x2="163.5" y1="1184.0" y2="1186.0" stroke="#a2a2b0" stroke-width="1"/>
<line x1="171.5" x2="171.5" y1="1184.0" y2="1188.0" stroke="#a2a2b0" stroke-width="1"/>
<line x1="180.5" x2="180.5" y1="1184.0" y2="1186.0" stroke="#a2a2b0" stroke-width="1"/>
<line x1="188.5" x2="188.5" y1="1184.0" y2="1186.0" stroke="#a2a2b0" stroke-width="1"/>
<line x1="196.5" x2="196.5" y1="1184.0" y2="1186.0" stroke="#a2a2b0" stroke-width="1"/>
<line x1="205.5" x2="205.5" y1="1184.0" y2="1186.0" stroke="#a2a2b0" stroke-width="1"/>
<line x1="213.5" x2="213.5" y1="1184.0" y2="1188.0" stroke="#a2a2b0" stroke-width="1"/>
<line x1="222.5" x2="222.5" y1="1184.0" y2="1186.0" stroke="#a2a2b0" stroke-width="1"/>
<line x1="230.5" x2="230.5" y1="1184.0" y2="1186.0" stroke="#a2a2b0" stroke-width="1"/>
<line x1="239.5" x2="239.5" y1="1184.0" y2="1186.0" stroke="#a2a2b0" stroke-width="1"/>
<line x1="247.5" x2="247.5" y1="1184.0" y2="1188.0" stroke="#a2a2b0" stroke-width="1"/>
<line x1="255.5" x2="255.5" y1="1184.0" y2="1186.0" stroke="#a2a2b0" stroke-width="1"/>
<line x1="264.5" x2="264.5" y1="1184.0" y2="1186.0" stroke="#a2a2b0" stroke-width="1"/>
<line x1="272.5" x2="272.5" y1="1184.0" y2="1186.0" stroke="#a2a2b0" stroke-width="1"/>
<line x1="281.5" x2="281.5" y1="1184.0" y2="1188.0" stroke="#a2a2b0" stroke-width="1"/>
<line x1="289.5" x2="289.5" y1="1184.0" y2="1186.0" stroke="#a2a2b0" stroke-width="1"/>
<line x1="297.5" x2="297.5" y1="1184.0" y2="1186.0" stroke="#a2a2b0" stroke-width="1"/>
<line x1="306.5" x2="306.5" y1="1184.0" y2="1186.0" stroke="#a2a2b0" stroke-width="1"/>
<line x1="314.5" x2="314.5" y1="1184.0" y2="1188.0" stroke="#a2a2b0" stroke-width="1"/>
<line x1="323.5" x2="323.5" y1="1184.0" y2="1186.0" stroke="#a2a2b0" stroke-width="1"/>
<line x1="331.5" x2="331.5" y1="1184.0" y2="1186.0" stroke="#a2a2b0" stroke-width="1"/>
<line x1="340.5" x2="340.5" y1="1184.0" y2="1186.0" stroke="#a2a2b0" stroke-width="1"/>
<line x1="348.5" x2="348.5" y1="1184.0" y2="1186.0" stroke="#a2a2b0" stroke-width="1"/>
<line x1="356.5" x2="356.5" y1="1184.0" y2="1188.0" stroke="#a2a2b0" stroke-width="1"/>
<line x1="365.5" x2="365.5" y1="1184.0" y2="1186.0" stroke="#a2a2b0" stroke-width="1"/>
<line x1="373.5" x2="373.5" y1="1184.0" y2="1186.0" stroke="#a2a2b0" stroke-width="1"/>
<line x1="382.5" x2="382.5" y1="1184.0" y2="1186.0" stroke="#a2a2b0" stroke-width="1"/>
<line x1="390.5" x2="390.5" y1="1184.0" y2="1188.0" stroke="#a2a2b0" stroke-width="1"/>
<line x1="399.5" x2="399.5" y1="1184.0" y2="1186.0" stroke="#a2a2b0" stroke-width="1"/>
<line x1="407.5" x2="407.5" y1="1184.0" y2="1186.0" stroke="#a2a2b0" stroke-width="1"/>
<line x1="415.5" x2="415.5" y1="1184.0" y2="1186.0" stroke="#a2a2b0" stroke-width="1"/>
<line x1="424.5" x2="424.5" y1="1184.0" y2="1188.0" stroke="#a2a2b0" stroke-width="1"/>
<line x1="432.5" x2="432.5" y1="1184.0" y2="1186.0" stroke="#a2a2b0" stroke-width="1"/>
<line x1="441.5" x2="441.5" y1="1184.0" y2="1186.0" stroke="#a2a2b0" stroke-width="1"/>
<line x1="449.5" x2="449.5" y1="1184.0" y2="1186.0" stroke="#a2a2b0" stroke-width="1"/>
<line x1="457.5" x2="457.5" y1="1184.0" y2="1186.0" stroke="#a2a2b0" stroke-width="1"/>
<line x1="466.5" x2="466.5" y1="1184.0" y2="1188.0" stroke="#a2a2b0" stroke-width="1"/>
<line x1="474.5" x2="474.5" y1="1184.0" y2="1186.0" stroke="#a2a2b0" stroke-width="1"/>
<line x1="483.5" x2="483.5" y1="1184.0" y2="1186.0" stroke="#a2a2b0" stroke-width="1"/>
<line x1="491.5" x2="491.5" y1="1184.0" y2="1186.0" stroke="#a2a2b0" stroke-width="1"/>
<line x1="500.5" x2="500.5" y1="1184.0" y2="1188.0" stroke="#a2a2b0" stroke-width="1"/>
<line x1="508.5" x2="508.5" y1="1184.0" y2="1186.0" stroke="#a2a2b0" stroke-width="1"/>
<line x1="516.5" x2="516.5" y1="1184.0" y2="1186.0" stroke="#a2a2b0" stroke-width="1"/>
<line x1="525.5" x2="525.5" y1="1184.0" y2="1186.0" stroke="#a2a2b0" stroke-width="1"/>
<line x1="533.5" x2="533.5" y1="1184.0" y2="1186.0" stroke="#a2a2b0" stroke-width="1"/>
<line x1="542.5" x2="542.5" y1="1184.0" y2="1188.0" stroke="#a2a2b0" stroke-width="1"/>
<line x1="550.5" x2="550.5" y1="1184.0" y2="1186.0" stroke="#a2a2b0" stroke-width="1"/>
<line x1="558.5" x2="558.5" y1="1184.0" y2="1186.0" stroke="#a2a2b0" stroke-width="1"/>
<line x1="567.5" x2="567.5" y1="1184.0" y2="1186.0" stroke="#a2a2b0" stroke-width="1"/>
<line x1="575.5" x2="575.5" y1="1184.0" y2="1188.0" stroke="#a2a2b0" stroke-width="1"/>
<line x1="584.5" x2="584.5" y1="1184.0" y2="1186.0" stroke="#a2a2b0" stroke-width="1"/>
<line x1="592.5" x2="592.5" y1="1184.0" y2="1186.0" stroke="#a2a2b0" stroke-width="1"/>
<line x1="601.5" x2="601.5" y1="1184.0" y2="1186.0" stroke="#a2a2b0" stroke-width="1"/>
<line x1="609.5" x2="609.5" y1="1184.0" y2="1188.0" stroke="#a2a2b0" stroke-width="1"/>
<line x1="617.5" x2="617.5" y1="1184.0" y2="1186.0" stroke="#a2a2b0" stroke-width="1"/>
<line x1="626.5" x2="626.5" y1="1184.0" y2="1186.0" stroke="#a2a2b0" stroke-width="1"/>
<line x1="634.5" x2="634.5" y1="1184.0" y2="1186.0" stroke="#a2a2b0" stroke-width="1"/>
<line x1="643.5" x2="643.5" y1="1184.0" y2="1186.0" stroke="#a2a2b0" stroke-width="1"/>
<line x1="651.5" x2="651.5" y1="1184.0" y2="1188.0" stroke="#a2a2b0" stroke-width="1"/>
<line x1="659.5" x2="659.5" y1="1184.0" y2="1186.0" stroke="#a2a2b0" stroke-width="1"/>
<line x1="668.5" x2="668.5" y1="1184.0" y2="1186.0" stroke="#a2a2b0" stroke-width="1"/>
<line x1="676.5" x2="676.5" y1="1184.0" y2="1186.0" stroke="#a2a2b0" stroke-width="1"/>
<line x1="685.5" x2="685.5" y1="1184.0" y2="1188.0" stroke="#a2a2b0" stroke-width="1"/>
<line x1="693.5" x2="693.5" y1="1184.0" y2="1186.0" stroke="#a2a2b0" stroke-width="1"/>
<line x1="702.5" x2="702.5" y1="1184.0" y2="1186.0" stroke="#a2a2b0" stroke-width="1"/>
<line x1="710.5" x2="710.5" y1="1184.0" y2="1186.0" stroke="#a2a2b0" stroke-width="1"/>
<line x1="718.5" x2="718.5" y1="1184.0" y2="1188.0" stroke="#a2a2b0" stroke-width="1"/>
<line x1="727.5" x2="727.5" y1="1184.0" y2="1186.0" stroke="#a2a2b0" stroke-width="1"/>
<line x1="735.5" x2="735.5" y1="1184.0" y2="1186.0" stroke="#a2a2b0" stroke-width="1"/>
<line x1="744.5" x2="744.5" y1="1184.0" y2="1186.0" stroke="#a2a2b0" stroke-width="1"/>
<line x1="752.5" x2="752.5" y1="1184.0" y2="1186.0" stroke="#a2a2b0" stroke-width="1"/>
<line x1="760.5" x2="760.5" y1="1184.0" y2="1188.0" stroke="#a2a2b0" stroke-width="1"/>
<line x1="769.5" x2="769.5" y1="1184.0" y2="1186.0" stroke="#a2a2b0" stroke-width="1"/>
<line x1="777.5" x2="777.5" y1="1184.0" y2="1186.0" stroke="#a2a2b0" stroke-width="1"/>
<line x1="786.5" x2="786.5" y1="1184.0" y2="1186.0" stroke="#a2a2b0" stroke-width="1"/>
<line x1="794.5" x2="794.5" y1="1184.0" y2="1188.0" stroke="#a2a2b0" stroke-width="1"/>
<line x1="803.5" x2="803.5" y1="1184.0" y2="1186.0" stroke="#a2a2b0" stroke-width="1"/>
<line x1="811.5" x2="811.5" y1="1184.0" y2="1186.0" stroke="#a2a2b0" stroke-width="1"/>
<line x1="819.5" x2="819.5" y1="1184.0" y2="1186.0" stroke="#a2a2b0" stroke-width="1"/>
<line x1="828.5" x2="828.5" y1="1184.0" y2="1188.0" stroke="#a2a2b0" stroke-width="1"/>
<line x1="836.5" x2="836.5" y1="1184.0" y2="1186.0" stroke="#a2a2b0" stroke-width="1"/>
<line x1="845.5" x2="845.5" y1="1184.0" y2="1186.0" stroke="#a2a2b0" stroke-width="1"/>
<line x1="853.5" x2="853.5" y1="1184.0" y2="1186.0" stroke="#a2a2b0" stroke-width="1"/>
<line x1="862.5" x2="862.5" y1="1184.0" y2="1186.0" stroke="#a2a2b0" stroke-width="1"/>
<line x1="870.5" x2="870.5" y1="1184.0" y2="1188.0" stroke="#a2a2b0" stroke-width="1"/>
<line x1="878.5" x2="878.5" y1="1184.0" y2="1186.0" stroke="#a2a2b0" stroke-width="1"/>
<line x1="887.5" x2="887.5" y1="1184.0" y2="1186.0" stroke="#a2a2b0" stroke-width="1"/>
<line x1="895.5" x2="895.5" y1="1184.0" y2="1186.0" stroke="#a2a2b0" stroke-width="1"/>
<line x1="904.5" x2="904.5" y1="1184.0" y2="1188.0" stroke="#a2a2b0" stroke-width="1"/>
<line x1="912.5" x2="912.5" y1="1184.0" y2="1186.0" stroke="#a2a2b0" stroke-width="1"/>
<line x1="920.5" x2="920.5" y1="1184.0" y2="1186.0" stroke="#a2a2b0" stroke-width="1"/>
<line x1="929.5" x2="929.5" y1="1184.0" y2="1186.0" stroke="#a2a2b0" stroke-width="1"/>
<line x1="937.5" x2="937.5" y1="1184.0" y2="1188.0" stroke="#a2a2b0" stroke-width="1"/>
<line x1="946.5" x2="946.5" y1="1184.0" y2="1186.0" stroke="#a2a2b0" stroke-width="1"/>
<line x1="954.5" x2="954.5" y1="1184.0" y2="1186.0" stroke="#a2a2b0" stroke-width="1"/>
<line x1="963.5" x2="963.5" y1="1184.0" y2="1186.0" stroke="#a2a2b0" stroke-width="1"/>
<line x1="971.5" x2="971.5" y1="1184.0" y2="1186.0" stroke="#a2a2b0" stroke-width="1"/>
<line x1="979.5" x2="979.5" y1="1184.0" y2="1188.0" stroke="#a2a2b0" stroke-width="1"/>
<line x1="988.5" x2="988.5" y1="1184.0" y2="1186.0" stroke="#a2a2b0" stroke-width="1"/>
<line x1="996.5" x2="996.5" y1="1184.0" y2="1186.0" stroke="#a2a2b0" stroke-width="1"/>
<line x1="1005.5" x2="1005.5" y1="1184.0" y2="1186.0" stroke="#a2a2b0" stroke-width="1"/>
<line x1="1013.5" x2="1013.5" y1="1184.0" y2="1188.0" stroke="#a2a2b0" stroke-width="1"/>
<line x1="1021.5" x2="1021.5" y1="1184.0" y2="1186.0" stroke="#a2a2b0" stroke-width="1"/>
<line x1="1030.5" x2="1030.5" y1="1184.0" y2="1186.0" stroke="#a2a2b0" stroke-width="1"/>
<line x1="1038.5" x2="1038.5" y1="1184.0" y2="1186.0" stroke="#a2a2b0" stroke-width="1"/>
<line x1="1047.5" x2="1047.5" y1="1184.0" y2="1188.0" stroke="#a2a2b0" stroke-width="1"/>
<line x1="1055.5" x2="1055.5" y1="1184.0" y2="1186.0" stroke="#a2a2b0" stroke-width="1"/>
<line x1="1064.5" x2="1064.5" y1="1184.0" y2="1186.0" stroke="#a2a2b0" stroke-width="1"/>
<line x1="1072.5" x2="1072.5" y1="1184.0" y2="1186.0" stroke="#a2a2b0" stroke-width="1"/>
<line x1="1080.5" x2="1080.5" y1="1184.0" y2="1186.0" stroke="#a2a2b0" stroke-width="1"/>
<line x1="1089.5" x2="1089.5" y1="1184.0" y2="1188.0" stroke="#a2a2b0" stroke-width="1"/>
<line x1="1097.5" x2="1097.5" y1="1184.0" y2="1186.0" stroke="#a2a2b0" stroke-width="1"/>
<line x1="1106.5" x2="1106.5" y1="1184.0" y2="1186.0" stroke="#a2a2b0" stroke-width="1"/>
<line x1="1114.5" x2="1114.5" y1="1184.0" y2="1186.0" stroke="#a2a2b0" stroke-width="1"/>
<line x1="1122.5" x2="1122.5" y1="1184.0" y2="1188.0" stroke="#a2a2b0" stroke-width="1"/>
<line x1="1131.5" x2="1131.5" y1="1184.0" y2="1186.0" stroke="#a2a2b0" stroke-width="1"/>
<line x1="1139.5" x2="1139.5" y1="1184.0" y2="1186.0" stroke="#a2a2b0" stroke-width="1"/>
<line x1="1148.5" x2="1148.5" y1="1184.0" y2="1186.0" stroke="#a2a2b0" stroke-width="1"/>
<line x1="1156.5" x2="1156.5" y1="1184.0" y2="1188.0" stroke="#a2a2b0" stroke-width="1"/>
<line x1="1165.5" x2="1165.5" y1="1184.0" y2="1186.0" stroke="#a2a2b0" stroke-width="1"/>
<line x1="1173.5" x2="1173.5" y1="1184.0" y2="1186.0" stroke="#a2a2b0" stroke-width="1"/>
<line x1="1181.5" x2="1181.5" y1="1184.0" y2="1186.0" stroke="#a2a2b0" stroke-width="1"/>
<line x1="1190.5" x2="1190.5" y1="1184.0" y2="1186.0" stroke="#a2a2b0" stroke-width="1"/>
<line x1="1198.5" x2="1198.5" y1="1184.0" y2="1188.0" stroke="#a2a2b0" stroke-width="1"/>
<text x="28.6" y="1194.6" font-size="9.8" text-anchor="middle" letter-spacing="0.7" fill="#111">Aug</text>
<text x="62.3" y="1194.6" font-size="9.8" text-anchor="middle" letter-spacing="0.7" fill="#111">Sep</text>
<text x="96" y="1194.6" font-size="9.8" text-anchor="middle" letter-spacing="0.7" fill="#111">Oct</text>
<text x="138.1" y="1194.6" font-size="9.8" text-anchor="middle" letter-spacing="0.7" fill="#111">Nov</text>
<text x="171.7" y="1194.6" font-size="9.8" text-anchor="middle" letter-spacing="0.7" fill="#111">Dec</text>
<text x="213.8" y="1194.6" font-size="10.3" text-anchor="middle" letter-spacing="0.7" fill="#111" font-weight="bold">2013</text>
<text x="247.5" y="1194.6" font-size="9.8" text-anchor="middle" letter-spacing="0.7" fill="#111">Feb</text>
<text x="281.2" y="1194.6" font-size="9.8" text-anchor="middle" letter-spacing="0.7" fill="#111">Mar</text>
<text x="314.8" y="1194.6" font-size="9.8" text-anchor="middle" letter-spacing="0.7" fill="#111">Apr</text>
<text x="356.9" y="1194.6" font-size="9.8" text-anchor="middle" letter-spacing="0.7" fill="#111">May</text>
<text x="390.6" y="1194.6" font-size="9.8" text-anchor="middle" letter-spacing="0.7" fill="#111">Jun</text>
<text x="424.3" y="1194.6" font-size="9.8" text-anchor="middle" letter-spacing="0.7" fill="#111">Jul</text>
<text x="466.4" y="1194.6" font-size="9.8" text-anchor="middle" letter-spacing="0.7" fill="#111">Aug</text>
<text x="500" y="1194.6" font-size="9.8" text-anchor="middle" letter-spacing="0.7" fill="#111">Sep</text>
<text x="542.1" y="1194.6" font-size="9.8" text-anchor="middle" letter-spacing="0.7" fill="#111">Oct</text>
<text x="575.8" y="1194.6" font-size="9.8" text-anchor="middle" letter-spacing="0.7" fill="#111">Nov</text>
<text x="609.5" y="1194.6" font-size="9.8" text-anchor="middle" letter-spacing="0.7" fill="#111">Dec</text>
<text x="651.5" y="1194.6" font-size="10.3" text-anchor="middle" letter-spacing="0.7" fill="#111" font-weight="bold">2014</text>
<text x="685.2" y="1194.6" font-size="9.8" text-anchor="middle" letter-spacing="0.7" fill="#111">Feb</text>
<text x="718.9" y="1194.6" font-size="9.8" text-anchor="middle" letter-spacing="0.7" fill="#111">Mar</text>
<text x="761" y="1194.6" font-size="9.8" text-anchor="middle" letter-spacing="0.7" fill="#111">Apr</text>
<text x="794.7" y="1194.6" font-size="9.8" text-anchor="middle" letter-spacing="0.7" fill="#111">May</text>
<text x="828.3" y="1194.6" font-size="9.8" text-anchor="middle" letter-spacing="0.7" fill="#111">Jun</text>
<text x="870.4" y="1194.6" font-size="9.8" text-anchor="middle" letter-spacing="0.7" fill="#111">Jul</text>
<text x="904.1" y="1194.6" font-size="9.8" text-anchor="middle" letter-spacing="0.7" fill="#111">Aug</text>
<text x="937.8" y="1194.6" font-size="9.8" text-anchor="middle" letter-spacing="0.7" fill="#111">Sep</text>
<text x="979.9" y="1194.6" font-size="9.8" text-anchor="middle" letter-spacing="0.7" fill="#111">Oct</text>
<text x="1013.5" y="1194.6" font-size="9.8" text-anchor="middle" letter-spacing="0.7" fill="#111">Nov</text>
<text x="1047.2" y="1194.6" font-size="9.8" text-anchor="middle" letter-spacing="0.7" fill="#111">Dec</text>
<text x="1089.3" y="1194.6" font-size="10.3" text-anchor="middle" letter-spacing="0.7" fill="#111" font-weight="bold">2015</text>
<text x="1123" y="1194.6" font-size="9.8" text-anchor="middle" letter-spacing="0.7" fill="#111">Feb</text>
<text x="1156.6" y="1194.6" font-size="9.8" text-anchor="middle" letter-spacing="0.7" fill="#111">Mar</text>
<text x="1206" y="1194.6" font-size="9.8" text-anchor="end" letter-spacing="0.7" fill="#222">Apr</text>
<line x1="20.5" x2="20.5" y1="600" y2="602" stroke="#b0b0c0" stroke-width="1"/>
<line x1="28.5" x2="28.5" y1="600" y2="602" stroke="#b0b0c0" stroke-width="1"/>
<line x1="37.5" x2="37.5" y1="600" y2="602" stroke="#b0b0c0" stroke-width="1"/>
<line x1="45.5" x2="45.5" y1="600" y2="602" stroke="#b0b0c0" stroke-width="1"/>
<line x1="53.5" x2="53.5" y1="600" y2="602" stroke="#b0b0c0" stroke-width="1"/>
<line x1="62.5" x2="62.5" y1="600" y2="602" stroke="#b0b0c0" stroke-width="1"/>
<line x1="70.5" x2="70.5" y1="600" y2="602" stroke="#b0b0c0" stroke-width="1"/>
<line x1="79.5" x2="79.5" y1="600" y2="602" stroke="#b0b0c0" stroke-width="1"/>
<line x1="87.5" x2="87.5" y1="600" y2="602" stroke="#b0b0c0" stroke-width="1"/>
<line x1="95.5" x2="95.5" y1="600" y2="602" stroke="#b0b0c0" stroke-width="1"/>
<line x1="104.5" x2="104.5" y1="600" y2="602" stroke="#b0b0c0" stroke-width="1"/>
<line x1="112.5" x2="112.5" y1="600" y2="602" stroke="#b0b0c0" stroke-width="1"/>
<line x1="121.5" x2="121.5" y1="600" y2="602" stroke="#b0b0c0" stroke-width="1"/>
<line x1="129.5" x2="129.5" y1="600" y2="602" stroke="#b0b0c0" stroke-width="1"/>
<line x1="138.5" x2="138.5" y1="600" y2="602" stroke="#b0b0c0" stroke-width="1"/>
<line x1="146.5" x2="146.5" y1="600" y2="602" stroke="#b0b0c0" stroke-width="1"/>
<line x1="154.5" x2="154.5" y1="600" y2="602" stroke="#b0b0c0" stroke-width="1"/>
<line x1="163.5" x2="163.5" y1="600" y2="602" stroke="#b0b0c0" stroke-width="1"/>
<line x1="171.5" x2="171.5" y1="600" y2="602" stroke="#b0b0c0" stroke-width="1"/>
<line x1="180.5" x2="180.5" y1="600" y2="602" stroke="#b0b0c0" stroke-width="1"/>
<line x1="188.5" x2="188.5" y1="600" y2="602" stroke="#b0b0c0" stroke-width="1"/>
<line x1="196.5" x2="196.5" y1="600" y2="602" stroke="#b0b0c0" stroke-width="1"/>
<line x1="205.5" x2="205.5" y1="600" y2="602" stroke="#b0b0c0" stroke-width="1"/>
<line x1="213.5" x2="213.5" y1="600" y2="602" stroke="#b0b0c0" stroke-width="1"/>
<line x1="222.5" x2="222.5" y1="600" y2="602" stroke="#b0b0c0" stroke-width="1"/>
<line x1="230.5" x2="230.5" y1="600" y2="602" stroke="#b0b0c0" stroke-width="1"/>
<line x1="239.5" x2="239.5" y1="600" y2="602" stroke="#b0b0c0" stroke-width="1"/>
<line x1="247.5" x2="247.5" y1="600" y2="602" stroke="#b0b0c0" stroke-width="1"/>
<line x1="255.5" x2="255.5" y1="600" y2="602" stroke="#b0b0c0" stroke-width="1"/>
<line x1="264.5" x2="264.5" y1="600" y2="602" stroke="#b0b0c0" stroke-width="1"/>
<line x1="272.5" x2="272.5" y1="600" y2="602" stroke="#b0b0c0" stroke-width="1"/>
<line x1="281.5" x2="281.5" y1="600" y2="602" stroke="#b0b0c0" stroke-width="1"/>
<line x1="289.5" x2="289.5" y1="600" y2="602" stroke="#b0b0c0" stroke-width="1"/>
<line x1="297.5" x2="297.5" y1="600" y2="602" stroke="#b0b0c0" stroke-width="1"/>
<line x1="306.5" x2="306.5" y1="600" y2="602" stroke="#b0b0c0" stroke-width="1"/>
<line x1="314.5" x2="314.5" y1="600" y2="602" stroke="#b0b0c0" stroke-width="1"/>
<line x1="323.5" x2="323.5" y1="600" y2="602" stroke="#b0b0c0" stroke-width="1"/>
<line x1="331.5" x2="331.5" y1="600" y2="602" stroke="#b0b0c0" stroke-width="1"/>
<line x1="340.5" x2="340.5" y1="600" y2="602" stroke="#b0b0c0" stroke-width="1"/>
<line x1="348.5" x2="348.5" y1="600" y2="602" stroke="#b0b0c0" stroke-width="1"/>
<line x1="356.5" x2="356.5" y1="600" y2="602" stroke="#b0b0c0" stroke-width="1"/>
<line x1="365.5" x2="365.5" y1="600" y2="602" stroke="#b0b0c0" stroke-width="1"/>
<line x1="373.5" x2="373.5" y1="600" y2="602" stroke="#b0b0c0" stroke-width="1"/>
<line x1="382.5" x2="382.5" y1="600" y2="602" stroke="#b0b0c0" stroke-width="1"/>
<line x1="390.5" x2="390.5" y1="600" y2="602" stroke="#b0b0c0" stroke-width="1"/>
<line x1="399.5" x2="399.5" y1="600" y2="602" stroke="#b0b0c0" stroke-width="1"/>
<line x1="407.5" x2="407.5" y1="600" y2="602" stroke="#b0b0c0" stroke-width="1"/>
<line x1="415.5" x2="415.5" y1="600" y2="602" stroke="#b0b0c0" stroke-width="1"/>
<line x1="424.5" x2="424.5" y1="600" y2="602" stroke="#b0b0c0" stroke-width="1"/>
<line x1="432.5" x2="432.5" y1="600" y2="602" stroke="#b0b0c0" stroke-width="1"/>
<line x1="441.5" x2="441.5" y1="600" y2="602" stroke="#b0b0c0" stroke-width="1"/>
<line x1="449.5" x2="449.5" y1="600" y2="602" stroke="#b0b0c0" stroke-width="1"/>
<line x1="457.5" x2="457.5" y1="600" y2="602" stroke="#b0b0c0" stroke-width="1"/>
<line x1="466.5" x2="466.5" y1="600" y2="602" stroke="#b0b0c0" stroke-width="1"/>
<line x1="474.5" x2="474.5" y1="600" y2="602" stroke="#b0b0c0" stroke-width="1"/>
<line x1="483.5" x2="483.5" y1="600" y2="602" stroke="#b0b0c0" stroke-width="1"/>
<line x1="491.5" x2="491.5" y1="600" y2="602" stroke="#b0b0c0" stroke-width="1"/>
<line x1="500.5" x2="500.5" y1="600" y2="602" stroke="#b0b0c0" stroke-width="1"/>
<line x1="508.5" x2="508.5" y1="600" y2="602" stroke="#b0b0c0" stroke-width="1"/>
<line x1="516.5" x2="516.5" y1="600" y2="602" stroke="#b0b0c0" stroke-width="1"/>
<line x1="525.5" x2="525.5" y1="600" y2="602" stroke="#b0b0c0" stroke-width="1"/>
<line x1="533.5" x2="533.5" y1="600" y2="602" stroke="#b0b0c0" stroke-width="1"/>
<line x1="542.5" x2="542.5" y1="600" y2="602" stroke="#b0b0c0" stroke-width="1"/>
<line x1="550.5" x2="550.5" y1="600" y2="602" stroke="#b0b0c0" stroke-width="1"/>
<line x1="558.5" x2="558.5" y1="600" y2="602" stroke="#b0b0c0" stroke-width="1"/>
<line x1="567.5" x2="567.5" y1="600" y2="602" stroke="#b0b0c0" stroke-width="1"/>
<line x1="575.5" x2="575.5" y1="600" y2="602" stroke="#b0b0c0" stroke-width="1"/>
<line x1="584.5" x2="584.5" y1="600" y2="602" stroke="#b0b0c0" stroke-width="1"/>
<line x1="592.5" x2="592.5" y1="600" y2="602" stroke="#b0b0c0" stroke-width="1"/>
<line x1="601.5" x2="601.5" y1="600" y2="602" stroke="#b0b0c0" stroke-width="1"/>
<line x1="609.5" x2="609.5" y1="600" y2="602" stroke="#b0b0c0" stroke-width="1"/>
<line x1="617.5" x2="617.5" y1="600" y2="602" stroke="#b0b0c0" stroke-width="1"/>
<line x1="626.5" x2="626.5" y1="600" y2="602" stroke="#b0b0c0" stroke-width="1"/>
<line x1="634.5" x2="634.5" y1="600" y2="602" stroke="#b0b0c0" stroke-width="1"/>
<line x1="643.5" x2="643.5" y1="600" y2="602" stroke="#b0b0c0" stroke-width="1"/>
<line x1="651.5" x2="651.5" y1="600" y2="602" stroke="#b0b0c0" stroke-width="1"/>
<line x1="659.5" x2="659.5" y1="600" y2="602" stroke="#b0b0c0" stroke-width="1"/>
<line x1="668.5" x2="668.5" y1="600" y2="602" stroke="#b0b0c0" stroke-width="1"/>
<line x1="676.5" x2="676.5" y1="600" y2="602" stroke="#b0b0c0" stroke-width="1"/>
<line x1="685.5" x2="685.5" y1="600" y2="602" stroke="#b0b0c0" stroke-width="1"/>
<line x1="693.5" x2="693.5" y1="600" y2="602" stroke="#b0b0c0" stroke-width="1"/>
<line x1="702.5" x2="702.5" y1="600" y2="602" stroke="#b0b0c0" stroke-width="1"/>
<line x1="710.5" x2="710.5" y1="600" y2="602" stroke="#b0b0c0" stroke-width="1"/>
<line x1="718.5" x2="718.5" y1="600" y2="602" stroke="#b0b0c0" stroke-width="1"/>
<line x1="727.5" x2="727.5" y1="600" y2="602" stroke="#b0b0c0" stroke-width="1"/>
<line x1="735.5" x2="735.5" y1="600" y2="602" stroke="#b0b0c0" stroke-width="1"/>
<line x1="744.5" x2="744.5" y1="600" y2="602" stroke="#b0b0c0" stroke-width="1"/>
<line x1="752.5" x2="752.5" y1="600" y2="602" stroke="#b0b0c0" stroke-width="1"/>
<line x1="760.5" x2="760.5" y1="600" y2="602" stroke="#b0b0c0" stroke-width="1"/>
<line x1="769.5" x2="769.5" y1="600" y2="602" stroke="#b0b0c0" stroke-width="1"/>
<line x1="777.5" x2="777.5" y1="600" y2="602" stroke="#b0b0c0" stroke-width="1"/>
<line x1="786.5" x2="786.5" y1="600" y2="602" stroke="#b0b0c0" stroke-width="1"/>
<line x1="794.5" x2="794.5" y1="600" y2="602" stroke="#b0b0c0" stroke-width="1"/>
<line x1="803.5" x2="803.5" y1="600" y2="602" stroke="#b0b0c0" stroke-width="1"/>
<line x1="811.5" x2="811.5" y1="600" y2="602" stroke="#b0b0c0" stroke-width="1"/>
<line x1="819.5" x2="819.5" y1="600" y2="602" stroke="#b0b0c0" stroke-width="1"/>
<line x1="828.5" x2="828.5" y1="600" y2="602" stroke="#b0b0c0" stroke-width="1"/>
<line x1="836.5" x2="836.5" y1="600" y2="602" stroke="#b0b0c0" stroke-width="1"/>
<line x1="845.5" x2="845.5" y1="600" y2="602" stroke="#b0b0c0" stroke-width="1"/>
<line x1="853.5" x2="853.5" y1="600" y2="602" stroke="#b0b0c0" stroke-width="1"/>
<line x1="862.5" x2="862.5" y1="600" y2="602" stroke="#b0b0c0" stroke-width="1"/>
<line x1="870.5" x2="870.5" y1="600" y2="602" stroke="#b0b0c0" stroke-width="1"/>
<line x1="878.5" x2="878.5" y1="600" y2="602" stroke="#b0b0c0" stroke-width="1"/>
<line x1="887.5" x2="887.5" y1="600" y2="602" stroke="#b0b0c0" stroke-width="1"/>
<line x1="895.5" x2="895.5" y1="600" y2="602" stroke="#b0b0c0" stroke-width="1"/>
<line x1="904.5" x2="904.5" y1="600" y2="602" stroke="#b0b0c0" stroke-width="1"/>
<line x1="912.5" x2="912.5" y1="600" y2="602" stroke="#b0b0c0" stroke-width="1"/>
<line x1="920.5" x2="920.5" y1="600" y2="602" stroke="#b0b0c0" stroke-width="1"/>
<line x1="929.5" x2="929.5" y1="600" y2="602" stroke="#b0b0c0" stroke-width="1"/>
<line x1="937.5" x2="937.5" y1="600" y2="602" stroke="#b0b0c0" stroke-width="1"/>
<line x1="946.5" x2="946.5" y1="600" y2="602" stroke="#b0b0c0" stroke-width="1"/>
<line x1="954.5" x2="954.5" y1="600" y2="602" stroke="#b0b0c0" stroke-width="1"/>
<line x1="963.5" x2="963.5" y1="600" y2="602" stroke="#b0b0c0" stroke-width="1"/>
<line x1="971.5" x2="971.5" y1="600" y2="602" stroke="#b0b0c0" stroke-width="1"/>
<line x1="979.5" x2="979.5" y1="600" y2="602" stroke="#b0b0c0" stroke-width="1"/>
<line x1="988.5" x2="988.5" y1="600" y2="602" stroke="#b0b0c0" stroke-width="1"/>
<line x1="996.5" x2="996.5" y1="600" y2="602" stroke="#b0b0c0" stroke-width="1"/>
<line x1="1005.5" x2="1005.5" y1="600" y2="602" stroke="#b0b0c0" stroke-width="1"/>
<line x1="1013.5" x2="1013.5" y1="600" y2="602" stroke="#b0b0c0" stroke-width="1"/>
<line x1="1021.5" x2="1021.5" y1="600" y2="602" stroke="#b0b0c0" stroke-width="1"/>
<line x1="1030.5" x2="1030.5" y1="600" y2="602" stroke="#b0b0c0" stroke-width="1"/>
<line x1="1038.5" x2="1038.5" y1="600" y2="602" stroke="#b0b0c0" stroke-width="1"/>
<line x1="1047.5" x2="1047.5" y1="600" y2="602" stroke="#b0b0c0" stroke-width="1"/>
<line x1="1055.5" x2="1055.5" y1="600" y2="602" stroke="#b0b0c0" stroke-width="1"/>
<line x1="1064.5" x2="1064.5" y1="600" y2="602" stroke="#b0b0c0" stroke-width="1"/>
<line x1="1072.5" x2="1072.5" y1="600" y2="602" stroke="#b0b0c0" stroke-width="1"/>
<line x1="1080.5" x2="1080.5" y1="600" y2="602" stroke="#b0b0c0" stroke-width="1"/>
<line x1="1089.5" x2="1089.5" y1="600" y2="602" stroke="#b0b0c0" stroke-width="1"/>
<line x1="1097.5" x2="1097.5" y1="600" y2="602" stroke="#b0b0c0" stroke-width="1"/>
<line x1="1106.5" x2="1106.5" y1="600" y2="602" stroke="#b0b0c0" stroke-width="1"/>
<line x1="1114.5" x2="1114.5" y1="600" y2="602" stroke="#b0b0c0" stroke-width="1"/>
<line x1="1122.5" x2="1122.5" y1="600" y2="602" stroke="#b0b0c0" stroke-width="1"/>
<line x1="1131.5" x2="1131.5" y1="600" y2="602" stroke="#b0b0c0" stroke-width="1"/>
<line x1="1139.5" x2="1139.5" y1="600" y2="602" stroke="#b0b0c0" stroke-width="1"/>
<line x1="1148.5" x2="1148.5" y1="600" y2="602" stroke="#b0b0c0" stroke-width="1"/>
<line x1="1156.5" x2="1156.5" y1="600" y2="602" stroke="#b0b0c0" stroke-width="1"/>
<line x1="1165.5" x2="1165.5" y1="600" y2="602" stroke="#b0b0c0" stroke-width="1"/>
<line x1="1173.5" x2="1173.5" y1="600" y2="602" stroke="#b0b0c0" stroke-width="1"/>
<line x1="1181.5" x2="1181.5" y1="600" y2="602" stroke="#b0b0c0" stroke-width="1"/>
<line x1="1190.5" x2="1190.5" y1="600" y2="602" stroke="#b0b0c0" stroke-width="1"/>
<line x1="1198.5" x2="1198.5" y1="600" y2="602" stroke="#b0b0c0" stroke-width="1"/>
<line x1="1207" x2="1209.6" y1="50.5" y2="50.5" stroke="#777" stroke-width="1"/>
<text x="1210.4" y="53.9" font-size="9.7" letter-spacing="0.15" fill="#111">90</text>
<line x1="1207" x2="1209.6" y1="76.5" y2="76.5" stroke="#777" stroke-width="1"/>
<text x="1210.4" y="79.9" font-size="9.7" letter-spacing="0.15" fill="#111">70</text>
<line x1="1207" x2="1209.6" y1="102.5" y2="102.5" stroke="#777" stroke-width="1"/>
<text x="1210.4" y="105.9" font-size="9.7" letter-spacing="0.15" fill="#111">50</text>
<line x1="1207" x2="1209.6" y1="128.5" y2="128.5" stroke="#777" stroke-width="1"/>
<text x="1210.4" y="131.9" font-size="9.7" letter-spacing="0.15" fill="#111">30</text>
<line x1="1207" x2="1209.6" y1="154.5" y2="154.5" stroke="#777" stroke-width="1"/>
<text x="1210.4" y="157.9" font-size="9.7" letter-spacing="0.15" fill="#111">10</text>
<line x1="1207" x2="1208.6" y1="167.5" y2="167.5" stroke="#888" stroke-width="1"/>
<line x1="1207" x2="1208.6" y1="160.5" y2="160.5" stroke="#888" stroke-width="1"/>
<line x1="1207" x2="1208.6" y1="154.5" y2="154.5" stroke="#888" stroke-width="1"/>
<line x1="1207" x2="1208.6" y1="147.5" y2="147.5" stroke="#888" stroke-width="1"/>
<line x1="1207" x2="1208.6" y1="141.5" y2="141.5" stroke="#888" stroke-width="1"/>
<line x1="1207" x2="1208.6" y1="134.5" y2="134.5" stroke="#888" stroke-width="1"/>
<line x1="1207" x2="1208.6" y1="128.5" y2="128.5" stroke="#888" stroke-width="1"/>
<line x1="1207" x2="1208.6" y1="121.5" y2="121.5" stroke="#888" stroke-width="1"/>
<line x1="1207" x2="1208.6" y1="115.5" y2="115.5" stroke="#888" stroke-width="1"/>
<line x1="1207" x2="1208.6" y1="108.5" y2="108.5" stroke="#888" stroke-width="1"/>
<line x1="1207" x2="1208.6" y1="102.5" y2="102.5" stroke="#888" stroke-width="1"/>
<line x1="1207" x2="1208.6" y1="95.5" y2="95.5" stroke="#888" stroke-width="1"/>
<line x1="1207" x2="1208.6" y1="89.5" y2="89.5" stroke="#888" stroke-width="1"/>
<line x1="1207" x2="1208.6" y1="82.5" y2="82.5" stroke="#888" stroke-width="1"/>
<line x1="1207" x2="1208.6" y1="76.5" y2="76.5" stroke="#888" stroke-width="1"/>
<line x1="1207" x2="1208.6" y1="69.5" y2="69.5" stroke="#888" stroke-width="1"/>
<line x1="1207" x2="1208.6" y1="63.5" y2="63.5" stroke="#888" stroke-width="1"/>
<line x1="1207" x2="1208.6" y1="56.5" y2="56.5" stroke="#888" stroke-width="1"/>
<line x1="1207" x2="1208.6" y1="50.5" y2="50.5" stroke="#888" stroke-width="1"/>
<line x1="1207" x2="1208.6" y1="43.5" y2="43.5" stroke="#888" stroke-width="1"/>
<line x1="1207" x2="1208.6" y1="37.5" y2="37.5" stroke="#888" stroke-width="1"/>
<line x1="1207" x2="1209.6" y1="568.5" y2="568.5" stroke="#777" stroke-width="1"/>
<text x="1210.4" y="571.9" font-size="9.7" letter-spacing="0.15" fill="#111">11</text>
<line x1="1207" x2="1209.6" y1="548.5" y2="548.5" stroke="#777" stroke-width="1"/>
<text x="1210.4" y="552.7" font-size="9.7" letter-spacing="0.15" fill="#111">12</text>
<line x1="1207" x2="1209.6" y1="529.5" y2="529.5" stroke="#777" stroke-width="1"/>
<text x="1210.4" y="533.4" font-size="9.7" letter-spacing="0.15" fill="#111">13</text>
<line x1="1207" x2="1209.6" y1="510.5" y2="510.5" stroke="#777" stroke-width="1"/>
<text x="1210.4" y="514.2" font-size="9.7" letter-spacing="0.15" fill="#111">14</text>
<line x1="1207" x2="1209.6" y1="491.5" y2="491.5" stroke="#777" stroke-width="1"/>
<text x="1210.4" y="494.9" font-size="9.7" letter-spacing="0.15" fill="#111">15</text>
<line x1="1207" x2="1209.6" y1="471.5" y2="471.5" stroke="#777" stroke-width="1"/>
<text x="1210.4" y="475.7" font-size="9.7" letter-spacing="0.15" fill="#111">16</text>
<line x1="1207" x2="1209.6" y1="452.5" y2="452.5" stroke="#777" stroke-width="1"/>
<text x="1210.4" y="456.4" font-size="9.7" letter-spacing="0.15" fill="#111">17</text>
<line x1="1207" x2="1209.6" y1="433.5" y2="433.5" stroke="#777" stroke-width="1"/>
<text x="1210.4" y="437.2" font-size="9.7" letter-spacing="0.15" fill="#111">18</text>
<line x1="1207" x2="1209.6" y1="414.5" y2="414.5" stroke="#777" stroke-width="1"/>
<text x="1210.4" y="417.9" font-size="9.7" letter-spacing="0.15" fill="#111">19</text>
<line x1="1207" x2="1209.6" y1="394.5" y2="394.5" stroke="#777" stroke-width="1"/>
<text x="1210.4" y="398.7" font-size="9.7" letter-spacing="0.15" fill="#111">20</text>
<line x1="1207" x2="1209.6" y1="375.5" y2="375.5" stroke="#777" stroke-width="1"/>
<text x="1210.4" y="379.4" font-size="9.7" letter-spacing="0.15" fill="#111">21</text>
<line x1="1207" x2="1209.6" y1="356.5" y2="356.5" stroke="#777" stroke-width="1"/>
<text x="1210.4" y="360.2" font-size="9.7" letter-spacing="0.15" fill="#111">22</text>
<line x1="1207" x2="1209.6" y1="337.5" y2="337.5" stroke="#777" stroke-width="1"/>
<text x="1210.4" y="341" font-size="9.7" letter-spacing="0.15" fill="#111">23</text>
<line x1="1207" x2="1209.6" y1="317.5" y2="317.5" stroke="#777" stroke-width="1"/>
<text x="1210.4" y="321.7" font-size="9.7" letter-spacing="0.15" fill="#111">24</text>
<line x1="1207" x2="1209.6" y1="298.5" y2="298.5" stroke="#777" stroke-width="1"/>
<text x="1210.4" y="302.5" font-size="9.7" letter-spacing="0.15" fill="#111">25</text>
<line x1="1207" x2="1209.6" y1="279.5" y2="279.5" stroke="#777" stroke-width="1"/>
<text x="1210.4" y="283.2" font-size="9.7" letter-spacing="0.15" fill="#111">26</text>
<line x1="1207" x2="1209.6" y1="260.5" y2="260.5" stroke="#777" stroke-width="1"/>
<text x="1210.4" y="264" font-size="9.7" letter-spacing="0.15" fill="#111">27</text>
<line x1="1207" x2="1209.6" y1="240.5" y2="240.5" stroke="#777" stroke-width="1"/>
<text x="1210.4" y="244.7" font-size="9.7" letter-spacing="0.15" fill="#111">28</text>
<line x1="1207" x2="1209.6" y1="221.5" y2="221.5" stroke="#777" stroke-width="1"/>
<text x="1210.4" y="225.5" font-size="9.7" letter-spacing="0.15" fill="#111">29</text>
<line x1="1207" x2="1209.6" y1="202.5" y2="202.5" stroke="#777" stroke-width="1"/>
<text x="1210.4" y="206.2" font-size="9.7" letter-spacing="0.15" fill="#111">30</text>
<line x1="1207" x2="1209.6" y1="183.5" y2="183.5" stroke="#777" stroke-width="1"/>
<text x="1210.4" y="187" font-size="9.7" letter-spacing="0.15" fill="#111">31</text>
<line x1="1207" x2="1208.6" y1="583.5" y2="583.5" stroke="#888" stroke-width="1"/>
<line x1="1207" x2="1208.6" y1="579.5" y2="579.5" stroke="#888" stroke-width="1"/>
<line x1="1207" x2="1208.6" y1="575.5" y2="575.5" stroke="#888" stroke-width="1"/>
<line x1="1207" x2="1208.6" y1="571.5" y2="571.5" stroke="#888" stroke-width="1"/>
<line x1="1207" x2="1208.6" y1="568.5" y2="568.5" stroke="#888" stroke-width="1"/>
<line x1="1207" x2="1208.6" y1="564.5" y2="564.5" stroke="#888" stroke-width="1"/>
<line x1="1207" x2="1208.6" y1="560.5" y2="560.5" stroke="#888" stroke-width="1"/>
<line x1="1207" x2="1208.6" y1="556.5" y2="556.5" stroke="#888" stroke-width="1"/>
<line x1="1207" x2="1208.6" y1="552.5" y2="552.5" stroke="#888" stroke-width="1"/>
<line x1="1207" x2="1208.6" y1="548.5" y2="548.5" stroke="#888" stroke-width="1"/>
<line x1="1207" x2="1208.6" y1="545.5" y2="545.5" stroke="#888" stroke-width="1"/>
<line x1="1207" x2="1208.6" y1="541.5" y2="541.5" stroke="#888" stroke-width="1"/>
<line x1="1207" x2="1208.6" y1="537.5" y2="537.5" stroke="#888" stroke-width="1"/>
<line x1="1207" x2="1208.6" y1="533.5" y2="533.5" stroke="#888" stroke-width="1"/>
<line x1="1207" x2="1208.6" y1="529.5" y2="529.5" stroke="#888" stroke-width="1"/>
<line x1="1207" x2="1208.6" y1="525.5" y2="525.5" stroke="#888" stroke-width="1"/>
<line x1="1207" x2="1208.6" y1="521.5" y2="521.5" stroke="#888" stroke-width="1"/>
<line x1="1207" x2="1208.6" y1="518.5" y2="518.5" stroke="#888" stroke-width="1"/>
<line x1="1207" x2="1208.6" y1="514.5" y2="514.5" stroke="#888" stroke-width="1"/>
<line x1="1207" x2="1208.6" y1="510.5" y2="510.5" stroke="#888" stroke-width="1"/>
<line x1="1207" x2="1208.6" y1="506.5" y2="506.5" stroke="#888" stroke-width="1"/>
<line x1="1207" x2="1208.6" y1="502.5" y2="502.5" stroke="#888" stroke-width="1"/>
<line x1="1207" x2="1208.6" y1="498.5" y2="498.5" stroke="#888" stroke-width="1"/>
<line x1="1207" x2="1208.6" y1="494.5" y2="494.5" stroke="#888" stroke-width="1"/>
<line x1="1207" x2="1208.6" y1="491.5" y2="491.5" stroke="#888" stroke-width="1"/>
<line x1="1207" x2="1208.6" y1="487.5" y2="487.5" stroke="#888" stroke-width="1"/>
<line x1="1207" x2="1208.6" y1="483.5" y2="483.5" stroke="#888" stroke-width="1"/>
<line x1="1207" x2="1208.6" y1="479.5" y2="479.5" stroke="#888" stroke-width="1"/>
<line x1="1207" x2="1208.6" y1="475.5" y2="475.5" stroke="#888" stroke-width="1"/>
<line x1="1207" x2="1208.6" y1="471.5" y2="471.5" stroke="#888" stroke-width="1"/>
<line x1="1207" x2="1208.6" y1="468.5" y2="468.5" stroke="#888" stroke-width="1"/>
<line x1="1207" x2="1208.6" y1="464.5" y2="464.5" stroke="#888" stroke-width="1"/>
<line x1="1207" x2="1208.6" y1="460.5" y2="460.5" stroke="#888" stroke-width="1"/>
<line x1="1207" x2="1208.6" y1="456.5" y2="456.5" stroke="#888" stroke-width="1"/>
<line x1="1207" x2="1208.6" y1="452.5" y2="452.5" stroke="#888" stroke-width="1"/>
<line x1="1207" x2="1208.6" y1="448.5" y2="448.5" stroke="#888" stroke-width="1"/>
<line x1="1207" x2="1208.6" y1="444.5" y2="444.5" stroke="#888" stroke-width="1"/>
<line x1="1207" x2="1208.6" y1="441.5" y2="441.5" stroke="#888" stroke-width="1"/>
<line x1="1207" x2="1208.6" y1="437.5" y2="437.5" stroke="#888" stroke-width="1"/>
<line x1="1207" x2="1208.6" y1="433.5" y2="433.5" stroke="#888" stroke-width="1"/>
<line x1="1207" x2="1208.6" y1="429.5" y2="429.5" stroke="#888" stroke-width="1"/>
<line x1="1207" x2="1208.6" y1="425.5" y2="425.5" stroke="#888" stroke-width="1"/>
<line x1="1207" x2="1208.6" y1="421.5" y2="421.5" stroke="#888" stroke-width="1"/>
<line x1="1207" x2="1208.6" y1="417.5" y2="417.5" stroke="#888" stroke-width="1"/>
<line x1="1207" x2="1208.6" y1="414.5" y2="414.5" stroke="#888" stroke-width="1"/>
<line x1="1207" x2="1208.6" y1="410.5" y2="410.5" stroke="#888" stroke-width="1"/>
<line x1="1207" x2="1208.6" y1="406.5" y2="406.5" stroke="#888" stroke-width="1"/>
<line x1="1207" x2="1208.6" y1="402.5" y2="402.5" stroke="#888" stroke-width="1"/>
<line x1="1207" x2="1208.6" y1="398.5" y2="398.5" stroke="#888" stroke-width="1"/>
<line x1="1207" x2="1208.6" y1="394.5" y2="394.5" stroke="#888" stroke-width="1"/>
<line x1="1207" x2="1208.6" y1="391.5" y2="391.5" stroke="#888" stroke-width="1"/>
<line x1="1207" x2="1208.6" y1="387.5" y2="387.5" stroke="#888" stroke-width="1"/>
<line x1="1207" x2="1208.6" y1="383.5" y2="383.5" stroke="#888" stroke-width="1"/>
<line x1="1207" x2="1208.6" y1="379.5" y2="379.5" stroke="#888" stroke-width="1"/>
<line x1="1207" x2="1208.6" y1="375.5" y2="375.5" stroke="#888" stroke-width="1"/>
<line x1="1207" x2="1208.6" y1="371.5" y2="371.5" stroke="#888" stroke-width="1"/>
<line x1="1207" x2="1208.6" y1="367.5" y2="367.5" stroke="#888" stroke-width="1"/>
<line x1="1207" x2="1208.6" y1="364.5" y2="364.5" stroke="#888" stroke-width="1"/>
<line x1="1207" x2="1208.6" y1="360.5" y2="360.5" stroke="#888" stroke-width="1"/>
<line x1="1207" x2="1208.6" y1="356.5" y2="356.5" stroke="#888" stroke-width="1"/>
<line x1="1207" x2="1208.6" y1="352.5" y2="352.5" stroke="#888" stroke-width="1"/>
<line x1="1207" x2="1208.6" y1="348.5" y2="348.5" stroke="#888" stroke-width="1"/>
<line x1="1207" x2="1208.6" y1="344.5" y2="344.5" stroke="#888" stroke-width="1"/>
<line x1="1207" x2="1208.6" y1="341.5" y2="341.5" stroke="#888" stroke-width="1"/>
<line x1="1207" x2="1208.6" y1="337.5" y2="337.5" stroke="#888" stroke-width="1"/>
<line x1="1207" x2="1208.6" y1="333.5" y2="333.5" stroke="#888" stroke-width="1"/>
<line x1="1207" x2="1208.6" y1="329.5" y2="329.5" stroke="#888" stroke-width="1"/>
<line x1="1207" x2="1208.6" y1="325.5" y2="325.5" stroke="#888" stroke-width="1"/>
<line x1="1207" x2="1208.6" y1="321.5" y2="321.5" stroke="#888" stroke-width="1"/>
<line x1="1207" x2="1208.6" y1="317.5" y2="317.5" stroke="#888" stroke-width="1"/>
<line x1="1207" x2="1208.6" y1="314.5" y2="314.5" stroke="#888" stroke-width="1"/>
<line x1="1207" x2="1208.6" y1="310.5" y2="310.5" stroke="#888" stroke-width="1"/>
<line x1="1207" x2="1208.6" y1="306.5" y2="306.5" stroke="#888" stroke-width="1"/>
<line x1="1207" x2="1208.6" y1="302.5" y2="302.5" stroke="#888" stroke-width="1"/>
<line x1="1207" x2="1208.6" y1="298.5" y2="298.5" stroke="#888" stroke-width="1"/>
<line x1="1207" x2="1208.6" y1="294.5" y2="294.5" stroke="#888" stroke-width="1"/>
<line x1="1207" x2="1208.6" y1="290.5" y2="290.5" stroke="#888" stroke-width="1"/>
<line x1="1207" x2="1208.6" y1="287.5" y2="287.5" stroke="#888" stroke-width="1"/>
<line x1="1207" x2="1208.6" y1="283.5" y2="283.5" stroke="#888" stroke-width="1"/>
<line x1="1207" x2="1208.6" y1="279.5" y2="279.5" stroke="#888" stroke-width="1"/>
<line x1="1207" x2="1208.6" y1="275.5" y2="275.5" stroke="#888" stroke-width="1"/>
<line x1="1207" x2="1208.6" y1="271.5" y2="271.5" stroke="#888" stroke-width="1"/>
<line x1="1207" x2="1208.6" y1="267.5" y2="267.5" stroke="#888" stroke-width="1"/>
<line x1="1207" x2="1208.6" y1="264.5" y2="264.5" stroke="#888" stroke-width="1"/>
<line x1="1207" x2="1208.6" y1="260.5" y2="260.5" stroke="#888" stroke-width="1"/>
<line x1="1207" x2="1208.6" y1="256.5" y2="256.5" stroke="#888" stroke-width="1"/>
<line x1="1207" x2="1208.6" y1="252.5" y2="252.5" stroke="#888" stroke-width="1"/>
<line x1="1207" x2="1208.6" y1="248.5" y2="248.5" stroke="#888" stroke-width="1"/>
<line x1="1207" x2="1208.6" y1="244.5" y2="244.5" stroke="#888" stroke-width="1"/>
<line x1="1207" x2="1208.6" y1="240.5" y2="240.5" stroke="#888" stroke-width="1"/>
<line x1="1207" x2="1208.6" y1="237.5" y2="237.5" stroke="#888" stroke-width="1"/>
<line x1="1207" x2="1208.6" y1="233.5" y2="233.5" stroke="#888" stroke-width="1"/>
<line x1="1207" x2="1208.6" y1="229.5" y2="229.5" stroke="#888" stroke-width="1"/>
<line x1="1207" x2="1208.6" y1="225.5" y2="225.5" stroke="#888" stroke-width="1"/>
<line x1="1207" x2="1208.6" y1="221.5" y2="221.5" stroke="#888" stroke-width="1"/>
<line x1="1207" x2="1208.6" y1="217.5" y2="217.5" stroke="#888" stroke-width="1"/>
<line x1="1207" x2="1208.6" y1="213.5" y2="213.5" stroke="#888" stroke-width="1"/>
<line x1="1207" x2="1208.6" y1="210.5" y2="210.5" stroke="#888" stroke-width="1"/>
<line x1="1207" x2="1208.6" y1="206.5" y2="206.5" stroke="#888" stroke-width="1"/>
<line x1="1207" x2="1208.6" y1="202.5" y2="202.5" stroke="#888" stroke-width="1"/>
<line x1="1207" x2="1208.6" y1="198.5" y2="198.5" stroke="#888" stroke-width="1"/>
<line x1="1207" x2="1208.6" y1="194.5" y2="194.5" stroke="#888" stroke-width="1"/>
<line x1="1207" x2="1208.6" y1="190.5" y2="190.5" stroke="#888" stroke-width="1"/>
<line x1="1207" x2="1208.6" y1="187.5" y2="187.5" stroke="#888" stroke-width="1"/>
<line x1="1207" x2="1208.6" y1="183.5" y2="183.5" stroke="#888" stroke-width="1"/>
<line x1="1207" x2="1208.6" y1="179.5" y2="179.5" stroke="#888" stroke-width="1"/>
<line x1="1207" x2="1208.6" y1="175.5" y2="175.5" stroke="#888" stroke-width="1"/>
<line x1="1207" x2="1209.6" y1="623.5" y2="623.5" stroke="#777" stroke-width="1"/>
<text x="1213.4" y="627.5" font-size="9.7" letter-spacing="0.15" fill="#111">1.0</text>
<line x1="1207" x2="1209.6" y1="645.5" y2="645.5" stroke="#777" stroke-width="1"/>
<text x="1213.4" y="649.6" font-size="9.7" letter-spacing="0.15" fill="#111">0.5</text>
<line x1="1207" x2="1209.6" y1="668.5" y2="668.5" stroke="#777" stroke-width="1"/>
<text x="1213.4" y="671.8" font-size="9.7" letter-spacing="0.15" fill="#111">0.0</text>
<line x1="1207" x2="1209.6" y1="690.5" y2="690.5" stroke="#777" stroke-width="1"/>
<text x="1210" y="693.9" font-size="9.7" letter-spacing="0.15" fill="#111">-0.5</text>
<line x1="1207" x2="1209.6" y1="712.5" y2="712.5" stroke="#777" stroke-width="1"/>
<text x="1210" y="716.1" font-size="9.7" letter-spacing="0.15" fill="#111">-1.0</text>
<line x1="1207" x2="1209.6" y1="734.5" y2="734.5" stroke="#777" stroke-width="1"/>
<text x="1210" y="738.2" font-size="9.7" letter-spacing="0.15" fill="#111">-1.5</text>
<line x1="1207" x2="1208.6" y1="743.5" y2="743.5" stroke="#888" stroke-width="1"/>
<line x1="1207" x2="1208.6" y1="738.5" y2="738.5" stroke="#888" stroke-width="1"/>
<line x1="1207" x2="1208.6" y1="734.5" y2="734.5" stroke="#888" stroke-width="1"/>
<line x1="1207" x2="1208.6" y1="730.5" y2="730.5" stroke="#888" stroke-width="1"/>
<line x1="1207" x2="1208.6" y1="725.5" y2="725.5" stroke="#888" stroke-width="1"/>
<line x1="1207" x2="1208.6" y1="721.5" y2="721.5" stroke="#888" stroke-width="1"/>
<line x1="1207" x2="1208.6" y1="716.5" y2="716.5" stroke="#888" stroke-width="1"/>
<line x1="1207" x2="1208.6" y1="712.5" y2="712.5" stroke="#888" stroke-width="1"/>
<line x1="1207" x2="1208.6" y1="707.5" y2="707.5" stroke="#888" stroke-width="1"/>
<line x1="1207" x2="1208.6" y1="703.5" y2="703.5" stroke="#888" stroke-width="1"/>
<line x1="1207" x2="1208.6" y1="699.5" y2="699.5" stroke="#888" stroke-width="1"/>
<line x1="1207" x2="1208.6" y1="694.5" y2="694.5" stroke="#888" stroke-width="1"/>
<line x1="1207" x2="1208.6" y1="690.5" y2="690.5" stroke="#888" stroke-width="1"/>
<line x1="1207" x2="1208.6" y1="685.5" y2="685.5" stroke="#888" stroke-width="1"/>
<line x1="1207" x2="1208.6" y1="681.5" y2="681.5" stroke="#888" stroke-width="1"/>
<line x1="1207" x2="1208.6" y1="676.5" y2="676.5" stroke="#888" stroke-width="1"/>
<line x1="1207" x2="1208.6" y1="672.5" y2="672.5" stroke="#888" stroke-width="1"/>
<line x1="1207" x2="1208.6" y1="668.5" y2="668.5" stroke="#888" stroke-width="1"/>
<line x1="1207" x2="1208.6" y1="663.5" y2="663.5" stroke="#888" stroke-width="1"/>
<line x1="1207" x2="1208.6" y1="659.5" y2="659.5" stroke="#888" stroke-width="1"/>
<line x1="1207" x2="1208.6" y1="654.5" y2="654.5" stroke="#888" stroke-width="1"/>
<line x1="1207" x2="1208.6" y1="650.5" y2="650.5" stroke="#888" stroke-width="1"/>
<line x1="1207" x2="1208.6" y1="645.5" y2="645.5" stroke="#888" stroke-width="1"/>
<line x1="1207" x2="1208.6" y1="641.5" y2="641.5" stroke="#888" stroke-width="1"/>
<line x1="1207" x2="1208.6" y1="636.5" y2="636.5" stroke="#888" stroke-width="1"/>
<line x1="1207" x2="1208.6" y1="632.5" y2="632.5" stroke="#888" stroke-width="1"/>
<line x1="1207" x2="1208.6" y1="628.5" y2="628.5" stroke="#888" stroke-width="1"/>
<line x1="1207" x2="1208.6" y1="623.5" y2="623.5" stroke="#888" stroke-width="1"/>
<line x1="1207" x2="1208.6" y1="619.5" y2="619.5" stroke="#888" stroke-width="1"/>
<line x1="1207" x2="1208.6" y1="614.5" y2="614.5" stroke="#888" stroke-width="1"/>
<line x1="1207" x2="1208.6" y1="610.5" y2="610.5" stroke="#888" stroke-width="1"/>
<line x1="1207" x2="1208.6" y1="605.5" y2="605.5" stroke="#888" stroke-width="1"/>
<line x1="1207" x2="1209.6" y1="755.5" y2="755.5" stroke="#777" stroke-width="1"/>
<text x="1213.4" y="759.3" font-size="9.7" letter-spacing="0.15" fill="#111">1.00</text>
<line x1="1207" x2="1209.6" y1="777.5" y2="777.5" stroke="#777" stroke-width="1"/>
<text x="1213.4" y="781.7" font-size="9.7" letter-spacing="0.15" fill="#111">0.75</text>
<line x1="1207" x2="1209.6" y1="800.5" y2="800.5" stroke="#777" stroke-width="1"/>
<text x="1213.4" y="804" font-size="9.7" letter-spacing="0.15" fill="#111">0.50</text>
<line x1="1207" x2="1209.6" y1="822.5" y2="822.5" stroke="#777" stroke-width="1"/>
<text x="1213.4" y="826.4" font-size="9.7" letter-spacing="0.15" fill="#111">0.25</text>
<line x1="1207" x2="1209.6" y1="845.5" y2="845.5" stroke="#777" stroke-width="1"/>
<text x="1213.4" y="848.8" font-size="9.7" letter-spacing="0.15" fill="#111">0.00</text>
<line x1="1207" x2="1209.6" y1="867.5" y2="867.5" stroke="#777" stroke-width="1"/>
<text x="1210" y="871.2" font-size="9.7" letter-spacing="0.15" fill="#111">-0.25</text>
<line x1="1207" x2="1209.6" y1="889.5" y2="889.5" stroke="#777" stroke-width="1"/>
<text x="1210" y="893.5" font-size="9.7" letter-spacing="0.15" fill="#111">-0.50</text>
<line x1="1207" x2="1208.6" y1="889.5" y2="889.5" stroke="#888" stroke-width="1"/>
<line x1="1207" x2="1208.6" y1="885.5" y2="885.5" stroke="#888" stroke-width="1"/>
<line x1="1207" x2="1208.6" y1="880.5" y2="880.5" stroke="#888" stroke-width="1"/>
<line x1="1207" x2="1208.6" y1="876.5" y2="876.5" stroke="#888" stroke-width="1"/>
<line x1="1207" x2="1208.6" y1="871.5" y2="871.5" stroke="#888" stroke-width="1"/>
<line x1="1207" x2="1208.6" y1="867.5" y2="867.5" stroke="#888" stroke-width="1"/>
<line x1="1207" x2="1208.6" y1="862.5" y2="862.5" stroke="#888" stroke-width="1"/>
<line x1="1207" x2="1208.6" y1="858.5" y2="858.5" stroke="#888" stroke-width="1"/>
<line x1="1207" x2="1208.6" y1="853.5" y2="853.5" stroke="#888" stroke-width="1"/>
<line x1="1207" x2="1208.6" y1="849.5" y2="849.5" stroke="#888" stroke-width="1"/>
<line x1="1207" x2="1208.6" y1="845.5" y2="845.5" stroke="#888" stroke-width="1"/>
<line x1="1207" x2="1208.6" y1="840.5" y2="840.5" stroke="#888" stroke-width="1"/>
<line x1="1207" x2="1208.6" y1="836.5" y2="836.5" stroke="#888" stroke-width="1"/>
<line x1="1207" x2="1208.6" y1="831.5" y2="831.5" stroke="#888" stroke-width="1"/>
<line x1="1207" x2="1208.6" y1="827.5" y2="827.5" stroke="#888" stroke-width="1"/>
<line x1="1207" x2="1208.6" y1="822.5" y2="822.5" stroke="#888" stroke-width="1"/>
<line x1="1207" x2="1208.6" y1="818.5" y2="818.5" stroke="#888" stroke-width="1"/>
<line x1="1207" x2="1208.6" y1="813.5" y2="813.5" stroke="#888" stroke-width="1"/>
<line x1="1207" x2="1208.6" y1="809.5" y2="809.5" stroke="#888" stroke-width="1"/>
<line x1="1207" x2="1208.6" y1="804.5" y2="804.5" stroke="#888" stroke-width="1"/>
<line x1="1207" x2="1208.6" y1="800.5" y2="800.5" stroke="#888" stroke-width="1"/>
<line x1="1207" x2="1208.6" y1="795.5" y2="795.5" stroke="#888" stroke-width="1"/>
<line x1="1207" x2="1208.6" y1="791.5" y2="791.5" stroke="#888" stroke-width="1"/>
<line x1="1207" x2="1208.6" y1="786.5" y2="786.5" stroke="#888" stroke-width="1"/>
<line x1="1207" x2="1208.6" y1="782.5" y2="782.5" stroke="#888" stroke-width="1"/>
<line x1="1207" x2="1208.6" y1="777.5" y2="777.5" stroke="#888" stroke-width="1"/>
<line x1="1207" x2="1208.6" y1="773.5" y2="773.5" stroke="#888" stroke-width="1"/>
<line x1="1207" x2="1208.6" y1="768.5" y2="768.5" stroke="#888" stroke-width="1"/>
<line x1="1207" x2="1208.6" y1="764.5" y2="764.5" stroke="#888" stroke-width="1"/>
<line x1="1207" x2="1208.6" y1="759.5" y2="759.5" stroke="#888" stroke-width="1"/>
<line x1="1207" x2="1208.6" y1="755.5" y2="755.5" stroke="#888" stroke-width="1"/>
<line x1="1207" x2="1209.6" y1="927.5" y2="927.5" stroke="#777" stroke-width="1"/>
<text x="1210.4" y="931.1" font-size="9.7" letter-spacing="0.15" fill="#111">80</text>
<line x1="1207" x2="1209.6" y1="966.5" y2="966.5" stroke="#777" stroke-width="1"/>
<text x="1210.4" y="969.9" font-size="9.7" letter-spacing="0.15" fill="#111">50</text>
<line x1="1207" x2="1209.6" y1="1004.5" y2="1004.5" stroke="#777" stroke-width="1"/>
<text x="1210.4" y="1008.7" font-size="9.7" letter-spacing="0.15" fill="#111">20</text>
<line x1="1207" x2="1208.6" y1="1030.5" y2="1030.5" stroke="#888" stroke-width="1"/>
<line x1="1207" x2="1208.6" y1="1017.5" y2="1017.5" stroke="#888" stroke-width="1"/>
<line x1="1207" x2="1208.6" y1="1004.5" y2="1004.5" stroke="#888" stroke-width="1"/>
<line x1="1207" x2="1208.6" y1="991.5" y2="991.5" stroke="#888" stroke-width="1"/>
<line x1="1207" x2="1208.6" y1="979.5" y2="979.5" stroke="#888" stroke-width="1"/>
<line x1="1207" x2="1208.6" y1="966.5" y2="966.5" stroke="#888" stroke-width="1"/>
<line x1="1207" x2="1208.6" y1="953.5" y2="953.5" stroke="#888" stroke-width="1"/>
<line x1="1207" x2="1208.6" y1="940.5" y2="940.5" stroke="#888" stroke-width="1"/>
<line x1="1207" x2="1208.6" y1="927.5" y2="927.5" stroke="#888" stroke-width="1"/>
<line x1="1207" x2="1208.6" y1="914.5" y2="914.5" stroke="#888" stroke-width="1"/>
<line x1="1207" x2="1208.6" y1="901.5" y2="901.5" stroke="#888" stroke-width="1"/>
<line x1="1207" x2="1209.6" y1="1071.5" y2="1071.5" stroke="#777" stroke-width="1"/>
<text x="1210.4" y="1075.2" font-size="9.7" letter-spacing="0.15" fill="#111">35</text>
<line x1="1207" x2="1209.6" y1="1109.5" y2="1109.5" stroke="#777" stroke-width="1"/>
<text x="1210.4" y="1113.1" font-size="9.7" letter-spacing="0.15" fill="#111">25</text>
<line x1="1207" x2="1209.6" y1="1128.5" y2="1128.5" stroke="#777" stroke-width="1"/>
<text x="1210.4" y="1132" font-size="9.7" letter-spacing="0.15" fill="#111">20</text>
<line x1="1207" x2="1209.6" y1="1147.5" y2="1147.5" stroke="#777" stroke-width="1"/>
<text x="1210.4" y="1151" font-size="9.7" letter-spacing="0.15" fill="#111">15</text>
<line x1="1207" x2="1209.6" y1="1166.5" y2="1166.5" stroke="#777" stroke-width="1"/>
<text x="1210.4" y="1170" font-size="9.7" letter-spacing="0.15" fill="#111">10</text>
<line x1="1207" x2="1208.6" y1="1177.5" y2="1177.5" stroke="#888" stroke-width="1"/>
<line x1="1207" x2="1208.6" y1="1173.5" y2="1173.5" stroke="#888" stroke-width="1"/>
<line x1="1207" x2="1208.6" y1="1169.5" y2="1169.5" stroke="#888" stroke-width="1"/>
<line x1="1207" x2="1208.6" y1="1166.5" y2="1166.5" stroke="#888" stroke-width="1"/>
<line x1="1207" x2="1208.6" y1="1162.5" y2="1162.5" stroke="#888" stroke-width="1"/>
<line x1="1207" x2="1208.6" y1="1158.5" y2="1158.5" stroke="#888" stroke-width="1"/>
<line x1="1207" x2="1208.6" y1="1154.5" y2="1154.5" stroke="#888" stroke-width="1"/>
<line x1="1207" x2="1208.6" y1="1150.5" y2="1150.5" stroke="#888" stroke-width="1"/>
<line x1="1207" x2="1208.6" y1="1147.5" y2="1147.5" stroke="#888" stroke-width="1"/>
<line x1="1207" x2="1208.6" y1="1143.5" y2="1143.5" stroke="#888" stroke-width="1"/>
<line x1="1207" x2="1208.6" y1="1139.5" y2="1139.5" stroke="#888" stroke-width="1"/>
<line x1="1207" x2="1208.6" y1="1135.5" y2="1135.5" stroke="#888" stroke-width="1"/>
<line x1="1207" x2="1208.6" y1="1132.5" y2="1132.5" stroke="#888" stroke-width="1"/>
<line x1="1207" x2="1208.6" y1="1128.5" y2="1128.5" stroke="#888" stroke-width="1"/>
<line x1="1207" x2="1208.6" y1="1124.5" y2="1124.5" stroke="#888" stroke-width="1"/>
<line x1="1207" x2="1208.6" y1="1120.5" y2="1120.5" stroke="#888" stroke-width="1"/>
<line x1="1207" x2="1208.6" y1="1116.5" y2="1116.5" stroke="#888" stroke-width="1"/>
<line x1="1207" x2="1208.6" y1="1113.5" y2="1113.5" stroke="#888" stroke-width="1"/>
<line x1="1207" x2="1208.6" y1="1109.5" y2="1109.5" stroke="#888" stroke-width="1"/>
<line x1="1207" x2="1208.6" y1="1105.5" y2="1105.5" stroke="#888" stroke-width="1"/>
<line x1="1207" x2="1208.6" y1="1101.5" y2="1101.5" stroke="#888" stroke-width="1"/>
<line x1="1207" x2="1208.6" y1="1097.5" y2="1097.5" stroke="#888" stroke-width="1"/>
<line x1="1207" x2="1208.6" y1="1094.5" y2="1094.5" stroke="#888" stroke-width="1"/>
<line x1="1207" x2="1208.6" y1="1090.5" y2="1090.5" stroke="#888" stroke-width="1"/>
<line x1="1207" x2="1208.6" y1="1086.5" y2="1086.5" stroke="#888" stroke-width="1"/>
<line x1="1207" x2="1208.6" y1="1082.5" y2="1082.5" stroke="#888" stroke-width="1"/>
<line x1="1207" x2="1208.6" y1="1078.5" y2="1078.5" stroke="#888" stroke-width="1"/>
<line x1="1207" x2="1208.6" y1="1075.5" y2="1075.5" stroke="#888" stroke-width="1"/>
<line x1="1207" x2="1208.6" y1="1071.5" y2="1071.5" stroke="#888" stroke-width="1"/>
<line x1="1207" x2="1208.6" y1="1067.5" y2="1067.5" stroke="#888" stroke-width="1"/>
<line x1="1207" x2="1208.6" y1="1063.5" y2="1063.5" stroke="#888" stroke-width="1"/>
<line x1="1207" x2="1208.6" y1="1060.5" y2="1060.5" stroke="#888" stroke-width="1"/>
<line x1="1207" x2="1208.6" y1="1056.5" y2="1056.5" stroke="#888" stroke-width="1"/>
<line x1="1207" x2="1208.6" y1="1052.5" y2="1052.5" stroke="#888" stroke-width="1"/>
<line x1="1207" x2="1208.6" y1="1048.5" y2="1048.5" stroke="#888" stroke-width="1"/>
<line x1="1207" x2="1208.6" y1="1044.5" y2="1044.5" stroke="#888" stroke-width="1"/>
<polygon points="1204,92.5 1207.5,87.3 1237.5,87.3 1237.5,97.8 1207.5,97.8" fill="#fff" stroke="#222" stroke-width="1.2"/>
<text x="1209.6" y="96" font-size="9.4" letter-spacing="0.7" fill="#000">57.59</text>
<polygon points="1204,340 1207.5,334.8 1237.5,334.8 1237.5,345.3 1207.5,345.3" fill="#fff" stroke="#a4a4ac" stroke-width="1.2"/>
<text x="1209.6" y="343.5" font-size="9.4" letter-spacing="0.7" fill="#000">22.87</text>
<polygon points="1204,445.8 1207.5,440.6 1237.5,440.6 1237.5,451.1 1207.5,451.1" fill="#fff" stroke="#8a2be2" stroke-width="1.2"/>
<text x="1209.6" y="449.3" font-size="9.4" letter-spacing="0.7" fill="#000">17.37</text>
<polygon points="1204,467 1207.5,461.8 1237.5,461.8 1237.5,472.3 1207.5,472.3" fill="#fff" stroke="#a4a4ac" stroke-width="1.2"/>
<text x="1209.6" y="470.5" font-size="9.4" letter-spacing="0.7" fill="#000">16.27</text>
<polygon points="1204,505.1 1207.5,499.9 1237.5,499.9 1237.5,510.4 1207.5,510.4" fill="#fff" stroke="#ff00ee" stroke-width="1.2"/>
<text x="1209.6" y="508.6" font-size="9.4" letter-spacing="0.7" fill="#000">14.29</text>
<polygon points="1204,502.2 1207.5,497 1237.5,497 1237.5,507.5 1207.5,507.5" fill="#fff" stroke="#0c5420" stroke-width="1.2"/>
<text x="1209.6" y="505.7" font-size="9.4" letter-spacing="0.7" fill="#000">14.44</text>
<polygon points="1204,450.8 1207.5,445.6 1237.5,445.6 1237.5,456.1 1207.5,456.1" fill="#fff" stroke="#c4153f" stroke-width="1.2"/>
<text x="1209.6" y="454.3" font-size="9.4" letter-spacing="0.7" fill="#000">17.11</text>
<polygon points="1204,376.5 1207.5,371.1 1237.5,371.1 1237.5,382.1 1207.5,382.1" fill="#fff" stroke="#000" stroke-width="1.5"/>
<text x="1209.7" y="380.2" font-size="10" font-weight="bold" fill="#000" textLength="25" lengthAdjust="spacing">20.97</text>
<polygon points="1204,609.5 1207.5,604.3 1237.5,604.3 1237.5,614.8 1207.5,614.8" fill="#fff" stroke="#000" stroke-width="1.2"/>
<text x="1209.6" y="613" font-size="9.4" letter-spacing="0.7" fill="#000">1.328</text>
<polygon points="1204,629.7 1207.5,624.5 1237.5,624.5 1237.5,635 1207.5,635" fill="#fff" stroke="#ff1a1a" stroke-width="1.2"/>
<text x="1209.6" y="633.2" font-size="9.4" letter-spacing="0.7" fill="#000">0.871</text>
<polygon points="1204,648.1 1207.5,642.9 1237.5,642.9 1237.5,653.4 1207.5,653.4" fill="#fff" stroke="#2f7f9e" stroke-width="1.2"/>
<text x="1209.6" y="651.6" font-size="9.4" letter-spacing="0.7" fill="#000">0.457</text>
<polygon points="1204,804.4 1207.5,799.2 1237.5,799.2 1237.5,809.7 1207.5,809.7" fill="#fff" stroke="#2f7f9e" stroke-width="1.2"/>
<text x="1209.6" y="807.9" font-size="9.4" letter-spacing="0.7" fill="#000">0.457</text>
<polygon points="1204,976.1 1207.5,970.9 1237.5,970.9 1237.5,981.4 1207.5,981.4" fill="#fff" stroke="#ff1a1a" stroke-width="1.2"/>
<text x="1209.6" y="979.6" font-size="9.4" letter-spacing="0.7" fill="#000">42.50</text>
<polygon points="1204,964.3 1207.5,959.1 1237.5,959.1 1237.5,969.6 1207.5,969.6" fill="#fff" stroke="#000" stroke-width="1.2"/>
<text x="1209.6" y="967.8" font-size="9.4" letter-spacing="0.7" fill="#000">51.61</text>
<polygon points="1204,1055.1 1207.5,1049.9 1237.5,1049.9 1237.5,1060.4 1207.5,1060.4" fill="#fff" stroke="#000" stroke-width="1.2"/>
<text x="1209.6" y="1058.6" font-size="9.4" letter-spacing="0.7" fill="#000">39.39</text>
<polygon points="1204,1088.6 1207.5,1083.4 1237.5,1083.4 1237.5,1093.9 1207.5,1093.9" fill="#fff" stroke="#0c5420" stroke-width="1.2"/>
<text x="1209.6" y="1092.1" font-size="9.4" letter-spacing="0.7" fill="#000">30.55</text>
<polygon points="1204,1160.3 1207.5,1155.1 1237.5,1155.1 1237.5,1165.6 1207.5,1165.6" fill="#fff" stroke="#a8284a" stroke-width="1.2"/>
<text x="1209.6" y="1163.8" font-size="9.4" letter-spacing="0.7" fill="#000">11.61</text>
<text x="16" y="15" font-size="15" fill="#000" textLength="28.5" lengthAdjust="spacingAndGlyphs" font-weight="bold">$VIX</text>
<text x="49" y="15" font-size="11.5" fill="#000" textLength="166" lengthAdjust="spacing">Volatility Index - New Methodology</text>
<text x="219" y="15" font-size="9" fill="#000" textLength="24" lengthAdjust="spacing">INDX</text>
<text x="16" y="26.5" font-size="11" fill="#000" textLength="58" lengthAdjust="spacing">30-Jan-2015</text>
<text x="1119" y="14" font-size="11.5" fill="#666" textLength="87" lengthAdjust="spacing">&#169; StockCharts.com</text>
<text x="840" y="26.8" font-size="10.8" fill="#000" textLength="28" lengthAdjust="spacing" font-weight="bold">Open</text>
<text x="872.7" y="26.8" font-size="10.8" fill="#000" textLength="25.5" lengthAdjust="spacing">16.96</text>
<text x="904.6" y="26.8" font-size="10.8" fill="#000" textLength="23.5" lengthAdjust="spacing" font-weight="bold">High</text>
<text x="931.5" y="26.8" font-size="10.8" fill="#000" textLength="26.2" lengthAdjust="spacing">22.18</text>
<text x="964.4" y="26.8" font-size="10.8" fill="#000" textLength="22.9" lengthAdjust="spacing" font-weight="bold">Low</text>
<text x="992.3" y="26.8" font-size="10.8" fill="#000" textLength="25.9" lengthAdjust="spacing">15.52</text>
<text x="1024.9" y="26.8" font-size="10.8" fill="#000" textLength="30.9" lengthAdjust="spacing" font-weight="bold">Close</text>
<text x="1060.2" y="26.8" font-size="10.8" fill="#000" textLength="25.8" lengthAdjust="spacing">20.97</text>
<text x="1092.8" y="26.8" font-size="10.8" fill="#000" textLength="21.1" lengthAdjust="spacing" font-weight="bold">Chg</text>
<text x="1118.3" y="26.8" font-size="10.8" fill="#000" textLength="78" lengthAdjust="spacing">+4.31 (+25.87%)</text>
<polygon points="1199,26.5 1206,26.5 1202.5,21.5" fill="#222"/>
<polygon points="19.2,39.7 19.2,36 21.6,32 23.8,35.6 25.6,32.6 27.5,36.5 27.5,39.7" fill="#5a9a8a" stroke="#1a2a2a" stroke-width="0.9"/>
<text x="31.3" y="40" font-size="10.5" fill="#000" textLength="79" lengthAdjust="spacing">RSI(14) 57.59</text>
<g stroke="#000" stroke-width="1" fill="none"><line x1="20.5" y1="177.5" x2="20.5" y2="185"/><rect x="19.3" y="179" width="2.4" height="4.5" fill="#000"/><line x1="25.3" y1="177.5" x2="25.3" y2="185"/><rect x="24.1" y="179" width="2.4" height="4.5" fill="#fff"/></g>
<text x="31.6" y="185" font-size="10.5" fill="#000" textLength="115.6" lengthAdjust="spacing">$VIX (Weekly) 20.97</text>
<polygon points="19.2,196 19.2,192.4 21.6,188.5 23.8,192 25.6,189 27.5,193 27.5,196" fill="#dcc2ca" stroke="#c8aab2" stroke-width="0.7"/>
<text x="29.4" y="196" font-size="9.5" fill="#999" textLength="132" lengthAdjust="spacing">BB(20,2.0) 9.67 - 16.27 - 22.87</text>
<line x1="18.8" x2="27" y1="203.0" y2="203.0" stroke="#c4153f" stroke-width="1.6"/>
<text x="29.4" y="206.6" font-size="9.5" fill="#c4153f" textLength="58.6" lengthAdjust="spacing">MA(10) 17.11</text>
<line x1="18.8" x2="27" y1="213.8" y2="213.8" stroke="#0c5420" stroke-width="1.6"/>
<text x="29.4" y="217.4" font-size="9.5" fill="#0c5420" textLength="59.8" lengthAdjust="spacing">MA(50) 14.44</text>
<line x1="18.8" x2="27" y1="224.70000000000002" y2="224.70000000000002" stroke="#ff00ee" stroke-width="1.6"/>
<text x="29.4" y="228.3" font-size="9.5" fill="#ff00ee" textLength="64" lengthAdjust="spacing">MA(100) 14.29</text>
<line x1="18.8" x2="27" y1="235.6" y2="235.6" stroke="#8a2be2" stroke-width="1.6"/>
<text x="29.4" y="239.2" font-size="9.5" fill="#8a2be2" textLength="64" lengthAdjust="spacing">MA(200) 17.37</text>
<line x1="19.3" x2="27.5" y1="610.2" y2="610.2" stroke="#000" stroke-width="2.2"/>
<text x="31.3" y="613.8" font-size="10.5" fill="#000" textLength="120" lengthAdjust="spacing">MACD(12,26,9) 1.328</text>
<text x="152.5" y="613.8" font-size="10.5" fill="#ff1a1a" textLength="38.2" lengthAdjust="spacing">, 0.871</text>
<text x="192.5" y="613.8" font-size="10.5" fill="#5f8f8f" textLength="38.5" lengthAdjust="spacing">, 0.457</text>
<g fill="#3f8fbf" stroke="#1f5f7f" stroke-width="0.6"><rect x="19.5" y="754" width="2" height="5"/><rect x="22.5" y="750.5" width="2" height="8.5"/><rect x="25.5" y="752.5" width="2" height="6.5"/></g>
<text x="31.3" y="758.8" font-size="10.5" fill="#000" textLength="144.5" lengthAdjust="spacing">MACD(12,26,9) Hist 0.457</text>
<line x1="19.3" x2="27.5" y1="900.3" y2="900.3" stroke="#000" stroke-width="2.2"/>
<text x="31.3" y="903.8" font-size="10.5" fill="#000" textLength="183" lengthAdjust="spacing">Full STO %K(14,3) %D(3) 51.61,</text>
<text x="218.5" y="903.8" font-size="10.5" fill="#ff1a1a" textLength="30.5" lengthAdjust="spacing">42.50</text>
<line x1="19.3" x2="27.5" y1="1045.3" y2="1045.3" stroke="#000" stroke-width="2.2"/>
<text x="31.3" y="1048.8" font-size="10.5" fill="#000" textLength="81" lengthAdjust="spacing">ADX(14) 39.39</text>
<text x="118.2" y="1048.8" font-size="10.5" fill="#0c5420" textLength="55.2" lengthAdjust="spacing">+DI 30.55</text>
<text x="178.7" y="1048.8" font-size="10.5" fill="#a8284a" textLength="52.3" lengthAdjust="spacing">-DI 11.61</text>
</svg>
</body></html>
